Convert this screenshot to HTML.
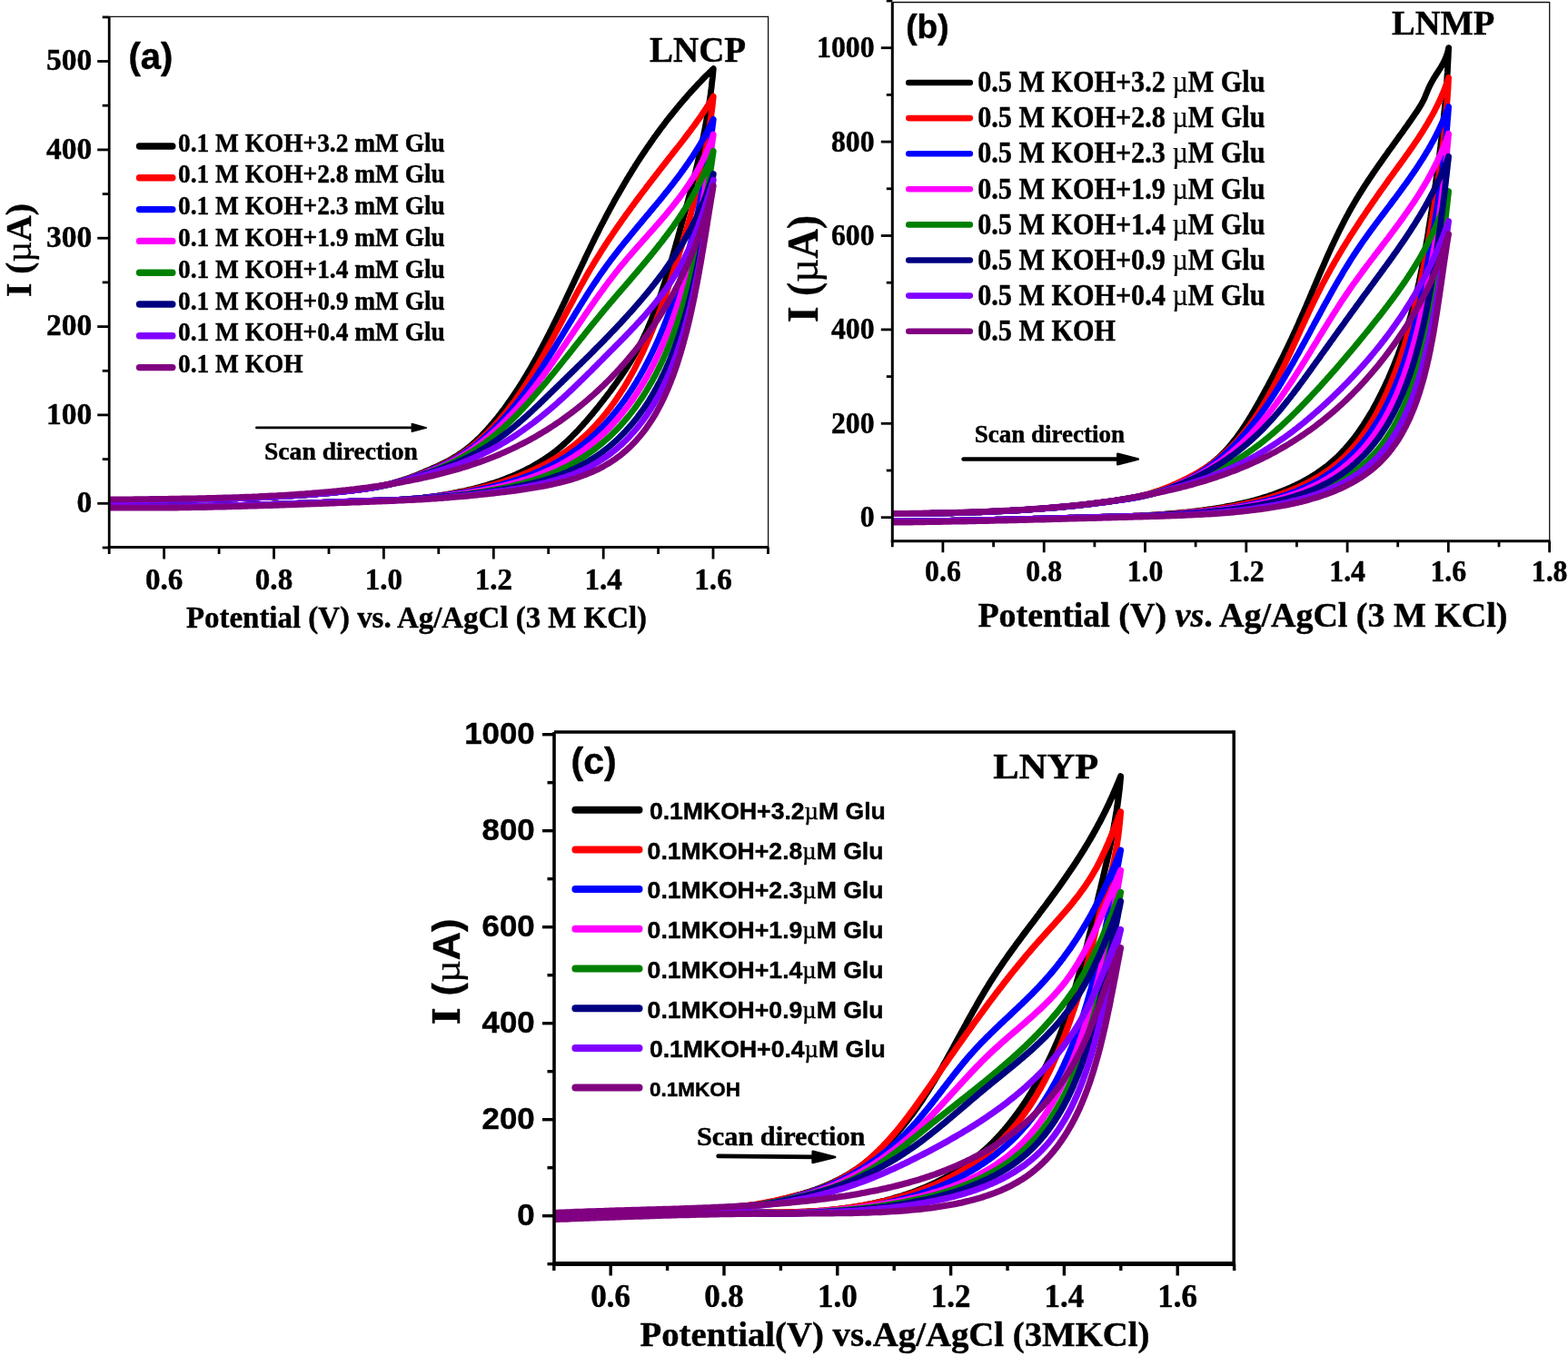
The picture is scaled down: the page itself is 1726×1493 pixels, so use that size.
<!DOCTYPE html>
<html lang="en"><head><meta charset="utf-8"><title>Cyclic voltammograms: LNCP, LNMP, LNYP</title>
<style>html,body{margin:0;padding:0;background:#fff}svg{display:block}text{fill:#000}</style></head><body>
<svg width="1726" height="1493" viewBox="0 0 1726 1493">
<rect width="1726" height="1493" fill="#fff"/>
<g id="panel-a">
<clipPath id="clip-a"><rect x="120.2" y="18.3" width="725.4" height="584.2"/></clipPath>
<g fill="none" stroke-linejoin="round" stroke-linecap="round" clip-path="url(#clip-a)">
<path d="M120.2,551.2 L123.6,551.2 L127.1,551.1 L130.5,551.1 L134,551.1 L137.4,551 L140.9,551 L144.3,551 L147.8,550.9 L151.3,550.9 L154.7,550.8 L158.2,550.8 L161.7,550.8 L165.2,550.7 L168.7,550.7 L172.1,550.6 L175.6,550.6 L179.1,550.6 L182.6,550.5 L186.1,550.5 L189.6,550.4 L193.1,550.4 L196.6,550.3 L200.1,550.2 L203.6,550.2 L207.1,550.1 L210.6,550.1 L214.1,550 L217.6,549.9 L221.1,549.9 L224.6,549.8 L228,549.7 L231.5,549.6 L235,549.5 L238.5,549.4 L242,549.3 L245.5,549.2 L248.9,549.1 L252.4,549 L255.9,548.9 L259.3,548.8 L262.8,548.7 L266.2,548.6 L269.7,548.4 L273.1,548.3 L276.6,548.2 L280,548 L283.4,547.9 L286.8,547.7 L290.2,547.6 L293.7,547.4 L297.1,547.3 L300.4,547.1 L303.8,546.9 L307.2,546.7 L310.6,546.5 L313.9,546.3 L317.3,546.1 L320.6,545.9 L324,545.7 L327.3,545.5 L330.6,545.2 L333.9,545 L337.2,544.8 L340.5,544.5 L343.8,544.3 L347,544 L350.3,543.7 L353.5,543.5 L356.7,543.2 L360,542.9 L363.2,542.6 L366.4,542.3 L369.5,542 L372.7,541.7 L375.9,541.3 L379,541 L382.1,540.6 L385.2,540.3 L388.3,539.9 L391.4,539.6 L394.5,539.2 L397.6,538.8 L400.6,538.4 L403.6,537.9 L406.6,537.4 L409.6,536.9 L412.6,536.4 L415.6,535.8 L418.5,535.2 L421.4,534.6 L424.3,533.9 L427.2,533.2 L430.1,532.5 L432.9,531.7 L435.8,530.9 L438.6,530.1 L441.4,529.2 L444.2,528.3 L446.9,527.4 L449.7,526.4 L452.4,525.4 L455.1,524.4 L457.8,523.4 L460.5,522.3 L463.1,521.2 L465.7,520.1 L468.3,519 L470.9,517.9 L473.4,516.8 L475.9,515.7 L478.4,514.6 L480.9,513.5 L483.3,512.4 L485.7,511.2 L488.1,510.1 L490.5,508.9 L492.8,507.7 L495.1,506.4 L497.4,505.1 L499.6,503.8 L501.8,502.5 L504,501.1 L506.1,499.7 L508.3,498.2 L510.3,496.8 L512.4,495.3 L514.4,493.7 L516.4,492.1 L518.3,490.5 L520.2,488.9 L522.1,487.2 L524,485.5 L525.8,483.8 L527.6,482.1 L529.4,480.3 L531.1,478.5 L532.9,476.7 L534.6,474.8 L536.3,473 L537.9,471.1 L539.6,469.2 L541.2,467.3 L542.9,465.4 L544.5,463.4 L546.1,461.5 L547.7,459.5 L549.2,457.5 L550.8,455.5 L552.3,453.5 L553.8,451.5 L555.4,449.5 L556.9,447.4 L558.4,445.3 L559.8,443.3 L561.3,441.2 L562.8,439.1 L564.2,437 L565.6,434.9 L567.1,432.7 L568.5,430.6 L569.9,428.5 L571.3,426.3 L572.7,424.1 L574,422 L575.4,419.8 L576.7,417.6 L578.1,415.4 L579.4,413.1 L580.7,410.9 L582.1,408.7 L583.4,406.4 L584.7,404.2 L586,401.9 L587.2,399.7 L588.5,397.4 L589.8,395.1 L591.1,392.8 L592.3,390.5 L593.6,388.2 L594.8,385.9 L596,383.6 L597.3,381.2 L598.5,378.9 L599.7,376.6 L600.9,374.2 L602.1,371.9 L603.3,369.5 L604.5,367.2 L605.7,364.8 L606.9,362.5 L608.1,360.1 L609.2,357.7 L610.4,355.3 L611.6,352.9 L612.7,350.6 L613.9,348.2 L615.1,345.8 L616.2,343.4 L617.4,341 L618.5,338.6 L619.7,336.2 L620.8,333.8 L622,331.4 L623.1,329 L624.2,326.5 L625.4,324.1 L626.5,321.7 L627.7,319.3 L628.8,316.9 L629.9,314.5 L631.1,312.1 L632.2,309.6 L633.3,307.2 L634.5,304.8 L635.6,302.4 L636.7,300 L637.9,297.6 L639,295.2 L640.2,292.7 L641.3,290.3 L642.5,287.9 L643.6,285.5 L644.7,283.1 L645.9,280.7 L647,278.3 L648.2,275.9 L649.4,273.5 L650.5,271.1 L651.7,268.7 L652.9,266.4 L654,264 L655.2,261.6 L656.4,259.2 L657.6,256.9 L658.8,254.5 L659.9,252.1 L661.1,249.8 L662.3,247.4 L663.6,245.1 L664.8,242.8 L666,240.4 L667.2,238.1 L668.4,235.8 L669.7,233.5 L670.9,231.2 L672.2,228.9 L673.4,226.6 L674.7,224.3 L675.9,222 L677.2,219.7 L678.5,217.4 L679.8,215.1 L681.1,212.9 L682.4,210.6 L683.7,208.4 L685,206.1 L686.3,203.9 L687.6,201.6 L688.9,199.4 L690.2,197.2 L691.6,195 L692.9,192.8 L694.3,190.6 L695.6,188.4 L697,186.2 L698.4,184 L699.7,181.8 L701.1,179.7 L702.5,177.5 L703.9,175.3 L705.3,173.2 L706.7,171.1 L708.1,168.9 L709.6,166.8 L711,164.7 L712.4,162.6 L713.9,160.5 L715.3,158.4 L716.8,156.3 L718.3,154.2 L719.7,152.1 L721.2,150 L722.7,148 L724.2,145.9 L725.7,143.9 L727.2,141.8 L728.7,139.8 L730.3,137.8 L731.8,135.7 L733.3,133.7 L734.9,131.7 L736.4,129.7 L738,127.8 L739.6,125.8 L741.2,123.8 L742.8,121.9 L744.4,119.9 L746,118 L747.6,116 L749.2,114.1 L750.8,112.2 L752.5,110.3 L754.1,108.4 L755.8,106.5 L757.4,104.6 L759.1,102.7 L760.8,100.8 L762.5,99 L764.2,97.1 L765.9,95.3 L767.6,93.4 L769.3,91.6 L771.1,89.8 L772.8,88 L774.6,86.2 L776.3,84.4 L778.1,82.6 L779.9,80.9 L781.7,79.1 L783.5,77.3 L785.3,75.6 L785,78.9 L784.7,82.1 L784.4,85.3 L784,88.5 L783.6,91.7 L783.3,94.9 L782.9,98.1 L782.5,101.2 L782.1,104.3 L781.6,107.5 L781.2,110.6 L780.7,113.7 L780.3,116.8 L779.8,119.8 L779.3,122.9 L778.8,125.9 L778.3,129 L777.7,132 L777.2,135 L776.6,138 L776.1,141 L775.5,144 L774.9,147 L774.3,149.9 L773.7,152.9 L773.1,155.8 L772.5,158.8 L771.9,161.7 L771.3,164.6 L770.6,167.5 L770,170.4 L769.3,173.3 L768.6,176.2 L768,179.1 L767.3,182 L766.6,184.8 L765.9,187.7 L765.2,190.5 L764.5,193.4 L763.8,196.2 L763.1,199.1 L762.3,201.9 L761.6,204.7 L760.9,207.6 L760.2,210.4 L759.4,213.2 L758.7,216 L757.9,218.8 L757.2,221.6 L756.4,224.4 L755.7,227.2 L754.9,230 L754.2,232.8 L753.4,235.6 L752.6,238.4 L751.9,241.2 L751.1,244 L750.3,246.7 L749.6,249.5 L748.8,252.3 L748,255.1 L747.2,257.9 L746.5,260.7 L745.7,263.4 L744.9,266.2 L744.1,269 L743.4,271.8 L742.6,274.5 L741.8,277.3 L741,280.1 L740.2,282.8 L739.4,285.6 L738.6,288.3 L737.8,291.1 L737,293.8 L736.2,296.6 L735.3,299.3 L734.5,302 L733.7,304.7 L732.8,307.4 L732,310.1 L731.1,312.8 L730.2,315.5 L729.3,318.2 L728.5,320.8 L727.6,323.5 L726.7,326.1 L725.7,328.8 L724.8,331.4 L723.9,334 L722.9,336.6 L722,339.2 L721,341.8 L720,344.4 L719,346.9 L718,349.5 L717,352 L715.9,354.5 L714.9,357 L713.8,359.5 L712.8,362 L711.7,364.5 L710.6,366.9 L709.4,369.3 L708.3,371.8 L707.1,374.2 L706,376.5 L704.8,378.9 L703.6,381.3 L702.4,383.6 L701.1,385.9 L699.9,388.2 L698.6,390.5 L697.3,392.7 L696,395 L694.6,397.2 L693.3,399.4 L691.9,401.6 L690.6,403.8 L689.2,405.9 L687.8,408.1 L686.3,410.2 L684.9,412.3 L683.5,414.4 L682,416.5 L680.5,418.6 L679.1,420.7 L677.6,422.8 L676.1,424.8 L674.6,426.9 L673.1,428.9 L671.6,431 L670,433 L668.5,435 L667,437 L665.4,439 L663.9,441 L662.3,443 L660.7,445 L659.2,447 L657.6,449 L656,450.9 L654.4,452.9 L652.8,454.8 L651.2,456.8 L649.5,458.7 L647.9,460.6 L646.3,462.5 L644.6,464.4 L642.9,466.3 L641.3,468.2 L639.6,470.1 L637.9,471.9 L636.2,473.8 L634.4,475.6 L632.7,477.4 L630.9,479.2 L629.2,481 L627.4,482.7 L625.6,484.5 L623.7,486.2 L621.9,487.9 L620,489.6 L618.1,491.3 L616.2,492.9 L614.3,494.5 L612.3,496.1 L610.3,497.6 L608.3,499.2 L606.2,500.7 L604.2,502.2 L602.1,503.6 L599.9,505.1 L597.8,506.5 L595.6,507.8 L593.4,509.2 L591.2,510.5 L588.9,511.8 L586.7,513.1 L584.4,514.4 L582.1,515.6 L579.7,516.8 L577.4,518 L575,519.2 L572.6,520.3 L570.1,521.4 L567.7,522.5 L565.2,523.6 L562.7,524.6 L560.1,525.7 L557.6,526.7 L555,527.7 L552.4,528.6 L549.8,529.6 L547.2,530.5 L544.5,531.4 L541.8,532.2 L539.1,533.1 L536.4,533.9 L533.7,534.7 L530.9,535.5 L528.1,536.3 L525.3,537 L522.5,537.8 L519.6,538.5 L516.8,539.2 L513.9,539.8 L511,540.5 L508.1,541.1 L505.1,541.7 L502.2,542.3 L499.2,542.9 L496.2,543.5 L493.2,544 L490.1,544.5 L487.1,545 L484,545.5 L480.9,546 L477.8,546.4 L474.7,546.9 L471.5,547.3 L468.4,547.7 L465.2,548.1 L462,548.4 L458.8,548.8 L455.6,549.1 L452.3,549.4 L449.1,549.6 L445.8,549.9 L442.5,550.1 L439.2,550.3 L435.9,550.4 L432.6,550.6 L429.2,550.7 L425.8,550.8 L422.5,550.9 L419.1,551 L415.7,551.1 L412.3,551.2 L408.9,551.3 L405.5,551.4 L402,551.5 L398.6,551.6 L395.1,551.7 L391.7,551.9 L388.2,552 L384.7,552.1 L381.3,552.3 L377.8,552.4 L374.3,552.5 L370.8,552.7 L367.3,552.8 L363.8,552.9 L360.3,553.1 L356.8,553.2 L353.3,553.3 L349.8,553.5 L346.3,553.6 L342.8,553.7 L339.3,553.9 L335.8,554 L332.3,554.1 L328.8,554.2 L325.3,554.4 L321.9,554.5 L318.4,554.6 L314.9,554.7 L311.4,554.9 L307.9,555 L304.5,555.1 L301,555.2 L297.6,555.3 L294.1,555.4 L290.7,555.5 L287.3,555.7 L283.9,555.8 L280.4,555.9 L277,556 L273.6,556.1 L270.3,556.2 L266.9,556.3 L263.5,556.4 L260.1,556.5 L256.8,556.5 L253.4,556.6 L250,556.7 L246.7,556.8 L243.3,556.9 L239.9,557 L236.6,557 L233.2,557.1 L229.8,557.2 L226.4,557.3 L223.1,557.3 L219.7,557.4 L216.3,557.4 L212.9,557.5 L209.5,557.6 L206.1,557.6 L202.7,557.7 L199.2,557.7 L195.8,557.7 L192.4,557.8 L188.9,557.8 L185.4,557.9 L181.9,557.9 L178.5,557.9 L174.9,557.9 L171.4,558 L167.9,558 L164.3,558 L160.8,558 L157.2,558 L153.6,558 L149.9,558 L146.3,558 L142.6,558 L139,558 L135.3,557.9 L131.5,557.9 L127.8,557.9 L124,557.8 L120.2,557.8" stroke="#000000" stroke-width="6.8"/>
<path d="M120.2,551.2 L123.7,551.2 L127.1,551.1 L130.6,551.1 L134,551.1 L137.5,551 L141,551 L144.5,551 L147.9,550.9 L151.4,550.9 L154.9,550.8 L158.4,550.8 L161.9,550.8 L165.4,550.7 L168.9,550.7 L172.4,550.6 L175.9,550.6 L179.4,550.6 L182.9,550.5 L186.4,550.5 L189.9,550.4 L193.4,550.4 L196.9,550.3 L200.4,550.2 L203.9,550.2 L207.4,550.1 L210.9,550.1 L214.4,550 L217.8,549.9 L221.3,549.8 L224.8,549.8 L228.3,549.7 L231.8,549.6 L235.3,549.5 L238.8,549.4 L242.3,549.3 L245.7,549.2 L249.2,549.1 L252.7,549 L256.1,548.9 L259.6,548.8 L263,548.7 L266.5,548.6 L269.9,548.4 L273.4,548.3 L276.8,548.2 L280.2,548 L283.7,547.9 L287.1,547.7 L290.5,547.6 L293.9,547.4 L297.3,547.2 L300.7,547.1 L304.1,546.9 L307.5,546.7 L310.8,546.5 L314.2,546.3 L317.5,546.1 L320.9,545.9 L324.2,545.7 L327.5,545.5 L330.9,545.2 L334.2,545 L337.5,544.8 L340.8,544.5 L344,544.2 L347.3,544 L350.6,543.7 L353.8,543.4 L357.1,543.2 L360.3,542.9 L363.5,542.6 L366.7,542.3 L369.9,541.9 L373.1,541.6 L376.2,541.3 L379.4,540.9 L382.5,540.6 L385.7,540.3 L388.8,539.9 L391.9,539.5 L395,539.1 L398,538.7 L401.1,538.3 L404.2,537.8 L407.2,537.3 L410.2,536.8 L413.2,536.3 L416.2,535.7 L419.2,535.1 L422.1,534.5 L425,533.9 L428,533.2 L430.9,532.5 L433.7,531.7 L436.6,531 L439.4,530.1 L442.3,529.3 L445.1,528.4 L447.8,527.5 L450.6,526.6 L453.3,525.6 L456,524.7 L458.7,523.6 L461.4,522.6 L464.1,521.5 L466.7,520.5 L469.3,519.4 L471.9,518.3 L474.4,517.2 L476.9,516.1 L479.4,515 L481.9,513.9 L484.3,512.8 L486.8,511.7 L489.1,510.5 L491.5,509.3 L493.8,508.1 L496.2,506.9 L498.4,505.6 L500.7,504.3 L502.9,502.9 L505.1,501.6 L507.2,500.2 L509.4,498.7 L511.5,497.3 L513.6,495.8 L515.6,494.3 L517.6,492.8 L519.6,491.2 L521.6,489.7 L523.6,488.1 L525.5,486.4 L527.4,484.8 L529.3,483.1 L531.2,481.4 L533,479.7 L534.8,478 L536.6,476.2 L538.4,474.5 L540.2,472.7 L541.9,470.9 L543.7,469 L545.4,467.2 L547.1,465.3 L548.8,463.4 L550.4,461.5 L552.1,459.6 L553.7,457.7 L555.3,455.8 L556.9,453.8 L558.5,451.8 L560,449.8 L561.6,447.8 L563.1,445.8 L564.7,443.8 L566.2,441.7 L567.7,439.7 L569.1,437.6 L570.6,435.5 L572.1,433.4 L573.5,431.3 L575,429.2 L576.4,427.1 L577.8,424.9 L579.2,422.8 L580.6,420.6 L582,418.4 L583.3,416.2 L584.7,414 L586.1,411.8 L587.4,409.6 L588.8,407.4 L590.1,405.2 L591.4,403 L592.7,400.7 L594,398.5 L595.3,396.2 L596.6,393.9 L597.9,391.7 L599.2,389.4 L600.5,387.1 L601.7,384.8 L603,382.5 L604.3,380.3 L605.5,378 L606.8,375.7 L608,373.3 L609.3,371 L610.5,368.7 L611.7,366.4 L613,364.1 L614.2,361.8 L615.5,359.4 L616.7,357.1 L617.9,354.8 L619.2,352.5 L620.4,350.1 L621.6,347.8 L622.8,345.5 L624.1,343.2 L625.3,340.8 L626.5,338.5 L627.8,336.2 L629,333.9 L630.3,331.6 L631.5,329.3 L632.7,326.9 L634,324.6 L635.2,322.3 L636.5,320 L637.8,317.7 L639,315.4 L640.3,313.1 L641.6,310.9 L642.8,308.6 L644.1,306.3 L645.4,304 L646.7,301.8 L648,299.5 L649.3,297.3 L650.6,295 L652,292.8 L653.3,290.6 L654.6,288.4 L656,286.2 L657.3,284 L658.7,281.8 L660.1,279.6 L661.4,277.4 L662.8,275.2 L664.2,273.1 L665.6,270.9 L667,268.7 L668.4,266.6 L669.8,264.4 L671.2,262.3 L672.7,260.2 L674.1,258.1 L675.5,255.9 L677,253.8 L678.4,251.7 L679.9,249.6 L681.3,247.5 L682.8,245.4 L684.3,243.3 L685.7,241.2 L687.2,239.2 L688.7,237.1 L690.2,235 L691.7,233 L693.2,230.9 L694.7,228.8 L696.2,226.8 L697.7,224.7 L699.2,222.7 L700.7,220.6 L702.2,218.6 L703.7,216.6 L705.3,214.5 L706.8,212.5 L708.3,210.5 L709.9,208.5 L711.4,206.4 L712.9,204.4 L714.5,202.4 L716,200.4 L717.6,198.4 L719.1,196.4 L720.7,194.4 L722.2,192.4 L723.8,190.4 L725.3,188.4 L726.9,186.4 L728.4,184.4 L730,182.4 L731.6,180.4 L733.1,178.4 L734.7,176.4 L736.2,174.4 L737.8,172.4 L739.4,170.4 L740.9,168.4 L742.5,166.4 L744.1,164.4 L745.6,162.5 L747.2,160.5 L748.8,158.5 L750.3,156.5 L751.9,154.5 L753.4,152.5 L755,150.4 L756.5,148.4 L758,146.4 L759.6,144.4 L761.1,142.3 L762.6,140.3 L764.1,138.3 L765.6,136.2 L767.1,134.1 L768.6,132 L770,130 L771.5,127.9 L772.9,125.7 L774.4,123.6 L775.8,121.5 L777.2,119.3 L778.6,117.2 L780,115 L781.3,112.8 L782.7,110.6 L784,108.3 L785.3,106.1 L785,109.3 L784.6,112.5 L784.3,115.7 L783.9,118.9 L783.5,122 L783.1,125.2 L782.7,128.3 L782.2,131.4 L781.8,134.5 L781.4,137.6 L780.9,140.7 L780.4,143.8 L779.9,146.9 L779.4,149.9 L778.9,153 L778.4,156 L777.9,159 L777.4,162 L776.8,165 L776.2,168 L775.7,171 L775.1,173.9 L774.5,176.9 L773.9,179.8 L773.3,182.8 L772.7,185.7 L772.1,188.6 L771.4,191.5 L770.8,194.4 L770.1,197.3 L769.5,200.2 L768.8,203.1 L768.1,206 L767.4,208.8 L766.7,211.7 L766,214.5 L765.3,217.4 L764.6,220.2 L763.8,223 L763.1,225.8 L762.4,228.6 L761.6,231.4 L760.9,234.2 L760.1,237 L759.3,239.8 L758.6,242.6 L757.8,245.3 L757,248.1 L756.2,250.8 L755.4,253.6 L754.6,256.3 L753.8,259.1 L753,261.8 L752.2,264.5 L751.3,267.3 L750.5,270 L749.7,272.7 L748.8,275.4 L748,278.1 L747.1,280.8 L746.3,283.5 L745.4,286.2 L744.6,288.9 L743.7,291.6 L742.9,294.2 L742,296.9 L741.1,299.6 L740.2,302.3 L739.4,304.9 L738.5,307.6 L737.6,310.3 L736.7,312.9 L735.8,315.6 L734.9,318.2 L734,320.9 L733.1,323.5 L732.2,326.1 L731.2,328.8 L730.3,331.4 L729.4,334 L728.4,336.6 L727.5,339.2 L726.5,341.8 L725.6,344.4 L724.6,346.9 L723.6,349.5 L722.6,352.1 L721.6,354.6 L720.6,357.2 L719.6,359.7 L718.6,362.2 L717.6,364.8 L716.5,367.3 L715.5,369.8 L714.4,372.3 L713.4,374.7 L712.3,377.2 L711.2,379.7 L710.1,382.1 L709,384.6 L707.9,387 L706.8,389.4 L705.6,391.8 L704.5,394.2 L703.3,396.6 L702.1,399 L700.9,401.3 L699.7,403.7 L698.5,406 L697.3,408.3 L696,410.6 L694.8,412.9 L693.5,415.2 L692.2,417.5 L690.9,419.7 L689.6,421.9 L688.3,424.2 L687,426.4 L685.6,428.6 L684.2,430.7 L682.8,432.9 L681.4,435 L680,437.2 L678.6,439.3 L677.1,441.4 L675.7,443.5 L674.2,445.5 L672.7,447.6 L671.2,449.6 L669.6,451.6 L668.1,453.6 L666.5,455.6 L664.9,457.5 L663.3,459.5 L661.7,461.4 L660,463.3 L658.4,465.2 L656.7,467 L655,468.9 L653.3,470.7 L651.5,472.5 L649.7,474.3 L648,476.1 L646.2,477.8 L644.3,479.5 L642.5,481.2 L640.6,482.9 L638.7,484.6 L636.8,486.2 L634.9,487.8 L632.9,489.4 L631,491 L629,492.5 L626.9,494 L624.9,495.6 L622.8,497 L620.7,498.5 L618.6,499.9 L616.5,501.3 L614.3,502.7 L612.1,504.1 L609.9,505.4 L607.7,506.7 L605.4,508 L603.2,509.3 L600.9,510.6 L598.5,511.8 L596.2,513 L593.8,514.2 L591.5,515.3 L589.1,516.5 L586.6,517.6 L584.2,518.7 L581.7,519.8 L579.2,520.9 L576.7,521.9 L574.2,522.9 L571.7,523.9 L569.1,524.9 L566.5,525.9 L563.9,526.8 L561.3,527.7 L558.6,528.6 L556,529.5 L553.3,530.4 L550.6,531.2 L547.9,532.1 L545.1,532.9 L542.4,533.7 L539.6,534.4 L536.8,535.2 L534,535.9 L531.2,536.6 L528.3,537.3 L525.5,538 L522.6,538.7 L519.7,539.3 L516.8,540 L513.8,540.6 L510.9,541.2 L507.9,541.8 L504.9,542.3 L501.9,542.9 L498.9,543.4 L495.9,543.9 L492.8,544.4 L489.8,544.9 L486.7,545.4 L483.6,545.8 L480.5,546.3 L477.4,546.7 L474.2,547.1 L471.1,547.5 L467.9,547.9 L464.7,548.3 L461.5,548.6 L458.3,548.9 L455.1,549.2 L451.8,549.5 L448.6,549.8 L445.3,550 L442,550.2 L438.7,550.4 L435.4,550.5 L432.1,550.7 L428.8,550.8 L425.4,550.9 L422.1,551 L418.7,551.1 L415.3,551.2 L412,551.3 L408.6,551.4 L405.2,551.5 L401.8,551.5 L398.4,551.6 L394.9,551.8 L391.5,551.9 L388.1,552 L384.6,552.1 L381.2,552.3 L377.7,552.4 L374.3,552.5 L370.8,552.7 L367.3,552.8 L363.8,552.9 L360.4,553.1 L356.9,553.2 L353.4,553.3 L349.9,553.5 L346.4,553.6 L343,553.7 L339.5,553.8 L336,554 L332.5,554.1 L329,554.2 L325.5,554.4 L322,554.5 L318.5,554.6 L315.1,554.7 L311.6,554.9 L308.1,555 L304.6,555.1 L301.1,555.2 L297.7,555.3 L294.2,555.4 L290.8,555.5 L287.3,555.7 L283.9,555.8 L280.4,555.9 L277,556 L273.5,556.1 L270.1,556.2 L266.7,556.3 L263.2,556.4 L259.8,556.5 L256.4,556.6 L253,556.6 L249.6,556.7 L246.1,556.8 L242.7,556.9 L239.3,557 L235.9,557.1 L232.5,557.1 L229,557.2 L225.6,557.3 L222.2,557.3 L218.8,557.4 L215.3,557.5 L211.9,557.5 L208.5,557.6 L205,557.6 L201.6,557.7 L198.1,557.7 L194.7,557.8 L191.2,557.8 L187.7,557.8 L184.3,557.9 L180.8,557.9 L177.3,557.9 L173.8,557.9 L170.3,558 L166.8,558 L163.3,558 L159.7,558 L156.2,558 L152.6,558 L149.1,558 L145.5,558 L141.9,558 L138.3,558 L134.7,557.9 L131.1,557.9 L127.5,557.9 L123.9,557.8 L120.2,557.8" stroke="#ff0000" stroke-width="6.8"/>
<path d="M120.2,551.2 L123.6,551.2 L127.1,551.1 L130.5,551.1 L133.9,551.1 L137.4,551 L140.8,551 L144.3,551 L147.8,550.9 L151.2,550.9 L154.7,550.8 L158.2,550.8 L161.7,550.8 L165.2,550.7 L168.6,550.7 L172.1,550.6 L175.6,550.6 L179.1,550.6 L182.6,550.5 L186.1,550.5 L189.6,550.4 L193.1,550.4 L196.6,550.3 L200.1,550.2 L203.6,550.2 L207.1,550.1 L210.6,550.1 L214.1,550 L217.6,549.9 L221.1,549.9 L224.6,549.8 L228.1,549.7 L231.6,549.6 L235.1,549.5 L238.6,549.4 L242,549.3 L245.5,549.2 L249,549.1 L252.5,549 L256,548.9 L259.4,548.8 L262.9,548.7 L266.4,548.6 L269.8,548.4 L273.3,548.3 L276.7,548.2 L280.2,548 L283.6,547.9 L287,547.7 L290.5,547.6 L293.9,547.4 L297.3,547.2 L300.7,547.1 L304.1,546.9 L307.5,546.7 L310.9,546.5 L314.2,546.3 L317.6,546.1 L321,545.9 L324.3,545.7 L327.7,545.5 L331,545.2 L334.3,545 L337.6,544.7 L340.9,544.5 L344.2,544.2 L347.5,544 L350.8,543.7 L354,543.4 L357.3,543.1 L360.5,542.8 L363.7,542.5 L366.9,542.2 L370.2,541.9 L373.3,541.6 L376.5,541.3 L379.7,540.9 L382.8,540.6 L386,540.2 L389.1,539.9 L392.2,539.5 L395.3,539.1 L398.4,538.7 L401.4,538.3 L404.5,537.8 L407.5,537.3 L410.5,536.8 L413.5,536.3 L416.5,535.8 L419.5,535.2 L422.4,534.6 L425.4,534 L428.3,533.3 L431.2,532.6 L434,531.9 L436.9,531.1 L439.7,530.3 L442.6,529.5 L445.4,528.7 L448.1,527.8 L450.9,526.9 L453.6,525.9 L456.3,524.9 L459,524 L461.7,522.9 L464.4,521.9 L467,520.8 L469.6,519.8 L472.2,518.7 L474.7,517.6 L477.3,516.5 L479.8,515.5 L482.2,514.4 L484.7,513.3 L487.1,512.2 L489.5,511 L491.9,509.9 L494.3,508.7 L496.6,507.4 L498.9,506.2 L501.2,504.9 L503.4,503.6 L505.6,502.2 L507.8,500.9 L510,499.5 L512.1,498.1 L514.2,496.6 L516.3,495.2 L518.4,493.7 L520.4,492.2 L522.5,490.6 L524.5,489.1 L526.4,487.5 L528.4,485.9 L530.3,484.3 L532.3,482.6 L534.1,481 L536,479.3 L537.9,477.6 L539.7,475.9 L541.5,474.2 L543.4,472.4 L545.1,470.7 L546.9,468.9 L548.7,467.1 L550.4,465.3 L552.1,463.4 L553.8,461.6 L555.5,459.7 L557.2,457.8 L558.9,455.9 L560.5,454 L562.2,452.1 L563.8,450.2 L565.4,448.2 L567,446.3 L568.6,444.3 L570.1,442.3 L571.7,440.3 L573.2,438.3 L574.8,436.3 L576.3,434.3 L577.8,432.2 L579.3,430.2 L580.8,428.1 L582.3,426 L583.8,424 L585.2,421.9 L586.7,419.8 L588.1,417.7 L589.6,415.6 L591,413.4 L592.4,411.3 L593.8,409.2 L595.3,407 L596.7,404.9 L598.1,402.7 L599.4,400.5 L600.8,398.4 L602.2,396.2 L603.6,394 L605,391.8 L606.3,389.6 L607.7,387.5 L609,385.3 L610.4,383.1 L611.7,380.9 L613.1,378.7 L614.4,376.4 L615.8,374.2 L617.1,372 L618.5,369.8 L619.8,367.6 L621.1,365.4 L622.5,363.2 L623.8,360.9 L625.2,358.7 L626.5,356.5 L627.8,354.3 L629.2,352.1 L630.5,349.9 L631.9,347.7 L633.2,345.4 L634.6,343.2 L635.9,341 L637.3,338.8 L638.6,336.6 L640,334.4 L641.3,332.2 L642.7,330.1 L644.1,327.9 L645.5,325.7 L646.8,323.5 L648.2,321.4 L649.6,319.2 L651,317 L652.4,314.9 L653.8,312.7 L655.3,310.6 L656.7,308.5 L658.1,306.4 L659.6,304.2 L661,302.1 L662.5,300 L663.9,298 L665.4,295.9 L666.9,293.8 L668.4,291.8 L669.9,289.7 L671.4,287.7 L672.9,285.6 L674.5,283.6 L676,281.6 L677.6,279.6 L679.1,277.6 L680.7,275.6 L682.2,273.6 L683.8,271.6 L685.4,269.7 L687,267.7 L688.6,265.7 L690.2,263.8 L691.8,261.8 L693.4,259.8 L695,257.9 L696.6,256 L698.2,254 L699.8,252.1 L701.4,250.1 L703,248.2 L704.7,246.3 L706.3,244.3 L707.9,242.4 L709.5,240.5 L711.1,238.5 L712.8,236.6 L714.4,234.7 L716,232.7 L717.6,230.8 L719.2,228.8 L720.8,226.9 L722.5,225 L724.1,223 L725.7,221.1 L727.3,219.1 L728.9,217.2 L730.5,215.2 L732,213.2 L733.6,211.3 L735.2,209.3 L736.8,207.3 L738.3,205.3 L739.9,203.3 L741.5,201.3 L743,199.3 L744.5,197.3 L746.1,195.3 L747.6,193.2 L749.1,191.2 L750.6,189.1 L752.1,187.1 L753.6,185 L755,182.9 L756.5,180.8 L758,178.7 L759.4,176.6 L760.8,174.5 L762.3,172.3 L763.7,170.2 L765,168 L766.4,165.8 L767.8,163.7 L769.1,161.5 L770.5,159.2 L771.8,157 L773.1,154.8 L774.4,152.5 L775.7,150.2 L776.9,147.9 L778.2,145.6 L779.4,143.3 L780.6,140.9 L781.8,138.6 L783,136.2 L784.2,133.8 L785.3,131.4 L784.9,134.6 L784.5,137.7 L784.1,140.9 L783.7,144 L783.3,147.2 L782.8,150.3 L782.4,153.4 L782,156.5 L781.5,159.6 L781.1,162.7 L780.6,165.8 L780.1,168.9 L779.7,172 L779.2,175.1 L778.7,178.2 L778.2,181.2 L777.7,184.3 L777.2,187.3 L776.7,190.4 L776.1,193.4 L775.6,196.4 L775.1,199.4 L774.5,202.4 L774,205.4 L773.4,208.4 L772.8,211.4 L772.2,214.4 L771.7,217.4 L771.1,220.3 L770.5,223.3 L769.9,226.3 L769.2,229.2 L768.6,232.1 L768,235.1 L767.4,238 L766.7,240.9 L766.1,243.8 L765.4,246.7 L764.7,249.6 L764,252.5 L763.4,255.3 L762.7,258.2 L762,261.1 L761.3,263.9 L760.5,266.7 L759.8,269.6 L759.1,272.4 L758.3,275.2 L757.6,278 L756.8,280.8 L756.1,283.6 L755.3,286.4 L754.5,289.2 L753.7,291.9 L752.9,294.7 L752.1,297.4 L751.3,300.2 L750.5,302.9 L749.6,305.6 L748.8,308.4 L747.9,311.1 L747.1,313.8 L746.2,316.4 L745.3,319.1 L744.4,321.8 L743.5,324.5 L742.6,327.1 L741.7,329.8 L740.8,332.4 L739.9,335 L738.9,337.6 L738,340.2 L737,342.8 L736.1,345.4 L735.1,348 L734.1,350.6 L733.1,353.2 L732.1,355.7 L731.1,358.3 L730.1,360.8 L729,363.3 L728,365.8 L726.9,368.3 L725.9,370.8 L724.8,373.3 L723.7,375.8 L722.6,378.2 L721.5,380.7 L720.4,383.1 L719.2,385.5 L718.1,387.9 L716.9,390.3 L715.7,392.7 L714.6,395.1 L713.4,397.4 L712.1,399.8 L710.9,402.1 L709.7,404.5 L708.4,406.8 L707.2,409.1 L705.9,411.3 L704.6,413.6 L703.3,415.9 L702,418.1 L700.7,420.3 L699.3,422.5 L697.9,424.7 L696.6,426.9 L695.2,429.1 L693.8,431.2 L692.3,433.4 L690.9,435.5 L689.5,437.6 L688,439.7 L686.5,441.8 L685,443.8 L683.5,445.8 L681.9,447.9 L680.4,449.9 L678.8,451.9 L677.2,453.8 L675.6,455.8 L674,457.7 L672.4,459.7 L670.7,461.6 L669.1,463.4 L667.4,465.3 L665.7,467.2 L663.9,469 L662.2,470.8 L660.4,472.6 L658.6,474.4 L656.8,476.1 L655,477.9 L653.2,479.6 L651.3,481.3 L649.4,483 L647.5,484.6 L645.6,486.2 L643.7,487.9 L641.7,489.5 L639.7,491 L637.7,492.6 L635.7,494.1 L633.7,495.6 L631.6,497.1 L629.5,498.6 L627.4,500 L625.3,501.5 L623.1,502.9 L620.9,504.3 L618.7,505.6 L616.5,507 L614.3,508.3 L612,509.6 L609.7,510.8 L607.4,512.1 L605.1,513.3 L602.7,514.5 L600.3,515.7 L597.9,516.8 L595.5,518 L593.1,519.1 L590.6,520.2 L588.1,521.2 L585.6,522.3 L583,523.3 L580.4,524.2 L577.8,525.2 L575.2,526.2 L572.6,527.1 L569.9,528 L567.2,528.8 L564.5,529.7 L561.8,530.5 L559.1,531.4 L556.3,532.1 L553.5,532.9 L550.7,533.7 L547.9,534.4 L545.1,535.1 L542.2,535.8 L539.3,536.5 L536.4,537.2 L533.5,537.8 L530.6,538.4 L527.6,539 L524.7,539.6 L521.7,540.2 L518.7,540.8 L515.7,541.3 L512.6,541.8 L509.6,542.3 L506.5,542.8 L503.4,543.3 L500.3,543.8 L497.2,544.2 L494.1,544.7 L491,545.1 L487.8,545.5 L484.7,545.9 L481.5,546.3 L478.3,546.7 L475.1,547 L471.9,547.4 L468.7,547.7 L465.5,548.1 L462.2,548.4 L459,548.7 L455.7,549 L452.4,549.3 L449.2,549.5 L445.9,549.8 L442.6,550 L439.3,550.2 L435.9,550.3 L432.6,550.5 L429.3,550.7 L425.9,550.8 L422.6,550.9 L419.2,551 L415.9,551.1 L412.5,551.2 L409.1,551.3 L405.8,551.4 L402.4,551.5 L399,551.6 L395.6,551.7 L392.2,551.9 L388.8,552 L385.4,552.1 L382,552.2 L378.5,552.4 L375.1,552.5 L371.7,552.6 L368.3,552.8 L364.8,552.9 L361.4,553 L357.9,553.2 L354.5,553.3 L351,553.4 L347.6,553.5 L344.1,553.7 L340.7,553.8 L337.2,553.9 L333.7,554.1 L330.3,554.2 L326.8,554.3 L323.3,554.4 L319.8,554.6 L316.4,554.7 L312.9,554.8 L309.4,554.9 L305.9,555 L302.4,555.2 L298.9,555.3 L295.4,555.4 L291.9,555.5 L288.4,555.6 L284.9,555.7 L281.4,555.8 L277.9,555.9 L274.4,556.1 L270.9,556.2 L267.4,556.3 L263.9,556.4 L260.4,556.4 L256.9,556.5 L253.4,556.6 L249.9,556.7 L246.3,556.8 L242.8,556.9 L239.3,557 L235.8,557.1 L232.3,557.1 L228.8,557.2 L225.2,557.3 L221.7,557.3 L218.2,557.4 L214.7,557.5 L211.2,557.5 L207.7,557.6 L204.2,557.6 L200.6,557.7 L197.1,557.7 L193.6,557.8 L190.1,557.8 L186.6,557.9 L183.1,557.9 L179.6,557.9 L176.1,557.9 L172.6,558 L169.1,558 L165.6,558 L162.1,558 L158.6,558 L155.1,558 L151.6,558 L148.1,558 L144.6,558 L141.1,558 L137.6,558 L134.1,557.9 L130.6,557.9 L127.2,557.9 L123.7,557.8 L120.2,557.8" stroke="#0000ff" stroke-width="6.8"/>
<path d="M120.2,551.2 L123.6,551.2 L127.1,551.1 L130.5,551.1 L134,551.1 L137.4,551 L140.9,551 L144.4,551 L147.8,550.9 L151.3,550.9 L154.8,550.8 L158.3,550.8 L161.7,550.8 L165.2,550.7 L168.7,550.7 L172.2,550.6 L175.7,550.6 L179.2,550.6 L182.7,550.5 L186.2,550.5 L189.7,550.4 L193.2,550.4 L196.7,550.3 L200.2,550.2 L203.7,550.2 L207.2,550.1 L210.7,550.1 L214.2,550 L217.7,549.9 L221.2,549.8 L224.7,549.8 L228.2,549.7 L231.7,549.6 L235.2,549.5 L238.7,549.4 L242.2,549.3 L245.7,549.2 L249.2,549.1 L252.7,549 L256.1,548.9 L259.6,548.8 L263.1,548.7 L266.5,548.6 L270,548.4 L273.5,548.3 L276.9,548.2 L280.4,548 L283.8,547.9 L287.2,547.7 L290.7,547.6 L294.1,547.4 L297.5,547.2 L300.9,547.1 L304.3,546.9 L307.7,546.7 L311.1,546.5 L314.5,546.3 L317.8,546.1 L321.2,545.9 L324.6,545.7 L327.9,545.4 L331.2,545.2 L334.6,545 L337.9,544.7 L341.2,544.5 L344.5,544.2 L347.8,543.9 L351.1,543.7 L354.3,543.4 L357.6,543.1 L360.8,542.8 L364.1,542.5 L367.3,542.2 L370.5,541.9 L373.7,541.6 L376.9,541.2 L380,540.9 L383.2,540.5 L386.3,540.2 L389.5,539.8 L392.6,539.4 L395.7,539 L398.8,538.6 L401.9,538.2 L404.9,537.7 L408,537.3 L411,536.8 L414,536.3 L417,535.7 L420,535.1 L422.9,534.5 L425.9,533.9 L428.8,533.3 L431.7,532.6 L434.6,531.9 L437.5,531.1 L440.4,530.4 L443.2,529.5 L446,528.7 L448.8,527.9 L451.6,527 L454.3,526 L457.1,525.1 L459.8,524.1 L462.5,523.1 L465.1,522.1 L467.8,521.1 L470.4,520.1 L473,519 L475.6,518 L478.1,516.9 L480.7,515.9 L483.2,514.8 L485.7,513.8 L488.1,512.6 L490.5,511.5 L492.9,510.4 L495.3,509.2 L497.7,508 L500,506.7 L502.3,505.5 L504.6,504.2 L506.8,502.9 L509,501.5 L511.2,500.2 L513.4,498.8 L515.6,497.4 L517.7,495.9 L519.8,494.5 L521.9,493 L523.9,491.5 L526,490 L528,488.5 L530,486.9 L532,485.3 L533.9,483.7 L535.9,482.1 L537.8,480.5 L539.7,478.8 L541.6,477.2 L543.5,475.5 L545.3,473.8 L547.2,472.1 L549,470.3 L550.8,468.6 L552.6,466.8 L554.4,465.1 L556.2,463.3 L558,461.5 L559.7,459.7 L561.4,457.9 L563.2,456 L564.9,454.2 L566.6,452.3 L568.3,450.4 L569.9,448.6 L571.6,446.7 L573.2,444.7 L574.9,442.8 L576.5,440.9 L578.1,439 L579.7,437 L581.3,435.1 L582.9,433.1 L584.5,431.1 L586.1,429.1 L587.6,427.1 L589.2,425.1 L590.7,423.1 L592.3,421.1 L593.8,419.1 L595.3,417 L596.9,415 L598.4,412.9 L599.9,410.9 L601.4,408.8 L602.9,406.8 L604.4,404.7 L605.8,402.6 L607.3,400.5 L608.8,398.4 L610.2,396.3 L611.7,394.2 L613.2,392.2 L614.6,390 L616.1,387.9 L617.5,385.8 L619,383.7 L620.4,381.6 L621.9,379.5 L623.3,377.4 L624.7,375.2 L626.2,373.1 L627.6,371 L629,368.9 L630.5,366.8 L631.9,364.6 L633.4,362.5 L634.8,360.4 L636.2,358.3 L637.7,356.1 L639.1,354 L640.5,351.9 L642,349.8 L643.4,347.7 L644.9,345.5 L646.3,343.4 L647.8,341.3 L649.2,339.2 L650.7,337.1 L652.1,335 L653.6,332.9 L655.1,330.8 L656.5,328.7 L658,326.7 L659.5,324.6 L661,322.5 L662.5,320.5 L664,318.4 L665.5,316.3 L667,314.3 L668.5,312.3 L670,310.2 L671.6,308.2 L673.1,306.2 L674.7,304.2 L676.2,302.2 L677.8,300.2 L679.4,298.2 L680.9,296.2 L682.5,294.2 L684.1,292.3 L685.7,290.3 L687.4,288.4 L689,286.5 L690.6,284.5 L692.3,282.6 L693.9,280.7 L695.6,278.8 L697.2,276.9 L698.9,275 L700.5,273.1 L702.2,271.2 L703.9,269.3 L705.6,267.5 L707.2,265.6 L708.9,263.7 L710.6,261.8 L712.3,259.9 L713.9,258 L715.6,256.2 L717.3,254.3 L719,252.4 L720.6,250.5 L722.3,248.6 L724,246.7 L725.6,244.8 L727.3,242.9 L728.9,241 L730.6,239.1 L732.2,237.1 L733.8,235.2 L735.4,233.3 L737,231.3 L738.6,229.4 L740.2,227.4 L741.8,225.4 L743.4,223.4 L744.9,221.4 L746.5,219.4 L748,217.4 L749.5,215.3 L751,213.3 L752.5,211.2 L754,209.1 L755.5,207 L756.9,204.9 L758.3,202.8 L759.7,200.6 L761.1,198.5 L762.5,196.3 L763.9,194.1 L765.2,191.9 L766.5,189.6 L767.8,187.4 L769.1,185.1 L770.3,182.8 L771.6,180.4 L772.8,178.1 L774,175.7 L775.1,173.3 L776.3,170.9 L777.4,168.5 L778.5,166 L779.5,163.5 L780.6,161 L781.6,158.4 L782.5,155.8 L783.5,153.2 L784.4,150.6 L785.3,147.9 L784.9,151 L784.4,154.1 L784,157.2 L783.5,160.3 L783.1,163.4 L782.6,166.5 L782.2,169.6 L781.7,172.7 L781.2,175.8 L780.8,178.9 L780.3,181.9 L779.8,185 L779.3,188.1 L778.8,191.1 L778.3,194.2 L777.8,197.3 L777.3,200.3 L776.8,203.3 L776.3,206.4 L775.8,209.4 L775.3,212.4 L774.7,215.5 L774.2,218.5 L773.7,221.5 L773.1,224.5 L772.6,227.5 L772,230.5 L771.4,233.4 L770.9,236.4 L770.3,239.4 L769.7,242.4 L769.1,245.3 L768.5,248.3 L767.9,251.2 L767.3,254.1 L766.6,257.1 L766,260 L765.4,262.9 L764.7,265.8 L764.1,268.7 L763.4,271.6 L762.8,274.5 L762.1,277.4 L761.4,280.2 L760.7,283.1 L760,285.9 L759.3,288.8 L758.6,291.6 L757.9,294.4 L757.1,297.2 L756.4,300.1 L755.6,302.9 L754.9,305.6 L754.1,308.4 L753.3,311.2 L752.5,314 L751.7,316.7 L750.9,319.4 L750.1,322.2 L749.3,324.9 L748.4,327.6 L747.6,330.3 L746.7,333 L745.9,335.7 L745,338.4 L744.1,341 L743.2,343.7 L742.3,346.3 L741.4,348.9 L740.4,351.6 L739.5,354.2 L738.5,356.8 L737.6,359.4 L736.6,361.9 L735.6,364.5 L734.6,367 L733.6,369.6 L732.5,372.1 L731.5,374.6 L730.5,377.1 L729.4,379.6 L728.3,382.1 L727.2,384.5 L726.1,387 L725,389.4 L723.9,391.8 L722.7,394.2 L721.6,396.6 L720.4,399 L719.2,401.4 L718,403.7 L716.8,406.1 L715.6,408.4 L714.3,410.7 L713.1,413 L711.8,415.3 L710.5,417.5 L709.2,419.8 L707.9,422 L706.6,424.2 L705.2,426.4 L703.8,428.6 L702.5,430.8 L701.1,432.9 L699.6,435 L698.2,437.2 L696.8,439.3 L695.3,441.4 L693.8,443.4 L692.3,445.5 L690.8,447.5 L689.3,449.5 L687.7,451.5 L686.1,453.5 L684.6,455.5 L682.9,457.4 L681.3,459.3 L679.7,461.3 L678,463.1 L676.3,465 L674.7,466.9 L672.9,468.7 L671.2,470.5 L669.4,472.3 L667.7,474.1 L665.9,475.8 L664.1,477.6 L662.2,479.3 L660.4,481 L658.5,482.7 L656.6,484.3 L654.7,486 L652.8,487.6 L650.8,489.2 L648.8,490.8 L646.8,492.3 L644.8,493.8 L642.8,495.4 L640.7,496.8 L638.6,498.3 L636.5,499.8 L634.4,501.2 L632.3,502.6 L630.1,504 L627.9,505.3 L625.7,506.7 L623.4,508 L621.2,509.3 L618.9,510.5 L616.6,511.8 L614.3,513 L611.9,514.2 L609.5,515.4 L607.1,516.5 L604.7,517.6 L602.3,518.7 L599.8,519.8 L597.3,520.9 L594.8,521.9 L592.2,522.9 L589.7,523.9 L587.1,524.9 L584.5,525.8 L581.8,526.7 L579.2,527.6 L576.5,528.5 L573.8,529.3 L571.1,530.2 L568.3,531 L565.6,531.8 L562.8,532.5 L560,533.3 L557.2,534 L554.3,534.7 L551.5,535.4 L548.6,536.1 L545.7,536.8 L542.8,537.4 L539.9,538 L536.9,538.6 L534,539.2 L531,539.8 L528,540.4 L525,540.9 L522,541.4 L518.9,541.9 L515.9,542.4 L512.8,542.9 L509.7,543.4 L506.6,543.8 L503.5,544.3 L500.4,544.7 L497.2,545.1 L494.1,545.5 L490.9,545.9 L487.8,546.3 L484.6,546.6 L481.4,547 L478.1,547.3 L474.9,547.6 L471.7,548 L468.4,548.3 L465.2,548.6 L461.9,548.8 L458.6,549.1 L455.4,549.4 L452.1,549.6 L448.8,549.8 L445.5,550 L442.1,550.2 L438.8,550.3 L435.5,550.5 L432.1,550.6 L428.8,550.7 L425.4,550.9 L422.1,551 L418.7,551.1 L415.3,551.2 L412,551.3 L408.6,551.4 L405.2,551.4 L401.8,551.5 L398.4,551.6 L395,551.8 L391.6,551.9 L388.2,552 L384.8,552.1 L381.3,552.3 L377.9,552.4 L374.5,552.5 L371.1,552.7 L367.6,552.8 L364.2,552.9 L360.8,553 L357.3,553.2 L353.9,553.3 L350.4,553.4 L347,553.6 L343.5,553.7 L340.1,553.8 L336.6,554 L333.2,554.1 L329.7,554.2 L326.2,554.3 L322.8,554.5 L319.3,554.6 L315.8,554.7 L312.4,554.8 L308.9,554.9 L305.4,555.1 L301.9,555.2 L298.4,555.3 L294.9,555.4 L291.5,555.5 L288,555.6 L284.5,555.7 L281,555.9 L277.5,556 L274,556.1 L270.5,556.2 L267,556.3 L263.5,556.4 L260,556.5 L256.5,556.6 L253,556.6 L249.5,556.7 L246,556.8 L242.5,556.9 L239,557 L235.5,557.1 L232,557.1 L228.5,557.2 L225,557.3 L221.5,557.3 L218,557.4 L214.5,557.5 L211,557.5 L207.5,557.6 L204,557.6 L200.5,557.7 L197,557.7 L193.5,557.8 L190,557.8 L186.5,557.9 L183,557.9 L179.5,557.9 L176,557.9 L172.5,558 L169,558 L165.5,558 L162,558 L158.5,558 L155,558 L151.5,558 L148,558 L144.6,558 L141.1,558 L137.6,558 L134.1,557.9 L130.6,557.9 L127.1,557.9 L123.7,557.8 L120.2,557.8" stroke="#ff00ff" stroke-width="6.8"/>
<path d="M120.2,551.2 L123.6,551.2 L127,551.1 L130.5,551.1 L133.9,551.1 L137.3,551 L140.8,551 L144.2,551 L147.7,550.9 L151.2,550.9 L154.6,550.8 L158.1,550.8 L161.6,550.8 L165,550.7 L168.5,550.7 L172,550.6 L175.5,550.6 L179,550.6 L182.5,550.5 L186,550.5 L189.5,550.4 L193,550.4 L196.5,550.3 L200,550.2 L203.5,550.2 L207,550.1 L210.5,550.1 L214,550 L217.5,549.9 L221,549.9 L224.5,549.8 L228,549.7 L231.5,549.6 L235,549.5 L238.5,549.4 L242,549.3 L245.5,549.2 L249,549.1 L252.5,549 L255.9,548.9 L259.4,548.8 L262.9,548.7 L266.4,548.6 L269.8,548.4 L273.3,548.3 L276.8,548.2 L280.2,548 L283.7,547.9 L287.1,547.7 L290.5,547.6 L294,547.4 L297.4,547.2 L300.8,547.1 L304.2,546.9 L307.6,546.7 L311,546.5 L314.4,546.3 L317.8,546.1 L321.2,545.9 L324.5,545.7 L327.9,545.4 L331.2,545.2 L334.6,545 L337.9,544.7 L341.2,544.5 L344.5,544.2 L347.8,543.9 L351.1,543.7 L354.4,543.4 L357.7,543.1 L360.9,542.8 L364.2,542.5 L367.4,542.2 L370.6,541.9 L373.8,541.5 L377,541.2 L380.2,540.9 L383.4,540.5 L386.5,540.2 L389.6,539.8 L392.8,539.4 L395.9,539 L399,538.6 L402.1,538.2 L405.1,537.7 L408.2,537.3 L411.2,536.8 L414.2,536.3 L417.3,535.8 L420.2,535.2 L423.2,534.6 L426.2,534 L429.1,533.4 L432,532.7 L434.9,532 L437.8,531.3 L440.7,530.6 L443.5,529.8 L446.3,529 L449.1,528.2 L451.9,527.3 L454.7,526.4 L457.5,525.5 L460.2,524.6 L462.9,523.6 L465.6,522.6 L468.2,521.6 L470.9,520.6 L473.5,519.6 L476.1,518.6 L478.7,517.6 L481.2,516.6 L483.8,515.6 L486.3,514.5 L488.8,513.4 L491.2,512.4 L493.7,511.2 L496.1,510.1 L498.5,508.9 L500.9,507.8 L503.2,506.6 L505.5,505.3 L507.9,504.1 L510.2,502.8 L512.4,501.5 L514.7,500.2 L516.9,498.9 L519.1,497.6 L521.3,496.2 L523.4,494.8 L525.6,493.4 L527.7,491.9 L529.8,490.5 L531.9,489 L533.9,487.5 L536,486 L538,484.4 L540,482.9 L542,481.3 L543.9,479.7 L545.9,478.1 L547.8,476.5 L549.7,474.8 L551.6,473.2 L553.5,471.5 L555.4,469.8 L557.2,468.1 L559.1,466.4 L560.9,464.7 L562.7,462.9 L564.5,461.2 L566.3,459.4 L568.1,457.6 L569.8,455.8 L571.6,454 L573.3,452.2 L575.1,450.4 L576.8,448.5 L578.5,446.7 L580.2,444.8 L581.9,443 L583.6,441.1 L585.3,439.2 L586.9,437.3 L588.6,435.4 L590.2,433.5 L591.9,431.6 L593.5,429.7 L595.2,427.8 L596.8,425.9 L598.4,423.9 L600.1,422 L601.7,420.1 L603.3,418.1 L604.9,416.2 L606.5,414.2 L608.1,412.3 L609.7,410.3 L611.3,408.3 L612.9,406.4 L614.5,404.4 L616.1,402.4 L617.6,400.5 L619.2,398.5 L620.8,396.5 L622.4,394.5 L624,392.6 L625.5,390.6 L627.1,388.6 L628.7,386.6 L630.3,384.6 L631.8,382.7 L633.4,380.7 L635,378.7 L636.6,376.7 L638.1,374.7 L639.7,372.7 L641.3,370.8 L642.9,368.8 L644.4,366.8 L646,364.8 L647.6,362.9 L649.2,360.9 L650.8,358.9 L652.4,356.9 L654,355 L655.6,353 L657.2,351.1 L658.8,349.1 L660.4,347.2 L662,345.2 L663.6,343.3 L665.2,341.3 L666.8,339.4 L668.5,337.5 L670.1,335.5 L671.7,333.6 L673.4,331.7 L675,329.8 L676.6,327.9 L678.3,325.9 L679.9,324 L681.6,322.1 L683.2,320.2 L684.9,318.3 L686.5,316.4 L688.2,314.5 L689.8,312.6 L691.5,310.7 L693.1,308.8 L694.7,306.8 L696.4,304.9 L698,303 L699.7,301.1 L701.3,299.2 L702.9,297.3 L704.6,295.3 L706.2,293.4 L707.8,291.5 L709.5,289.5 L711.1,287.6 L712.7,285.7 L714.3,283.7 L715.9,281.8 L717.5,279.8 L719.1,277.9 L720.7,275.9 L722.3,273.9 L723.9,271.9 L725.4,269.9 L727,268 L728.6,266 L730.1,263.9 L731.6,261.9 L733.2,259.9 L734.7,257.9 L736.2,255.8 L737.7,253.8 L739.2,251.7 L740.7,249.7 L742.2,247.6 L743.6,245.5 L745.1,243.4 L746.5,241.3 L748,239.1 L749.4,237 L750.8,234.9 L752.2,232.7 L753.6,230.5 L755,228.4 L756.3,226.2 L757.7,224 L759,221.7 L760.3,219.5 L761.7,217.2 L762.9,215 L764.2,212.7 L765.5,210.4 L766.7,208.1 L768,205.8 L769.2,203.4 L770.4,201.1 L771.6,198.7 L772.7,196.3 L773.9,193.9 L775,191.5 L776.1,189 L777.2,186.6 L778.3,184.1 L779.4,181.6 L780.4,179.1 L781.4,176.5 L782.4,174 L783.4,171.4 L784.4,168.8 L785.3,166.2 L784.9,169.3 L784.4,172.4 L784,175.5 L783.5,178.6 L783.1,181.7 L782.6,184.8 L782.2,187.9 L781.7,191 L781.3,194.1 L780.8,197.2 L780.3,200.3 L779.8,203.3 L779.4,206.4 L778.9,209.5 L778.4,212.5 L777.9,215.6 L777.4,218.6 L776.9,221.7 L776.4,224.7 L775.9,227.8 L775.4,230.8 L774.9,233.8 L774.3,236.9 L773.8,239.9 L773.3,242.9 L772.7,245.9 L772.2,248.9 L771.6,251.9 L771.1,254.9 L770.5,257.9 L769.9,260.8 L769.3,263.8 L768.7,266.8 L768.1,269.7 L767.5,272.7 L766.9,275.6 L766.3,278.5 L765.7,281.4 L765,284.4 L764.4,287.3 L763.8,290.2 L763.1,293 L762.4,295.9 L761.7,298.8 L761.1,301.7 L760.4,304.5 L759.7,307.4 L758.9,310.2 L758.2,313 L757.5,315.8 L756.7,318.6 L756,321.4 L755.2,324.2 L754.4,327 L753.7,329.7 L752.9,332.5 L752.1,335.2 L751.2,338 L750.4,340.7 L749.6,343.4 L748.7,346.1 L747.8,348.8 L747,351.5 L746.1,354.1 L745.2,356.8 L744.3,359.4 L743.3,362 L742.4,364.6 L741.5,367.2 L740.5,369.8 L739.5,372.4 L738.5,375 L737.5,377.5 L736.5,380 L735.5,382.6 L734.4,385.1 L733.4,387.6 L732.3,390 L731.2,392.5 L730.1,394.9 L729,397.4 L727.9,399.8 L726.7,402.2 L725.6,404.6 L724.4,407 L723.2,409.3 L722,411.7 L720.8,414 L719.5,416.3 L718.3,418.6 L717,420.9 L715.7,423.1 L714.4,425.4 L713.1,427.6 L711.8,429.8 L710.4,432 L709.1,434.2 L707.7,436.4 L706.3,438.5 L704.8,440.6 L703.4,442.7 L701.9,444.8 L700.5,446.9 L699,449 L697.5,451 L695.9,453 L694.4,455 L692.8,457 L691.2,459 L689.6,460.9 L688,462.8 L686.3,464.7 L684.7,466.6 L683,468.5 L681.3,470.3 L679.6,472.2 L677.8,474 L676.1,475.7 L674.3,477.5 L672.5,479.2 L670.6,481 L668.8,482.7 L666.9,484.3 L665,486 L663.1,487.6 L661.2,489.3 L659.2,490.8 L657.2,492.4 L655.2,494 L653.2,495.5 L651.2,497 L649.1,498.5 L647,499.9 L644.9,501.4 L642.8,502.8 L640.6,504.2 L638.4,505.5 L636.2,506.9 L634,508.2 L631.7,509.5 L629.5,510.8 L627.2,512 L624.8,513.2 L622.5,514.4 L620.1,515.6 L617.7,516.8 L615.3,517.9 L612.8,519 L610.4,520.1 L607.9,521.1 L605.3,522.1 L602.8,523.1 L600.2,524.1 L597.6,525.1 L595,526 L592.4,526.9 L589.7,527.8 L587,528.7 L584.3,529.5 L581.6,530.3 L578.8,531.1 L576.1,531.9 L573.3,532.7 L570.5,533.4 L567.6,534.1 L564.8,534.8 L561.9,535.5 L559,536.2 L556.1,536.8 L553.2,537.4 L550.3,538 L547.3,538.6 L544.3,539.2 L541.3,539.7 L538.3,540.3 L535.3,540.8 L532.2,541.3 L529.2,541.8 L526.1,542.3 L523,542.7 L519.9,543.2 L516.8,543.6 L513.7,544 L510.5,544.4 L507.4,544.8 L504.2,545.2 L501,545.6 L497.8,545.9 L494.6,546.3 L491.4,546.6 L488.2,546.9 L484.9,547.2 L481.7,547.5 L478.4,547.8 L475.1,548.1 L471.9,548.4 L468.6,548.6 L465.3,548.9 L462,549.1 L458.6,549.3 L455.3,549.5 L452,549.7 L448.7,549.9 L445.3,550 L442,550.2 L438.6,550.3 L435.2,550.5 L431.9,550.6 L428.5,550.7 L425.1,550.8 L421.7,550.9 L418.3,551 L414.9,551.1 L411.5,551.2 L408.1,551.3 L404.7,551.4 L401.3,551.5 L397.9,551.7 L394.5,551.8 L391.1,551.9 L387.7,552 L384.3,552.2 L380.9,552.3 L377.4,552.4 L374,552.5 L370.6,552.7 L367.2,552.8 L363.7,552.9 L360.3,553.1 L356.9,553.2 L353.4,553.3 L350,553.5 L346.6,553.6 L343.1,553.7 L339.7,553.8 L336.3,554 L332.8,554.1 L329.4,554.2 L325.9,554.3 L322.5,554.5 L319,554.6 L315.6,554.7 L312.1,554.8 L308.6,555 L305.2,555.1 L301.7,555.2 L298.3,555.3 L294.8,555.4 L291.3,555.5 L287.9,555.6 L284.4,555.7 L280.9,555.9 L277.5,556 L274,556.1 L270.5,556.2 L267,556.3 L263.6,556.4 L260.1,556.5 L256.6,556.6 L253.1,556.6 L249.7,556.7 L246.2,556.8 L242.7,556.9 L239.2,557 L235.7,557.1 L232.2,557.1 L228.7,557.2 L225.3,557.3 L221.8,557.3 L218.3,557.4 L214.8,557.5 L211.3,557.5 L207.8,557.6 L204.3,557.6 L200.8,557.7 L197.3,557.7 L193.8,557.8 L190.3,557.8 L186.8,557.8 L183.3,557.9 L179.8,557.9 L176.3,557.9 L172.8,558 L169.3,558 L165.8,558 L162.3,558 L158.8,558 L155.3,558 L151.8,558 L148.3,558 L144.8,558 L141.3,558 L137.8,558 L134.2,557.9 L130.7,557.9 L127.2,557.9 L123.7,557.8 L120.2,557.8" stroke="#008000" stroke-width="6.8"/>
<path d="M120.2,551.2 L123.7,551.2 L127.2,551.1 L130.7,551.1 L134.2,551.1 L137.7,551 L141.2,551 L144.7,551 L148.2,550.9 L151.7,550.9 L155.2,550.8 L158.7,550.8 L162.2,550.8 L165.7,550.7 L169.2,550.7 L172.7,550.6 L176.2,550.6 L179.7,550.6 L183.2,550.5 L186.7,550.5 L190.2,550.4 L193.8,550.3 L197.3,550.3 L200.8,550.2 L204.3,550.2 L207.8,550.1 L211.3,550 L214.8,550 L218.2,549.9 L221.7,549.8 L225.2,549.8 L228.7,549.7 L232.2,549.6 L235.7,549.5 L239.2,549.4 L242.6,549.3 L246.1,549.2 L249.6,549.1 L253,549 L256.5,548.9 L259.9,548.8 L263.4,548.7 L266.8,548.6 L270.3,548.4 L273.7,548.3 L277.1,548.2 L280.5,548 L284,547.9 L287.4,547.7 L290.8,547.6 L294.2,547.4 L297.6,547.2 L301,547.1 L304.3,546.9 L307.7,546.7 L311.1,546.5 L314.4,546.3 L317.8,546.1 L321.1,545.9 L324.4,545.7 L327.8,545.4 L331.1,545.2 L334.4,545 L337.7,544.7 L341,544.5 L344.2,544.2 L347.5,544 L350.8,543.7 L354,543.4 L357.3,543.1 L360.5,542.8 L363.7,542.5 L366.9,542.2 L370.1,541.9 L373.3,541.6 L376.5,541.3 L379.6,540.9 L382.8,540.6 L385.9,540.2 L389.1,539.9 L392.2,539.5 L395.3,539.1 L398.4,538.7 L401.5,538.2 L404.5,537.8 L407.6,537.3 L410.6,536.8 L413.7,536.3 L416.7,535.7 L419.7,535.1 L422.7,534.5 L425.6,533.9 L428.6,533.3 L431.5,532.6 L434.5,531.9 L437.4,531.2 L440.3,530.4 L443.1,529.6 L446,528.8 L448.9,528 L451.7,527.2 L454.5,526.3 L457.3,525.5 L460.1,524.6 L462.9,523.7 L465.6,522.7 L468.4,521.8 L471.1,520.9 L473.8,520 L476.5,519 L479.1,518.1 L481.8,517.2 L484.4,516.3 L487,515.4 L489.6,514.4 L492.2,513.4 L494.7,512.4 L497.3,511.4 L499.8,510.3 L502.3,509.3 L504.8,508.2 L507.2,507.1 L509.7,506 L512.1,504.9 L514.5,503.7 L516.9,502.5 L519.2,501.3 L521.6,500.1 L523.9,498.9 L526.2,497.6 L528.4,496.3 L530.7,495 L532.9,493.7 L535.1,492.3 L537.3,491 L539.5,489.6 L541.6,488.1 L543.7,486.7 L545.8,485.3 L547.9,483.8 L550,482.3 L552,480.8 L554.1,479.3 L556.1,477.7 L558.1,476.2 L560.1,474.6 L562.1,473 L564,471.4 L566,469.8 L567.9,468.2 L569.8,466.6 L571.7,464.9 L573.6,463.3 L575.5,461.6 L577.4,459.9 L579.3,458.3 L581.1,456.6 L583,454.9 L584.8,453.2 L586.7,451.4 L588.5,449.7 L590.3,448 L592.2,446.3 L594,444.5 L595.8,442.8 L597.6,441 L599.4,439.3 L601.2,437.5 L603,435.8 L604.8,434 L606.6,432.3 L608.4,430.5 L610.2,428.8 L612,427 L613.8,425.3 L615.6,423.5 L617.4,421.8 L619.2,420 L621,418.2 L622.8,416.5 L624.6,414.7 L626.4,413 L628.2,411.2 L630,409.5 L631.8,407.7 L633.6,406 L635.4,404.2 L637.2,402.4 L639,400.7 L640.8,398.9 L642.6,397.1 L644.4,395.4 L646.2,393.6 L648,391.8 L649.7,390.1 L651.5,388.3 L653.3,386.5 L655.1,384.7 L656.8,382.9 L658.6,381.2 L660.4,379.4 L662.1,377.6 L663.9,375.8 L665.7,374 L667.4,372.2 L669.2,370.4 L670.9,368.6 L672.6,366.7 L674.4,364.9 L676.1,363.1 L677.8,361.3 L679.6,359.5 L681.3,357.6 L683,355.8 L684.7,353.9 L686.4,352.1 L688.1,350.2 L689.8,348.4 L691.5,346.5 L693.2,344.6 L694.9,342.8 L696.6,340.9 L698.2,339 L699.9,337.1 L701.5,335.2 L703.2,333.3 L704.8,331.4 L706.5,329.5 L708.1,327.5 L709.7,325.6 L711.3,323.7 L713,321.7 L714.6,319.8 L716.1,317.8 L717.7,315.8 L719.3,313.9 L720.9,311.9 L722.4,309.9 L724,307.9 L725.5,305.8 L727,303.8 L728.6,301.8 L730.1,299.7 L731.6,297.7 L733.1,295.6 L734.5,293.5 L736,291.4 L737.5,289.4 L738.9,287.2 L740.4,285.1 L741.8,283 L743.2,280.8 L744.6,278.7 L746,276.5 L747.4,274.3 L748.7,272.1 L750.1,269.9 L751.4,267.7 L752.7,265.5 L754,263.2 L755.3,261 L756.6,258.7 L757.9,256.4 L759.1,254.1 L760.4,251.8 L761.6,249.5 L762.8,247.1 L764,244.8 L765.2,242.4 L766.4,240 L767.5,237.6 L768.6,235.2 L769.8,232.8 L770.9,230.3 L771.9,227.8 L773,225.3 L774.1,222.8 L775.1,220.3 L776.1,217.8 L777.1,215.2 L778.1,212.6 L779.1,210.1 L780,207.4 L780.9,204.8 L781.9,202.2 L782.7,199.5 L783.6,196.8 L784.5,194.1 L785.3,191.4 L784.8,194.5 L784.4,197.6 L783.9,200.6 L783.4,203.7 L782.9,206.8 L782.4,209.8 L782,212.9 L781.5,216 L781,219 L780.5,222.1 L780,225.1 L779.5,228.2 L779,231.2 L778.5,234.3 L778,237.3 L777.5,240.4 L777,243.4 L776.5,246.4 L775.9,249.5 L775.4,252.5 L774.9,255.5 L774.4,258.5 L773.8,261.5 L773.3,264.5 L772.7,267.5 L772.1,270.5 L771.6,273.5 L771,276.5 L770.4,279.4 L769.8,282.4 L769.2,285.3 L768.6,288.3 L768,291.2 L767.4,294.2 L766.8,297.1 L766.2,300 L765.5,302.9 L764.9,305.8 L764.2,308.7 L763.6,311.6 L762.9,314.5 L762.2,317.3 L761.5,320.2 L760.8,323 L760.1,325.9 L759.4,328.7 L758.7,331.5 L757.9,334.3 L757.2,337.1 L756.4,339.9 L755.6,342.7 L754.8,345.4 L754.1,348.2 L753.2,350.9 L752.4,353.7 L751.6,356.4 L750.8,359.1 L749.9,361.8 L749,364.5 L748.1,367.1 L747.3,369.8 L746.4,372.4 L745.4,375.1 L744.5,377.7 L743.6,380.3 L742.6,382.9 L741.6,385.4 L740.6,388 L739.6,390.5 L738.6,393.1 L737.6,395.6 L736.5,398.1 L735.5,400.6 L734.4,403 L733.3,405.5 L732.2,407.9 L731.1,410.4 L729.9,412.8 L728.7,415.1 L727.6,417.5 L726.4,419.9 L725.2,422.2 L723.9,424.5 L722.7,426.8 L721.4,429.1 L720.2,431.4 L718.9,433.6 L717.5,435.9 L716.2,438.1 L714.9,440.3 L713.5,442.5 L712.1,444.6 L710.7,446.8 L709.3,448.9 L707.8,451 L706.3,453 L704.8,455.1 L703.3,457.1 L701.8,459.2 L700.3,461.2 L698.7,463.1 L697.1,465.1 L695.5,467 L693.8,468.9 L692.2,470.8 L690.5,472.7 L688.8,474.5 L687.1,476.4 L685.3,478.2 L683.6,479.9 L681.8,481.7 L680,483.4 L678.1,485.2 L676.3,486.8 L674.4,488.5 L672.5,490.1 L670.5,491.8 L668.6,493.3 L666.6,494.9 L664.6,496.5 L662.6,498 L660.5,499.5 L658.4,500.9 L656.3,502.4 L654.2,503.8 L652,505.2 L649.8,506.5 L647.6,507.9 L645.4,509.2 L643.1,510.5 L640.8,511.7 L638.5,513 L636.2,514.2 L633.8,515.4 L631.4,516.5 L629,517.6 L626.5,518.7 L624.1,519.8 L621.5,520.8 L619,521.8 L616.4,522.8 L613.8,523.8 L611.2,524.7 L608.6,525.6 L605.9,526.5 L603.2,527.3 L600.5,528.2 L597.8,529 L595,529.8 L592.2,530.5 L589.4,531.3 L586.6,532 L583.8,532.7 L580.9,533.4 L578,534.1 L575.1,534.7 L572.2,535.3 L569.2,535.9 L566.3,536.5 L563.3,537.1 L560.3,537.7 L557.3,538.2 L554.3,538.7 L551.3,539.2 L548.2,539.7 L545.2,540.2 L542.1,540.7 L539,541.2 L535.9,541.6 L532.8,542.1 L529.7,542.5 L526.5,542.9 L523.4,543.3 L520.2,543.7 L517.1,544.1 L513.9,544.5 L510.7,544.8 L507.5,545.2 L504.3,545.5 L501.1,545.8 L497.8,546.1 L494.6,546.5 L491.4,546.7 L488.1,547 L484.8,547.3 L481.5,547.6 L478.3,547.8 L475,548.1 L471.7,548.3 L468.3,548.6 L465,548.8 L461.7,549 L458.4,549.2 L455,549.4 L451.7,549.6 L448.3,549.8 L445,549.9 L441.6,550.1 L438.3,550.3 L434.9,550.4 L431.5,550.5 L428.1,550.7 L424.8,550.8 L421.4,550.9 L418,551 L414.6,551.1 L411.2,551.2 L407.8,551.3 L404.4,551.4 L401,551.5 L397.6,551.7 L394.2,551.8 L390.8,551.9 L387.4,552 L384,552.2 L380.6,552.3 L377.2,552.4 L373.8,552.6 L370.4,552.7 L367,552.8 L363.6,552.9 L360.2,553.1 L356.8,553.2 L353.4,553.3 L349.9,553.5 L346.5,553.6 L343.1,553.7 L339.7,553.8 L336.3,554 L332.9,554.1 L329.4,554.2 L326,554.3 L322.6,554.5 L319.2,554.6 L315.7,554.7 L312.3,554.8 L308.9,554.9 L305.5,555.1 L302,555.2 L298.6,555.3 L295.1,555.4 L291.7,555.5 L288.3,555.6 L284.8,555.7 L281.4,555.8 L277.9,555.9 L274.5,556 L271,556.2 L267.6,556.3 L264.1,556.3 L260.7,556.4 L257.2,556.5 L253.7,556.6 L250.3,556.7 L246.8,556.8 L243.3,556.9 L239.9,557 L236.4,557 L232.9,557.1 L229.4,557.2 L226,557.3 L222.5,557.3 L219,557.4 L215.5,557.5 L212,557.5 L208.5,557.6 L205,557.6 L201.5,557.7 L198,557.7 L194.5,557.8 L191,557.8 L187.5,557.8 L184,557.9 L180.5,557.9 L176.9,557.9 L173.4,558 L169.9,558 L166.4,558 L162.8,558 L159.3,558 L155.8,558 L152.2,558 L148.7,558 L145.1,558 L141.6,558 L138,558 L134.5,557.9 L130.9,557.9 L127.3,557.9 L123.8,557.8 L120.2,557.8" stroke="#000080" stroke-width="6.8"/>
<path d="M120.2,551.2 L123.7,551.2 L127.3,551.1 L130.8,551.1 L134.3,551.1 L137.9,551 L141.4,551 L144.9,551 L148.5,550.9 L152,550.9 L155.5,550.8 L159.1,550.8 L162.6,550.8 L166.1,550.7 L169.6,550.7 L173.2,550.6 L176.7,550.6 L180.2,550.5 L183.7,550.5 L187.2,550.4 L190.8,550.4 L194.3,550.3 L197.8,550.3 L201.3,550.2 L204.8,550.2 L208.3,550.1 L211.8,550 L215.3,550 L218.8,549.9 L222.3,549.8 L225.8,549.7 L229.2,549.7 L232.7,549.6 L236.2,549.5 L239.6,549.4 L243.1,549.3 L246.6,549.2 L250,549.1 L253.5,549 L256.9,548.9 L260.4,548.8 L263.8,548.7 L267.2,548.5 L270.6,548.4 L274.1,548.3 L277.5,548.1 L280.9,548 L284.3,547.9 L287.7,547.7 L291.1,547.5 L294.5,547.4 L297.8,547.2 L301.2,547 L304.6,546.9 L307.9,546.7 L311.3,546.5 L314.6,546.3 L317.9,546.1 L321.3,545.9 L324.6,545.7 L327.9,545.4 L331.2,545.2 L334.5,545 L337.8,544.7 L341,544.5 L344.3,544.2 L347.6,544 L350.8,543.7 L354.1,543.4 L357.3,543.1 L360.5,542.8 L363.7,542.5 L366.9,542.2 L370.1,541.9 L373.3,541.6 L376.5,541.3 L379.7,540.9 L382.8,540.6 L386,540.2 L389.1,539.9 L392.2,539.5 L395.3,539.1 L398.4,538.7 L401.5,538.2 L404.6,537.8 L407.7,537.3 L410.7,536.8 L413.8,536.2 L416.8,535.7 L419.9,535.1 L422.9,534.5 L425.9,533.9 L428.8,533.2 L431.8,532.6 L434.8,531.9 L437.7,531.2 L440.7,530.5 L443.6,529.7 L446.5,529 L449.4,528.2 L452.3,527.4 L455.2,526.6 L458,525.8 L460.9,524.9 L463.7,524.1 L466.5,523.3 L469.3,522.4 L472.1,521.6 L474.9,520.7 L477.6,519.9 L480.3,519.1 L483.1,518.2 L485.8,517.4 L488.5,516.5 L491.2,515.7 L493.8,514.8 L496.5,513.9 L499.1,512.9 L501.7,512 L504.3,511.1 L506.9,510.1 L509.5,509.1 L512,508.1 L514.6,507.1 L517.1,506 L519.6,505 L522.1,503.9 L524.6,502.8 L527,501.7 L529.5,500.6 L531.9,499.5 L534.3,498.3 L536.7,497.1 L539,495.9 L541.4,494.7 L543.7,493.5 L546,492.2 L548.3,491 L550.6,489.7 L552.8,488.4 L555.1,487.1 L557.3,485.8 L559.5,484.4 L561.7,483 L563.9,481.7 L566,480.3 L568.2,478.9 L570.3,477.4 L572.4,476 L574.5,474.5 L576.6,473.1 L578.7,471.6 L580.8,470.1 L582.8,468.6 L584.9,467.1 L586.9,465.6 L588.9,464 L590.9,462.5 L592.9,460.9 L594.9,459.3 L596.9,457.7 L598.8,456.1 L600.8,454.5 L602.7,452.9 L604.6,451.3 L606.6,449.7 L608.5,448 L610.4,446.4 L612.3,444.7 L614.2,443 L616,441.3 L617.9,439.7 L619.8,438 L621.6,436.3 L623.5,434.6 L625.3,432.8 L627.1,431.1 L629,429.4 L630.8,427.7 L632.6,425.9 L634.4,424.2 L636.2,422.4 L638,420.7 L639.8,418.9 L641.6,417.2 L643.4,415.4 L645.2,413.6 L647,411.8 L648.8,410.1 L650.6,408.3 L652.4,406.5 L654.1,404.7 L655.9,403 L657.7,401.2 L659.4,399.4 L661.2,397.6 L663,395.8 L664.8,394 L666.5,392.2 L668.3,390.5 L670.1,388.7 L671.8,386.9 L673.6,385.1 L675.4,383.3 L677.2,381.5 L678.9,379.7 L680.7,378 L682.5,376.2 L684.2,374.4 L686,372.6 L687.7,370.8 L689.5,369 L691.2,367.2 L693,365.4 L694.7,363.5 L696.5,361.7 L698.2,359.9 L699.9,358 L701.6,356.2 L703.3,354.4 L705,352.5 L706.7,350.6 L708.4,348.8 L710.1,346.9 L711.7,345 L713.4,343.1 L715,341.2 L716.7,339.2 L718.3,337.3 L719.9,335.3 L721.5,333.4 L723.1,331.4 L724.6,329.4 L726.2,327.4 L727.7,325.4 L729.3,323.4 L730.8,321.3 L732.3,319.2 L733.7,317.2 L735.2,315.1 L736.6,313 L738.1,310.8 L739.5,308.7 L740.9,306.5 L742.2,304.3 L743.6,302.1 L744.9,299.9 L746.2,297.7 L747.5,295.4 L748.8,293.1 L750,290.8 L751.3,288.5 L752.5,286.1 L753.7,283.8 L754.8,281.4 L756,279 L757.1,276.5 L758.3,274.1 L759.4,271.6 L760.4,269.2 L761.5,266.7 L762.6,264.2 L763.6,261.7 L764.6,259.1 L765.6,256.6 L766.6,254 L767.6,251.4 L768.6,248.9 L769.5,246.3 L770.5,243.6 L771.4,241 L772.3,238.4 L773.3,235.8 L774.2,233.1 L775.1,230.4 L775.9,227.8 L776.8,225.1 L777.7,222.4 L778.6,219.7 L779.4,217 L780.3,214.3 L781.1,211.6 L782,208.9 L782.8,206.2 L783.6,203.5 L784.5,200.7 L785.3,198 L784.8,201 L784.3,204.1 L783.8,207.2 L783.3,210.2 L782.8,213.3 L782.3,216.3 L781.8,219.4 L781.3,222.4 L780.8,225.5 L780.3,228.5 L779.8,231.6 L779.3,234.6 L778.8,237.7 L778.3,240.7 L777.8,243.8 L777.3,246.8 L776.8,249.9 L776.3,252.9 L775.8,256 L775.3,259 L774.8,262.1 L774.3,265.1 L773.8,268.1 L773.2,271.1 L772.7,274.2 L772.2,277.2 L771.6,280.2 L771.1,283.2 L770.5,286.2 L770,289.2 L769.4,292.2 L768.9,295.2 L768.3,298.1 L767.7,301.1 L767.1,304.1 L766.5,307 L765.9,310 L765.3,312.9 L764.7,315.9 L764.1,318.8 L763.4,321.7 L762.8,324.6 L762.2,327.5 L761.5,330.4 L760.8,333.3 L760.2,336.2 L759.5,339 L758.8,341.9 L758.1,344.7 L757.3,347.6 L756.6,350.4 L755.9,353.2 L755.1,356 L754.4,358.8 L753.6,361.5 L752.8,364.3 L752,367.1 L751.2,369.8 L750.4,372.5 L749.5,375.2 L748.7,377.9 L747.8,380.6 L746.9,383.3 L746,385.9 L745.1,388.6 L744.2,391.2 L743.3,393.8 L742.3,396.4 L741.4,399 L740.4,401.6 L739.4,404.1 L738.4,406.7 L737.3,409.2 L736.3,411.7 L735.2,414.2 L734.1,416.6 L733,419.1 L731.9,421.5 L730.8,423.9 L729.6,426.3 L728.4,428.7 L727.2,431.1 L726,433.4 L724.8,435.7 L723.5,438 L722.3,440.3 L721,442.5 L719.7,444.8 L718.3,447 L717,449.2 L715.6,451.4 L714.2,453.5 L712.8,455.7 L711.4,457.8 L709.9,459.9 L708.4,461.9 L706.9,464 L705.4,466 L703.8,468 L702.3,470 L700.7,471.9 L699,473.8 L697.4,475.7 L695.7,477.6 L694,479.5 L692.3,481.3 L690.5,483.1 L688.8,484.9 L687,486.6 L685.2,488.4 L683.3,490.1 L681.4,491.7 L679.5,493.4 L677.6,495 L675.6,496.6 L673.6,498.2 L671.6,499.7 L669.6,501.2 L667.5,502.7 L665.4,504.1 L663.3,505.6 L661.1,506.9 L658.9,508.3 L656.7,509.6 L654.5,510.9 L652.2,512.2 L649.9,513.5 L647.6,514.7 L645.2,515.9 L642.8,517 L640.4,518.1 L637.9,519.2 L635.4,520.3 L632.9,521.3 L630.3,522.3 L627.7,523.3 L625.1,524.2 L622.5,525.1 L619.8,526 L617.1,526.8 L614.4,527.7 L611.7,528.5 L608.9,529.3 L606.1,530 L603.3,530.7 L600.4,531.5 L597.6,532.1 L594.7,532.8 L591.8,533.5 L588.9,534.1 L585.9,534.7 L583,535.3 L580,535.9 L577,536.4 L574,537 L571,537.5 L567.9,538 L564.9,538.5 L561.8,539 L558.8,539.5 L555.7,540 L552.6,540.4 L549.5,540.9 L546.4,541.3 L543.2,541.7 L540.1,542.1 L537,542.5 L533.8,543 L530.7,543.3 L527.5,543.7 L524.3,544.1 L521.2,544.5 L518,544.9 L514.8,545.2 L511.6,545.5 L508.4,545.9 L505.1,546.2 L501.9,546.5 L498.6,546.8 L495.4,547.1 L492.1,547.4 L488.8,547.7 L485.6,547.9 L482.3,548.2 L479,548.4 L475.6,548.7 L472.3,548.9 L469,549.1 L465.6,549.3 L462.3,549.5 L458.9,549.6 L455.6,549.8 L452.2,549.9 L448.9,550.1 L445.5,550.2 L442.1,550.3 L438.7,550.4 L435.3,550.6 L431.9,550.7 L428.5,550.8 L425.1,550.9 L421.7,551 L418.3,551.1 L414.9,551.2 L411.5,551.2 L408.1,551.3 L404.7,551.4 L401.3,551.5 L397.9,551.7 L394.5,551.8 L391,551.9 L387.6,552 L384.2,552.2 L380.8,552.3 L377.4,552.4 L374,552.5 L370.6,552.7 L367.2,552.8 L363.7,552.9 L360.3,553.1 L356.9,553.2 L353.5,553.3 L350.1,553.5 L346.7,553.6 L343.2,553.7 L339.8,553.8 L336.4,554 L333,554.1 L329.6,554.2 L326.1,554.3 L322.7,554.5 L319.3,554.6 L315.9,554.7 L312.4,554.8 L309,554.9 L305.6,555.1 L302.1,555.2 L298.7,555.3 L295.3,555.4 L291.8,555.5 L288.4,555.6 L284.9,555.7 L281.5,555.8 L278.1,555.9 L274.6,556 L271.2,556.1 L267.7,556.2 L264.3,556.3 L260.8,556.4 L257.3,556.5 L253.9,556.6 L250.4,556.7 L247,556.8 L243.5,556.9 L240,557 L236.6,557 L233.1,557.1 L229.6,557.2 L226.1,557.3 L222.6,557.3 L219.2,557.4 L215.7,557.5 L212.2,557.5 L208.7,557.6 L205.2,557.6 L201.7,557.7 L198.2,557.7 L194.7,557.8 L191.2,557.8 L187.7,557.8 L184.1,557.9 L180.6,557.9 L177.1,557.9 L173.6,558 L170,558 L166.5,558 L163,558 L159.4,558 L155.9,558 L152.3,558 L148.8,558 L145.2,558 L141.7,558 L138.1,558 L134.5,557.9 L130.9,557.9 L127.4,557.9 L123.8,557.8 L120.2,557.8" stroke="#8000ff" stroke-width="6.8"/>
<path d="M120.2,550 L123.7,550 L127.2,549.9 L130.8,549.9 L134.3,549.9 L137.8,549.8 L141.3,549.8 L144.9,549.8 L148.4,549.7 L151.9,549.7 L155.4,549.6 L158.9,549.6 L162.5,549.6 L166,549.5 L169.5,549.5 L173,549.4 L176.5,549.4 L180,549.3 L183.6,549.3 L187.1,549.2 L190.6,549.2 L194.1,549.1 L197.6,549.1 L201.1,549 L204.6,549 L208.1,548.9 L211.6,548.8 L215.1,548.8 L218.5,548.7 L222,548.6 L225.5,548.6 L229,548.5 L232.5,548.4 L235.9,548.3 L239.4,548.2 L242.9,548.1 L246.3,548 L249.8,547.9 L253.2,547.8 L256.7,547.7 L260.1,547.6 L263.6,547.5 L267,547.3 L270.4,547.2 L273.9,547.1 L277.3,547 L280.7,546.8 L284.1,546.7 L287.5,546.5 L290.9,546.4 L294.3,546.2 L297.7,546 L301.1,545.8 L304.5,545.7 L307.8,545.5 L311.2,545.3 L314.6,545.1 L317.9,544.9 L321.3,544.7 L324.6,544.5 L327.9,544.2 L331.3,544 L334.6,543.8 L337.9,543.5 L341.2,543.3 L344.5,543 L347.8,542.7 L351.1,542.5 L354.4,542.2 L357.6,541.9 L360.9,541.6 L364.1,541.3 L367.4,541 L370.6,540.7 L373.9,540.3 L377.1,540 L380.3,539.7 L383.5,539.3 L386.7,538.9 L389.9,538.6 L393.1,538.2 L396.2,537.8 L399.4,537.4 L402.5,537 L405.7,536.6 L408.8,536.1 L411.9,535.7 L415,535.3 L418.1,534.8 L421.2,534.3 L424.3,533.9 L427.4,533.4 L430.4,532.9 L433.5,532.4 L436.5,531.8 L439.6,531.3 L442.6,530.8 L445.6,530.2 L448.6,529.7 L451.6,529.1 L454.5,528.5 L457.5,527.9 L460.5,527.3 L463.4,526.7 L466.3,526 L469.2,525.4 L472.1,524.7 L475,524.1 L477.9,523.4 L480.8,522.7 L483.6,522 L486.5,521.3 L489.3,520.5 L492.1,519.8 L494.9,519 L497.7,518.3 L500.5,517.5 L503.2,516.7 L506,515.9 L508.7,515.1 L511.4,514.2 L514.2,513.4 L516.9,512.5 L519.5,511.6 L522.2,510.7 L524.8,509.8 L527.5,508.9 L530.1,508 L532.7,507 L535.3,506.1 L537.9,505.1 L540.5,504.1 L543,503.1 L545.5,502.1 L548.1,501 L550.6,500 L553,498.9 L555.5,497.8 L558,496.7 L560.4,495.6 L562.9,494.5 L565.3,493.3 L567.7,492.2 L570.1,491 L572.4,489.8 L574.8,488.6 L577.2,487.4 L579.5,486.2 L581.8,485 L584.1,483.7 L586.4,482.4 L588.7,481.2 L590.9,479.9 L593.2,478.5 L595.4,477.2 L597.6,475.9 L599.9,474.5 L602.1,473.2 L604.2,471.8 L606.4,470.4 L608.6,469 L610.7,467.6 L612.8,466.2 L615,464.7 L617.1,463.3 L619.2,461.8 L621.2,460.3 L623.3,458.8 L625.3,457.3 L627.4,455.8 L629.4,454.3 L631.4,452.7 L633.4,451.2 L635.4,449.6 L637.4,448 L639.4,446.4 L641.3,444.8 L643.3,443.2 L645.2,441.6 L647.1,440 L649,438.3 L650.9,436.6 L652.8,435 L654.7,433.3 L656.5,431.6 L658.4,429.9 L660.2,428.1 L662,426.4 L663.9,424.7 L665.7,422.9 L667.4,421.1 L669.2,419.4 L671,417.6 L672.7,415.8 L674.5,414 L676.2,412.1 L678,410.3 L679.7,408.4 L681.4,406.6 L683.1,404.7 L684.7,402.8 L686.4,401 L688.1,399.1 L689.7,397.2 L691.4,395.2 L693,393.3 L694.6,391.4 L696.2,389.4 L697.8,387.5 L699.4,385.5 L701,383.5 L702.5,381.5 L704.1,379.5 L705.6,377.5 L707.2,375.5 L708.7,373.4 L710.2,371.4 L711.7,369.3 L713.2,367.3 L714.7,365.2 L716.2,363.1 L717.6,361 L719.1,358.9 L720.5,356.8 L721.9,354.7 L723.4,352.5 L724.8,350.4 L726.2,348.2 L727.5,346 L728.9,343.8 L730.3,341.6 L731.6,339.4 L733,337.2 L734.3,335 L735.6,332.7 L736.9,330.5 L738.2,328.2 L739.5,325.9 L740.7,323.6 L742,321.3 L743.2,319 L744.5,316.7 L745.7,314.3 L746.9,312 L748.1,309.6 L749.3,307.2 L750.4,304.9 L751.6,302.5 L752.7,300 L753.9,297.6 L755,295.2 L756.1,292.7 L757.2,290.3 L758.3,287.8 L759.3,285.3 L760.4,282.8 L761.5,280.3 L762.5,277.8 L763.5,275.2 L764.5,272.7 L765.5,270.1 L766.5,267.5 L767.4,264.9 L768.4,262.3 L769.3,259.7 L770.3,257.1 L771.2,254.4 L772.1,251.8 L773,249.1 L773.8,246.4 L774.7,243.7 L775.6,241 L776.4,238.3 L777.2,235.5 L778,232.8 L778.8,230 L779.6,227.2 L780.3,224.5 L781.1,221.6 L781.8,218.8 L782.6,216 L783.3,213.1 L784,210.3 L784.6,207.4 L785.3,204.5 L784.8,207.5 L784.3,210.6 L783.8,213.6 L783.3,216.7 L782.8,219.8 L782.3,222.8 L781.8,225.9 L781.3,228.9 L780.8,232 L780.3,235.1 L779.8,238.1 L779.3,241.2 L778.8,244.2 L778.4,247.3 L777.9,250.4 L777.4,253.4 L776.9,256.5 L776.4,259.5 L775.9,262.6 L775.4,265.6 L774.9,268.7 L774.4,271.7 L773.9,274.8 L773.3,277.8 L772.8,280.8 L772.3,283.9 L771.8,286.9 L771.3,289.9 L770.7,293 L770.2,296 L769.7,299 L769.1,302 L768.6,305 L768,308 L767.5,311 L766.9,314 L766.3,317 L765.7,319.9 L765.1,322.9 L764.6,325.9 L764,328.8 L763.3,331.8 L762.7,334.7 L762.1,337.6 L761.5,340.5 L760.8,343.4 L760.2,346.4 L759.5,349.2 L758.9,352.1 L758.2,355 L757.5,357.9 L756.8,360.7 L756.1,363.6 L755.4,366.4 L754.6,369.2 L753.9,372 L753.1,374.8 L752.4,377.6 L751.6,380.4 L750.8,383.2 L750,385.9 L749.2,388.7 L748.4,391.4 L747.5,394.1 L746.7,396.8 L745.8,399.5 L745,402.2 L744.1,404.8 L743.1,407.5 L742.2,410.1 L741.3,412.7 L740.3,415.3 L739.3,417.9 L738.4,420.4 L737.3,423 L736.3,425.5 L735.3,428 L734.2,430.5 L733.1,433 L732,435.4 L730.9,437.8 L729.7,440.3 L728.6,442.6 L727.4,445 L726.2,447.3 L724.9,449.7 L723.7,452 L722.4,454.2 L721.1,456.5 L719.8,458.7 L718.4,460.9 L717,463.1 L715.6,465.2 L714.2,467.3 L712.7,469.4 L711.3,471.5 L709.8,473.6 L708.2,475.6 L706.6,477.6 L705.1,479.5 L703.4,481.4 L701.8,483.3 L700.1,485.2 L698.4,487.1 L696.6,488.9 L694.9,490.7 L693.1,492.4 L691.2,494.1 L689.4,495.8 L687.5,497.4 L685.5,499.1 L683.6,500.7 L681.6,502.2 L679.5,503.7 L677.5,505.2 L675.4,506.7 L673.2,508.1 L671.1,509.5 L668.9,510.8 L666.6,512.1 L664.4,513.4 L662,514.7 L659.7,515.9 L657.3,517.1 L654.9,518.2 L652.5,519.3 L650,520.4 L647.5,521.4 L645,522.5 L642.4,523.4 L639.8,524.4 L637.2,525.3 L634.5,526.2 L631.8,527 L629.1,527.9 L626.3,528.7 L623.6,529.5 L620.8,530.2 L617.9,530.9 L615.1,531.6 L612.2,532.3 L609.3,533 L606.4,533.6 L603.5,534.2 L600.5,534.8 L597.5,535.4 L594.5,536 L591.5,536.5 L588.5,537 L585.4,537.5 L582.4,538 L579.3,538.5 L576.2,539 L573.1,539.4 L570,539.8 L566.8,540.3 L563.7,540.7 L560.6,541.1 L557.4,541.5 L554.2,541.8 L551.1,542.2 L547.9,542.6 L544.7,543 L541.5,543.3 L538.3,543.7 L535.1,544 L531.9,544.4 L528.6,544.7 L525.4,545 L522.2,545.3 L519,545.7 L515.7,546 L512.5,546.3 L509.2,546.6 L506,546.9 L502.7,547.2 L499.4,547.4 L496.2,547.7 L492.9,548 L489.6,548.2 L486.3,548.5 L483,548.7 L479.6,549 L476.3,549.2 L473,549.4 L469.6,549.6 L466.3,549.8 L462.9,550 L459.6,550.2 L456.2,550.4 L452.8,550.6 L449.4,550.7 L446,550.9 L442.6,551 L439.2,551.2 L435.8,551.3 L432.4,551.5 L429,551.6 L425.6,551.8 L422.2,551.9 L418.8,552 L415.3,552.2 L411.9,552.3 L408.5,552.4 L405.1,552.6 L401.7,552.7 L398.2,552.8 L394.8,553 L391.4,553.1 L388,553.2 L384.5,553.3 L381.1,553.5 L377.7,553.6 L374.3,553.7 L370.9,553.9 L367.4,554 L364,554.1 L360.6,554.3 L357.2,554.4 L353.7,554.5 L350.3,554.6 L346.9,554.8 L343.5,554.9 L340,555 L336.6,555.2 L333.2,555.3 L329.8,555.4 L326.3,555.5 L322.9,555.7 L319.5,555.8 L316,555.9 L312.6,556 L309.2,556.1 L305.7,556.3 L302.3,556.4 L298.9,556.5 L295.4,556.6 L292,556.7 L288.5,556.8 L285.1,556.9 L281.7,557 L278.2,557.1 L274.8,557.2 L271.3,557.3 L267.9,557.4 L264.4,557.5 L260.9,557.6 L257.5,557.7 L254,557.8 L250.6,557.9 L247.1,558 L243.6,558.1 L240.1,558.2 L236.7,558.2 L233.2,558.3 L229.7,558.4 L226.2,558.5 L222.8,558.5 L219.3,558.6 L215.8,558.7 L212.3,558.7 L208.8,558.8 L205.3,558.8 L201.8,558.9 L198.3,558.9 L194.8,559 L191.3,559 L187.7,559 L184.2,559.1 L180.7,559.1 L177.2,559.1 L173.6,559.2 L170.1,559.2 L166.6,559.2 L163,559.2 L159.5,559.2 L155.9,559.2 L152.4,559.2 L148.8,559.2 L145.3,559.2 L141.7,559.2 L138.1,559.2 L134.5,559.1 L131,559.1 L127.4,559.1 L123.8,559 L120.2,559" stroke="#800080" stroke-width="6.8"/>
</g>
<line x1="120.2" y1="18.3" x2="845.6" y2="18.3" stroke="#111" stroke-width="1.3"/>
<line x1="845.6" y1="17.7" x2="845.6" y2="602.5" stroke="#111" stroke-width="1.3"/>
<line x1="120.2" y1="18.3" x2="120.2" y2="603.9" stroke="#000" stroke-width="2.8"/>
<line x1="118.8" y1="602.5" x2="846.2" y2="602.5" stroke="#000" stroke-width="2.8"/>
<line x1="120.2" y1="602.5" x2="120.2" y2="610" stroke="#000" stroke-width="2.8"/>
<line x1="180.6" y1="602.5" x2="180.6" y2="615.5" stroke="#000" stroke-width="2.8"/>
<line x1="241.1" y1="602.5" x2="241.1" y2="610" stroke="#000" stroke-width="2.8"/>
<line x1="301.5" y1="602.5" x2="301.5" y2="615.5" stroke="#000" stroke-width="2.8"/>
<line x1="362" y1="602.5" x2="362" y2="610" stroke="#000" stroke-width="2.8"/>
<line x1="422.4" y1="602.5" x2="422.4" y2="615.5" stroke="#000" stroke-width="2.8"/>
<line x1="482.8" y1="602.5" x2="482.8" y2="610" stroke="#000" stroke-width="2.8"/>
<line x1="543.3" y1="602.5" x2="543.3" y2="615.5" stroke="#000" stroke-width="2.8"/>
<line x1="603.7" y1="602.5" x2="603.7" y2="610" stroke="#000" stroke-width="2.8"/>
<line x1="664.2" y1="602.5" x2="664.2" y2="615.5" stroke="#000" stroke-width="2.8"/>
<line x1="724.6" y1="602.5" x2="724.6" y2="610" stroke="#000" stroke-width="2.8"/>
<line x1="785" y1="602.5" x2="785" y2="615.5" stroke="#000" stroke-width="2.8"/>
<line x1="845.5" y1="602.5" x2="845.5" y2="610" stroke="#000" stroke-width="2.8"/>
<line x1="112.7" y1="603" x2="120.2" y2="603" stroke="#000" stroke-width="2.8"/>
<line x1="107.2" y1="554.3" x2="120.2" y2="554.3" stroke="#000" stroke-width="2.8"/>
<line x1="112.7" y1="505.6" x2="120.2" y2="505.6" stroke="#000" stroke-width="2.8"/>
<line x1="107.2" y1="456.9" x2="120.2" y2="456.9" stroke="#000" stroke-width="2.8"/>
<line x1="112.7" y1="408.3" x2="120.2" y2="408.3" stroke="#000" stroke-width="2.8"/>
<line x1="107.2" y1="359.6" x2="120.2" y2="359.6" stroke="#000" stroke-width="2.8"/>
<line x1="112.7" y1="310.9" x2="120.2" y2="310.9" stroke="#000" stroke-width="2.8"/>
<line x1="107.2" y1="262.2" x2="120.2" y2="262.2" stroke="#000" stroke-width="2.8"/>
<line x1="112.7" y1="213.6" x2="120.2" y2="213.6" stroke="#000" stroke-width="2.8"/>
<line x1="107.2" y1="164.9" x2="120.2" y2="164.9" stroke="#000" stroke-width="2.8"/>
<line x1="112.7" y1="116.2" x2="120.2" y2="116.2" stroke="#000" stroke-width="2.8"/>
<line x1="107.2" y1="67.5" x2="120.2" y2="67.5" stroke="#000" stroke-width="2.8"/>
<line x1="112.7" y1="18.9" x2="120.2" y2="18.9" stroke="#000" stroke-width="2.8"/>
<text transform="translate(180.6,648.8) scale(0.985,1)" font-family="'Liberation Serif', 'Times New Roman', serif" font-weight="bold" font-size="33.6" text-anchor="middle" stroke="#000" stroke-width="0.45" stroke-linejoin="round">0.6</text>
<text transform="translate(301.5,648.8) scale(0.985,1)" font-family="'Liberation Serif', 'Times New Roman', serif" font-weight="bold" font-size="33.6" text-anchor="middle" stroke="#000" stroke-width="0.45" stroke-linejoin="round">0.8</text>
<text transform="translate(422.4,648.8) scale(0.985,1)" font-family="'Liberation Serif', 'Times New Roman', serif" font-weight="bold" font-size="33.6" text-anchor="middle" stroke="#000" stroke-width="0.45" stroke-linejoin="round">1.0</text>
<text transform="translate(543.3,648.8) scale(0.985,1)" font-family="'Liberation Serif', 'Times New Roman', serif" font-weight="bold" font-size="33.6" text-anchor="middle" stroke="#000" stroke-width="0.45" stroke-linejoin="round">1.2</text>
<text transform="translate(664.2,648.8) scale(0.985,1)" font-family="'Liberation Serif', 'Times New Roman', serif" font-weight="bold" font-size="33.6" text-anchor="middle" stroke="#000" stroke-width="0.45" stroke-linejoin="round">1.4</text>
<text transform="translate(785,648.8) scale(0.985,1)" font-family="'Liberation Serif', 'Times New Roman', serif" font-weight="bold" font-size="33.6" text-anchor="middle" stroke="#000" stroke-width="0.45" stroke-linejoin="round">1.6</text>
<text transform="translate(101.3,564.1) scale(0.990,1)" font-family="'Liberation Serif', 'Times New Roman', serif" font-weight="bold" font-size="33.8" text-anchor="end" stroke="#000" stroke-width="0.45" stroke-linejoin="round">0</text>
<text transform="translate(101.3,466.7) scale(0.990,1)" font-family="'Liberation Serif', 'Times New Roman', serif" font-weight="bold" font-size="33.8" text-anchor="end" stroke="#000" stroke-width="0.45" stroke-linejoin="round">100</text>
<text transform="translate(101.3,369.4) scale(0.990,1)" font-family="'Liberation Serif', 'Times New Roman', serif" font-weight="bold" font-size="33.8" text-anchor="end" stroke="#000" stroke-width="0.45" stroke-linejoin="round">200</text>
<text transform="translate(101.3,272) scale(0.990,1)" font-family="'Liberation Serif', 'Times New Roman', serif" font-weight="bold" font-size="33.8" text-anchor="end" stroke="#000" stroke-width="0.45" stroke-linejoin="round">300</text>
<text transform="translate(101.3,174.7) scale(0.990,1)" font-family="'Liberation Serif', 'Times New Roman', serif" font-weight="bold" font-size="33.8" text-anchor="end" stroke="#000" stroke-width="0.45" stroke-linejoin="round">400</text>
<text transform="translate(101.3,77.3) scale(0.990,1)" font-family="'Liberation Serif', 'Times New Roman', serif" font-weight="bold" font-size="33.8" text-anchor="end" stroke="#000" stroke-width="0.45" stroke-linejoin="round">500</text>
<text x="205" y="691" font-family="'Liberation Serif', 'Times New Roman', serif" font-weight="bold" font-size="34" textLength="507" lengthAdjust="spacingAndGlyphs" stroke="#000" stroke-width="0.45" stroke-linejoin="round">Potential (V) vs. Ag/AgCl (3 M KCl)</text>
<text transform="translate(33.5,327) rotate(-90)" font-family="'Liberation Serif', 'Times New Roman', serif" font-weight="bold" font-size="39.5" stroke="#000" stroke-width="0.45" stroke-linejoin="round">I (<tspan font-weight="normal" stroke-width="0.25">µ</tspan>A)</text>
<text x="141.5" y="75.7" font-family="'Liberation Sans', Arial, sans-serif" font-weight="bold" font-size="40" stroke="#000" stroke-width="0.45" stroke-linejoin="round">(a)</text>
<text x="715" y="67.9" font-family="'Liberation Serif', 'Times New Roman', serif" font-weight="bold" font-size="39" stroke="#000" stroke-width="0.45" stroke-linejoin="round">LNCP</text>
<text x="291" y="506.2" font-family="'Liberation Serif', 'Times New Roman', serif" font-weight="bold" font-size="27.6" stroke="#000" stroke-width="0.45" stroke-linejoin="round">Scan direction</text>
<line x1="153.5" y1="161" x2="189.8" y2="161" stroke="#000000" stroke-width="7.4" stroke-linecap="round"/>
<text transform="translate(196,166.6) scale(0.925,1)" font-family="'Liberation Serif', 'Times New Roman', serif" font-weight="bold" font-size="29.6" stroke="#000" stroke-width="0.45" stroke-linejoin="round">0.1 M KOH+3.2 mM Glu</text>
<line x1="153.5" y1="195.8" x2="189.8" y2="195.8" stroke="#ff0000" stroke-width="7.4" stroke-linecap="round"/>
<text transform="translate(196,201.4) scale(0.925,1)" font-family="'Liberation Serif', 'Times New Roman', serif" font-weight="bold" font-size="29.6" stroke="#000" stroke-width="0.45" stroke-linejoin="round">0.1 M KOH+2.8 mM Glu</text>
<line x1="153.5" y1="230.6" x2="189.8" y2="230.6" stroke="#0000ff" stroke-width="7.4" stroke-linecap="round"/>
<text transform="translate(196,236.2) scale(0.925,1)" font-family="'Liberation Serif', 'Times New Roman', serif" font-weight="bold" font-size="29.6" stroke="#000" stroke-width="0.45" stroke-linejoin="round">0.1 M KOH+2.3 mM Glu</text>
<line x1="153.5" y1="265.4" x2="189.8" y2="265.4" stroke="#ff00ff" stroke-width="7.4" stroke-linecap="round"/>
<text transform="translate(196,271) scale(0.925,1)" font-family="'Liberation Serif', 'Times New Roman', serif" font-weight="bold" font-size="29.6" stroke="#000" stroke-width="0.45" stroke-linejoin="round">0.1 M KOH+1.9 mM Glu</text>
<line x1="153.5" y1="300.2" x2="189.8" y2="300.2" stroke="#008000" stroke-width="7.4" stroke-linecap="round"/>
<text transform="translate(196,305.8) scale(0.925,1)" font-family="'Liberation Serif', 'Times New Roman', serif" font-weight="bold" font-size="29.6" stroke="#000" stroke-width="0.45" stroke-linejoin="round">0.1 M KOH+1.4 mM Glu</text>
<line x1="153.5" y1="335" x2="189.8" y2="335" stroke="#000080" stroke-width="7.4" stroke-linecap="round"/>
<text transform="translate(196,340.6) scale(0.925,1)" font-family="'Liberation Serif', 'Times New Roman', serif" font-weight="bold" font-size="29.6" stroke="#000" stroke-width="0.45" stroke-linejoin="round">0.1 M KOH+0.9 mM Glu</text>
<line x1="153.5" y1="369.8" x2="189.8" y2="369.8" stroke="#8000ff" stroke-width="7.4" stroke-linecap="round"/>
<text transform="translate(196,375.4) scale(0.925,1)" font-family="'Liberation Serif', 'Times New Roman', serif" font-weight="bold" font-size="29.6" stroke="#000" stroke-width="0.45" stroke-linejoin="round">0.1 M KOH+0.4 mM Glu</text>
<line x1="153.5" y1="404.6" x2="189.8" y2="404.6" stroke="#800080" stroke-width="7.4" stroke-linecap="round"/>
<text transform="translate(196,410.2) scale(0.925,1)" font-family="'Liberation Serif', 'Times New Roman', serif" font-weight="bold" font-size="29.6" stroke="#000" stroke-width="0.45" stroke-linejoin="round">0.1 M KOH</text>
<g transform="translate(281,470.9) rotate(0.00)"><line x1="1.4" y1="0" x2="173.6" y2="0" stroke="#000" stroke-width="2.7" stroke-linecap="round"/><path d="M188.3,0 L172.4,-4.4 L172.4,4.4 Z" fill="#000" stroke="#000" stroke-width="1.6" stroke-linejoin="round"/></g>
</g>
<g id="panel-b">
<clipPath id="clip-b"><rect x="982.3" y="2.5" width="723.4" height="593.3"/></clipPath>
<g fill="none" stroke-linejoin="round" stroke-linecap="round" clip-path="url(#clip-b)">
<path d="M982.3,565.7 L985.7,565.7 L989.1,565.7 L992.5,565.6 L995.9,565.6 L999.3,565.6 L1002.7,565.5 L1006.1,565.5 L1009.5,565.5 L1013,565.4 L1016.4,565.4 L1019.9,565.3 L1023.3,565.3 L1026.8,565.2 L1030.2,565.1 L1033.7,565.1 L1037.1,565 L1040.6,564.9 L1044.1,564.8 L1047.5,564.8 L1051,564.7 L1054.5,564.6 L1057.9,564.5 L1061.4,564.4 L1064.9,564.3 L1068.4,564.2 L1071.8,564.1 L1075.3,563.9 L1078.8,563.8 L1082.2,563.7 L1085.7,563.5 L1089.2,563.4 L1092.6,563.2 L1096.1,563.1 L1099.5,562.9 L1103,562.8 L1106.4,562.6 L1109.9,562.4 L1113.3,562.2 L1116.7,562 L1120.2,561.8 L1123.6,561.6 L1127,561.4 L1130.4,561.2 L1133.8,561 L1137.2,560.7 L1140.6,560.5 L1143.9,560.2 L1147.3,560 L1150.7,559.7 L1154,559.5 L1157.4,559.2 L1160.7,558.9 L1164,558.6 L1167.3,558.3 L1170.6,558 L1173.9,557.7 L1177.2,557.4 L1180.4,557 L1183.7,556.7 L1186.9,556.4 L1190.1,556 L1193.4,555.7 L1196.5,555.3 L1199.7,554.9 L1202.9,554.5 L1206.1,554.1 L1209.2,553.7 L1212.3,553.3 L1215.4,552.9 L1218.5,552.5 L1221.6,552.1 L1224.6,551.6 L1227.7,551.2 L1230.7,550.7 L1233.7,550.3 L1236.7,549.8 L1239.6,549.3 L1242.6,548.8 L1245.5,548.3 L1248.4,547.7 L1251.3,547.1 L1254.2,546.5 L1257,545.9 L1259.8,545.2 L1262.6,544.5 L1265.4,543.7 L1268.2,543 L1270.9,542.1 L1273.6,541.3 L1276.3,540.4 L1279,539.5 L1281.6,538.5 L1284.2,537.5 L1286.8,536.5 L1289.4,535.4 L1291.9,534.3 L1294.4,533.2 L1296.9,532.1 L1299.3,530.9 L1301.8,529.8 L1304.2,528.6 L1306.6,527.4 L1308.9,526.2 L1311.2,525 L1313.5,523.7 L1315.8,522.5 L1318,521.1 L1320.2,519.8 L1322.4,518.4 L1324.5,517 L1326.6,515.6 L1328.7,514.1 L1330.7,512.6 L1332.8,511.1 L1334.7,509.5 L1336.7,507.9 L1338.6,506.3 L1340.5,504.6 L1342.3,502.9 L1344.1,501.2 L1345.9,499.4 L1347.7,497.6 L1349.4,495.8 L1351.1,493.9 L1352.8,492 L1354.4,490.1 L1356,488.2 L1357.6,486.2 L1359.2,484.2 L1360.7,482.2 L1362.2,480.2 L1363.7,478.1 L1365.2,476.1 L1366.7,474 L1368.1,471.9 L1369.5,469.7 L1370.9,467.6 L1372.3,465.4 L1373.7,463.3 L1375,461.1 L1376.4,458.9 L1377.7,456.7 L1379,454.4 L1380.3,452.2 L1381.6,449.9 L1382.9,447.7 L1384.2,445.4 L1385.5,443.2 L1386.8,440.9 L1388,438.6 L1389.3,436.3 L1390.6,434 L1391.8,431.7 L1393.1,429.4 L1394.3,427.1 L1395.6,424.8 L1396.8,422.5 L1398,420.2 L1399.3,417.9 L1400.5,415.6 L1401.7,413.2 L1402.9,410.9 L1404.1,408.6 L1405.3,406.2 L1406.5,403.9 L1407.7,401.5 L1408.9,399.2 L1410.1,396.8 L1411.3,394.4 L1412.5,392 L1413.6,389.7 L1414.8,387.3 L1415.9,384.9 L1417.1,382.5 L1418.3,380.1 L1419.4,377.7 L1420.5,375.3 L1421.7,372.9 L1422.8,370.5 L1423.9,368 L1425,365.6 L1426.2,363.2 L1427.3,360.7 L1428.4,358.3 L1429.5,355.8 L1430.5,353.4 L1431.6,350.9 L1432.7,348.4 L1433.8,346 L1434.9,343.5 L1435.9,341 L1437,338.5 L1438.1,336.1 L1439.1,333.6 L1440.2,331.1 L1441.3,328.6 L1442.3,326.1 L1443.4,323.6 L1444.4,321.1 L1445.5,318.6 L1446.5,316.1 L1447.6,313.7 L1448.7,311.2 L1449.7,308.7 L1450.8,306.2 L1451.8,303.7 L1452.9,301.2 L1454,298.7 L1455,296.3 L1456.1,293.8 L1457.2,291.3 L1458.3,288.8 L1459.3,286.4 L1460.4,283.9 L1461.5,281.4 L1462.6,279 L1463.7,276.5 L1464.8,274.1 L1465.9,271.7 L1467.1,269.2 L1468.2,266.8 L1469.3,264.4 L1470.5,262 L1471.6,259.6 L1472.8,257.2 L1473.9,254.8 L1475.1,252.4 L1476.3,250.1 L1477.5,247.7 L1478.7,245.4 L1479.9,243 L1481.1,240.7 L1482.3,238.4 L1483.6,236.1 L1484.8,233.8 L1486.1,231.5 L1487.4,229.2 L1488.7,227 L1490,224.7 L1491.3,222.5 L1492.6,220.3 L1493.9,218 L1495.3,215.8 L1496.6,213.6 L1498,211.5 L1499.3,209.3 L1500.7,207.1 L1502.1,204.9 L1503.5,202.8 L1504.9,200.6 L1506.3,198.5 L1507.7,196.4 L1509.2,194.3 L1510.6,192.1 L1512,190 L1513.5,187.9 L1514.9,185.8 L1516.4,183.7 L1517.8,181.6 L1519.3,179.6 L1520.8,177.5 L1522.2,175.4 L1523.7,173.3 L1525.2,171.2 L1526.7,169.2 L1528.1,167.1 L1529.6,165 L1531.1,163 L1532.6,160.9 L1534.1,158.8 L1535.6,156.8 L1537,154.7 L1538.5,152.7 L1540,150.6 L1541.5,148.5 L1543,146.5 L1544.5,144.4 L1545.9,142.3 L1547.4,140.2 L1548.9,138.2 L1550.4,136.1 L1551.8,134 L1553.3,131.9 L1554.7,129.8 L1556.2,127.7 L1557.6,125.6 L1559.1,123.5 L1560.5,121.4 L1561.9,119.2 L1563.2,117 L1564.6,114.8 L1565.8,112.5 L1567,110.2 L1568.2,107.8 L1569.2,105.3 L1570.2,102.8 L1571.3,100.2 L1572.3,97.8 L1573.4,95.3 L1574.6,92.9 L1575.8,90.6 L1577.1,88.3 L1578.4,86.1 L1579.8,83.9 L1581.2,81.7 L1582.6,79.6 L1583.9,77.4 L1585.3,75.3 L1586.7,73 L1587.9,70.8 L1589.2,68.5 L1590.3,66.1 L1591.4,63.6 L1592.4,61 L1593.3,58.4 L1594,55.5 L1594.6,52.6 L1594.5,56 L1594.3,59.4 L1594.2,62.8 L1594,66.2 L1593.8,69.6 L1593.6,73 L1593.5,76.3 L1593.3,79.7 L1593,83 L1592.8,86.4 L1592.6,89.7 L1592.4,93 L1592.1,96.3 L1591.9,99.6 L1591.6,102.9 L1591.3,106.2 L1591,109.5 L1590.8,112.7 L1590.5,116 L1590.2,119.2 L1589.9,122.5 L1589.5,125.7 L1589.2,129 L1588.9,132.2 L1588.6,135.4 L1588.2,138.6 L1587.9,141.8 L1587.5,145 L1587.2,148.2 L1586.8,151.4 L1586.4,154.6 L1586,157.8 L1585.7,160.9 L1585.3,164.1 L1584.9,167.2 L1584.5,170.4 L1584.1,173.6 L1583.7,176.7 L1583.3,179.8 L1582.8,183 L1582.4,186.1 L1582,189.2 L1581.6,192.4 L1581.1,195.5 L1580.7,198.6 L1580.3,201.7 L1579.8,204.8 L1579.4,207.9 L1578.9,211 L1578.5,214.1 L1578,217.2 L1577.6,220.3 L1577.1,223.4 L1576.6,226.5 L1576.2,229.6 L1575.7,232.7 L1575.2,235.8 L1574.8,238.8 L1574.3,241.9 L1573.8,245 L1573.3,248.1 L1572.8,251.1 L1572.3,254.2 L1571.9,257.3 L1571.4,260.3 L1570.9,263.4 L1570.3,266.4 L1569.8,269.5 L1569.3,272.5 L1568.8,275.5 L1568.2,278.5 L1567.7,281.5 L1567.2,284.6 L1566.6,287.5 L1566,290.5 L1565.5,293.5 L1564.9,296.5 L1564.3,299.5 L1563.7,302.4 L1563.1,305.4 L1562.5,308.3 L1561.9,311.2 L1561.2,314.1 L1560.6,317 L1559.9,319.9 L1559.2,322.8 L1558.5,325.7 L1557.9,328.5 L1557.1,331.4 L1556.4,334.2 L1555.7,337.1 L1555,339.9 L1554.2,342.7 L1553.4,345.5 L1552.7,348.2 L1551.9,351 L1551.1,353.8 L1550.3,356.5 L1549.5,359.2 L1548.6,361.9 L1547.8,364.7 L1546.9,367.4 L1546,370 L1545.2,372.7 L1544.3,375.4 L1543.4,378 L1542.5,380.7 L1541.5,383.3 L1540.6,385.9 L1539.6,388.5 L1538.7,391.1 L1537.7,393.7 L1536.7,396.2 L1535.7,398.8 L1534.7,401.3 L1533.7,403.8 L1532.6,406.4 L1531.6,408.9 L1530.5,411.4 L1529.4,413.8 L1528.4,416.3 L1527.3,418.8 L1526.1,421.2 L1525,423.6 L1523.9,426 L1522.7,428.4 L1521.6,430.8 L1520.4,433.2 L1519.2,435.6 L1518,437.9 L1516.8,440.3 L1515.6,442.6 L1514.3,444.9 L1513.1,447.2 L1511.8,449.5 L1510.6,451.8 L1509.3,454.1 L1507.9,456.3 L1506.6,458.5 L1505.3,460.7 L1503.9,462.9 L1502.5,465.1 L1501.2,467.3 L1499.7,469.4 L1498.3,471.5 L1496.9,473.6 L1495.4,475.7 L1493.9,477.8 L1492.4,479.8 L1490.9,481.9 L1489.3,483.9 L1487.7,485.8 L1486.1,487.8 L1484.5,489.7 L1482.9,491.6 L1481.2,493.5 L1479.5,495.4 L1477.8,497.2 L1476.1,499 L1474.3,500.8 L1472.5,502.6 L1470.7,504.3 L1468.8,506 L1467,507.7 L1465,509.3 L1463.1,511 L1461.2,512.6 L1459.2,514.1 L1457.1,515.6 L1455.1,517.2 L1453,518.6 L1450.9,520.1 L1448.8,521.5 L1446.6,522.9 L1444.4,524.3 L1442.2,525.6 L1440,526.9 L1437.7,528.2 L1435.4,529.5 L1433.1,530.7 L1430.8,531.9 L1428.4,533.1 L1426,534.3 L1423.6,535.4 L1421.2,536.5 L1418.7,537.6 L1416.2,538.7 L1413.7,539.7 L1411.2,540.7 L1408.6,541.7 L1406,542.7 L1403.4,543.7 L1400.8,544.6 L1398.2,545.5 L1395.5,546.4 L1392.8,547.2 L1390.1,548.1 L1387.3,548.9 L1384.6,549.7 L1381.8,550.5 L1379,551.2 L1376.2,552 L1373.4,552.7 L1370.5,553.4 L1367.6,554 L1364.7,554.7 L1361.8,555.3 L1358.9,556 L1355.9,556.6 L1352.9,557.1 L1350,557.7 L1347,558.3 L1343.9,558.8 L1340.9,559.3 L1337.8,559.8 L1334.8,560.3 L1331.7,560.7 L1328.6,561.2 L1325.4,561.6 L1322.3,562 L1319.1,562.4 L1316,562.8 L1312.8,563.2 L1309.6,563.5 L1306.4,563.9 L1303.1,564.2 L1299.9,564.5 L1296.6,564.8 L1293.4,565.1 L1290.1,565.4 L1286.8,565.7 L1283.5,566 L1280.1,566.3 L1276.8,566.5 L1273.5,566.8 L1270.1,567 L1266.8,567.2 L1263.4,567.4 L1260,567.6 L1256.6,567.7 L1253.2,567.9 L1249.8,568 L1246.4,568.2 L1243,568.3 L1239.5,568.4 L1236.1,568.5 L1232.7,568.6 L1229.2,568.7 L1225.8,568.9 L1222.3,569 L1218.8,569.1 L1215.4,569.2 L1211.9,569.3 L1208.4,569.4 L1205,569.5 L1201.5,569.6 L1198,569.7 L1194.5,569.7 L1191.1,569.8 L1187.6,569.9 L1184.1,570 L1180.6,570.1 L1177.1,570.2 L1173.6,570.3 L1170.2,570.4 L1166.7,570.5 L1163.2,570.6 L1159.7,570.7 L1156.3,570.8 L1152.8,570.9 L1149.3,571 L1145.9,571.1 L1142.4,571.2 L1139,571.2 L1135.5,571.3 L1132.1,571.4 L1128.7,571.5 L1125.2,571.6 L1121.8,571.7 L1118.3,571.8 L1114.9,571.8 L1111.5,571.9 L1108,572 L1104.6,572.1 L1101.2,572.2 L1097.7,572.2 L1094.3,572.3 L1090.9,572.4 L1087.4,572.5 L1084,572.5 L1080.6,572.6 L1077.1,572.7 L1073.7,572.8 L1070.2,572.8 L1066.8,572.9 L1063.3,573 L1059.9,573 L1056.4,573.1 L1053,573.2 L1049.5,573.2 L1046,573.3 L1042.5,573.4 L1039,573.4 L1035.6,573.5 L1032.1,573.5 L1028.6,573.6 L1025.1,573.6 L1021.5,573.7 L1018,573.8 L1014.5,573.8 L1010.9,573.9 L1007.4,573.9 L1003.8,573.9 L1000.3,574 L996.7,574 L993.1,574.1 L989.5,574.1 L985.9,574.2 L982.3,574.2" stroke="#000000" stroke-width="6.8"/>
<path d="M982.3,565.7 L985.7,565.7 L989.1,565.7 L992.5,565.6 L995.9,565.6 L999.3,565.6 L1002.8,565.5 L1006.2,565.5 L1009.7,565.5 L1013.1,565.4 L1016.6,565.4 L1020.1,565.3 L1023.5,565.3 L1027,565.2 L1030.5,565.1 L1034,565.1 L1037.5,565 L1041,564.9 L1044.5,564.8 L1048,564.8 L1051.5,564.7 L1055,564.6 L1058.5,564.5 L1062,564.4 L1065.5,564.3 L1069,564.1 L1072.5,564 L1076,563.9 L1079.5,563.8 L1083,563.6 L1086.5,563.5 L1090,563.4 L1093.5,563.2 L1097,563 L1100.4,562.9 L1103.9,562.7 L1107.4,562.5 L1110.8,562.3 L1114.3,562.2 L1117.7,562 L1121.2,561.8 L1124.6,561.6 L1128.1,561.3 L1131.5,561.1 L1134.9,560.9 L1138.3,560.7 L1141.7,560.4 L1145,560.2 L1148.4,559.9 L1151.8,559.6 L1155.1,559.4 L1158.4,559.1 L1161.8,558.8 L1165.1,558.5 L1168.4,558.2 L1171.7,557.9 L1174.9,557.6 L1178.2,557.3 L1181.4,556.9 L1184.6,556.6 L1187.9,556.3 L1191.1,555.9 L1194.2,555.6 L1197.4,555.2 L1200.6,554.8 L1203.7,554.4 L1206.8,554 L1209.9,553.6 L1213,553.2 L1216.1,552.8 L1219.1,552.4 L1222.2,552 L1225.2,551.6 L1228.2,551.1 L1231.2,550.7 L1234.2,550.2 L1237.1,549.7 L1240.1,549.2 L1243,548.7 L1245.9,548.1 L1248.7,547.5 L1251.6,546.9 L1254.4,546.3 L1257.3,545.6 L1260.1,544.9 L1262.8,544.2 L1265.6,543.4 L1268.3,542.6 L1271,541.7 L1273.7,540.8 L1276.4,539.9 L1279.1,538.9 L1281.7,537.9 L1284.3,536.9 L1286.9,535.8 L1289.4,534.8 L1292,533.6 L1294.5,532.5 L1297,531.4 L1299.4,530.2 L1301.9,529 L1304.3,527.9 L1306.7,526.7 L1309.1,525.5 L1311.4,524.3 L1313.7,523.1 L1316,521.8 L1318.3,520.5 L1320.5,519.2 L1322.7,517.8 L1324.9,516.5 L1327.1,515.1 L1329.2,513.7 L1331.3,512.2 L1333.4,510.7 L1335.5,509.2 L1337.5,507.7 L1339.5,506.1 L1341.5,504.6 L1343.4,502.9 L1345.3,501.3 L1347.2,499.6 L1349.1,497.9 L1350.9,496.2 L1352.7,494.5 L1354.5,492.7 L1356.3,490.9 L1358,489.1 L1359.8,487.3 L1361.5,485.4 L1363.1,483.6 L1364.8,481.7 L1366.4,479.7 L1368.1,477.8 L1369.6,475.8 L1371.2,473.8 L1372.8,471.8 L1374.3,469.8 L1375.8,467.8 L1377.3,465.7 L1378.8,463.6 L1380.3,461.6 L1381.7,459.4 L1383.2,457.3 L1384.6,455.2 L1386,453 L1387.4,450.8 L1388.7,448.7 L1390.1,446.5 L1391.4,444.2 L1392.7,442 L1394.1,439.8 L1395.4,437.5 L1396.6,435.2 L1397.9,433 L1399.2,430.7 L1400.4,428.4 L1401.7,426 L1402.9,423.7 L1404.1,421.4 L1405.4,419 L1406.6,416.7 L1407.8,414.3 L1408.9,412 L1410.1,409.6 L1411.3,407.2 L1412.5,404.8 L1413.6,402.4 L1414.8,400 L1415.9,397.6 L1417.1,395.2 L1418.2,392.8 L1419.3,390.3 L1420.5,387.9 L1421.6,385.5 L1422.7,383.1 L1423.8,380.6 L1425,378.2 L1426.1,375.7 L1427.2,373.3 L1428.3,370.8 L1429.4,368.4 L1430.5,366 L1431.6,363.5 L1432.7,361.1 L1433.9,358.6 L1435,356.2 L1436.1,353.8 L1437.2,351.3 L1438.3,348.9 L1439.5,346.5 L1440.6,344 L1441.7,341.6 L1442.9,339.2 L1444,336.8 L1445.2,334.4 L1446.3,332 L1447.5,329.6 L1448.7,327.2 L1449.8,324.8 L1451,322.4 L1452.2,320.1 L1453.4,317.7 L1454.6,315.3 L1455.8,313 L1457,310.7 L1458.3,308.3 L1459.5,306 L1460.8,303.7 L1462,301.4 L1463.3,299.1 L1464.5,296.8 L1465.8,294.5 L1467.1,292.3 L1468.4,290 L1469.7,287.7 L1471,285.5 L1472.3,283.2 L1473.6,281 L1474.9,278.8 L1476.3,276.5 L1477.6,274.3 L1478.9,272.1 L1480.3,269.9 L1481.6,267.7 L1483,265.5 L1484.4,263.3 L1485.7,261.1 L1487.1,258.9 L1488.5,256.8 L1489.9,254.6 L1491.3,252.4 L1492.7,250.3 L1494.1,248.1 L1495.5,246 L1496.9,243.8 L1498.3,241.7 L1499.7,239.5 L1501.2,237.4 L1502.6,235.3 L1504,233.2 L1505.5,231 L1506.9,228.9 L1508.4,226.8 L1509.8,224.7 L1511.3,222.6 L1512.7,220.5 L1514.2,218.4 L1515.6,216.3 L1517.1,214.2 L1518.6,212.1 L1520,210 L1521.5,208 L1523,205.9 L1524.5,203.8 L1526,201.7 L1527.4,199.7 L1528.9,197.6 L1530.4,195.5 L1531.9,193.5 L1533.4,191.4 L1534.9,189.3 L1536.4,187.3 L1537.9,185.2 L1539.4,183.1 L1540.9,181.1 L1542.4,179 L1543.9,177 L1545.4,174.9 L1546.8,172.8 L1548.3,170.7 L1549.8,168.7 L1551.3,166.6 L1552.7,164.5 L1554.2,162.4 L1555.7,160.3 L1557.1,158.2 L1558.5,156.1 L1560,153.9 L1561.4,151.8 L1562.8,149.6 L1564.2,147.5 L1565.6,145.3 L1567,143.1 L1568.3,140.9 L1569.7,138.7 L1571,136.5 L1572.3,134.3 L1573.6,132 L1574.9,129.7 L1576.2,127.5 L1577.4,125.2 L1578.7,122.8 L1579.9,120.5 L1581.1,118.1 L1582.3,115.8 L1583.4,113.4 L1584.6,110.9 L1585.7,108.5 L1586.8,106 L1587.8,103.5 L1588.9,101 L1589.9,98.5 L1590.9,95.9 L1591.9,93.3 L1592.8,90.7 L1593.7,88.1 L1594.6,85.4 L1594.4,88.8 L1594.2,92.2 L1594.1,95.5 L1593.9,98.9 L1593.6,102.2 L1593.4,105.5 L1593.2,108.8 L1592.9,112.1 L1592.7,115.4 L1592.4,118.7 L1592.1,122 L1591.8,125.3 L1591.5,128.5 L1591.2,131.8 L1590.9,135 L1590.6,138.2 L1590.3,141.4 L1589.9,144.7 L1589.6,147.9 L1589.2,151.1 L1588.9,154.2 L1588.5,157.4 L1588.1,160.6 L1587.7,163.8 L1587.3,166.9 L1586.9,170.1 L1586.5,173.2 L1586.1,176.4 L1585.7,179.5 L1585.3,182.6 L1584.9,185.8 L1584.4,188.9 L1584,192 L1583.5,195.1 L1583.1,198.2 L1582.6,201.3 L1582.2,204.4 L1581.7,207.5 L1581.3,210.6 L1580.8,213.6 L1580.3,216.7 L1579.8,219.8 L1579.4,222.9 L1578.9,225.9 L1578.4,229 L1577.9,232.1 L1577.4,235.1 L1576.9,238.2 L1576.4,241.2 L1575.9,244.3 L1575.4,247.3 L1574.9,250.4 L1574.4,253.4 L1573.9,256.4 L1573.4,259.5 L1572.8,262.5 L1572.3,265.5 L1571.8,268.6 L1571.2,271.6 L1570.7,274.6 L1570.2,277.6 L1569.6,280.6 L1569.1,283.6 L1568.5,286.6 L1567.9,289.6 L1567.4,292.5 L1566.8,295.5 L1566.2,298.5 L1565.6,301.4 L1565,304.4 L1564.4,307.3 L1563.8,310.3 L1563.2,313.2 L1562.5,316.1 L1561.9,319.1 L1561.3,322 L1560.6,324.9 L1560,327.8 L1559.3,330.6 L1558.6,333.5 L1557.9,336.4 L1557.3,339.3 L1556.6,342.1 L1555.8,345 L1555.1,347.8 L1554.4,350.6 L1553.7,353.4 L1552.9,356.2 L1552.2,359 L1551.4,361.8 L1550.6,364.6 L1549.8,367.4 L1549,370.1 L1548.2,372.9 L1547.4,375.6 L1546.6,378.3 L1545.8,381 L1544.9,383.7 L1544,386.4 L1543.2,389.1 L1542.3,391.8 L1541.4,394.4 L1540.5,397.1 L1539.6,399.7 L1538.6,402.3 L1537.7,404.9 L1536.7,407.5 L1535.7,410.1 L1534.7,412.6 L1533.7,415.2 L1532.7,417.7 L1531.7,420.2 L1530.7,422.8 L1529.6,425.3 L1528.5,427.7 L1527.5,430.2 L1526.4,432.7 L1525.2,435.1 L1524.1,437.5 L1523,439.9 L1521.8,442.3 L1520.6,444.7 L1519.4,447 L1518.2,449.4 L1517,451.7 L1515.8,454 L1514.5,456.3 L1513.2,458.6 L1511.9,460.8 L1510.6,463.1 L1509.3,465.3 L1507.9,467.5 L1506.5,469.7 L1505.2,471.8 L1503.7,473.9 L1502.3,476.1 L1500.8,478.1 L1499.3,480.2 L1497.8,482.3 L1496.3,484.3 L1494.7,486.3 L1493.2,488.2 L1491.6,490.2 L1489.9,492.1 L1488.3,494 L1486.6,495.9 L1484.9,497.7 L1483.1,499.5 L1481.4,501.3 L1479.6,503.1 L1477.8,504.8 L1475.9,506.5 L1474.1,508.2 L1472.1,509.8 L1470.2,511.4 L1468.2,513 L1466.2,514.6 L1464.2,516.1 L1462.2,517.6 L1460.1,519.1 L1458,520.5 L1455.8,521.9 L1453.7,523.3 L1451.5,524.7 L1449.2,526 L1447,527.3 L1444.7,528.6 L1442.4,529.8 L1440.1,531 L1437.7,532.2 L1435.3,533.4 L1432.9,534.6 L1430.5,535.7 L1428.1,536.8 L1425.6,537.8 L1423.1,538.9 L1420.5,539.9 L1418,540.9 L1415.4,541.9 L1412.8,542.8 L1410.2,543.8 L1407.6,544.7 L1404.9,545.6 L1402.2,546.4 L1399.5,547.3 L1396.8,548.1 L1394,548.9 L1391.2,549.7 L1388.5,550.4 L1385.6,551.2 L1382.8,551.9 L1380,552.6 L1377.1,553.3 L1374.2,553.9 L1371.3,554.6 L1368.4,555.2 L1365.4,555.8 L1362.5,556.4 L1359.5,557 L1356.5,557.5 L1353.5,558.1 L1350.4,558.6 L1347.4,559.1 L1344.3,559.6 L1341.3,560.1 L1338.2,560.5 L1335.1,561 L1331.9,561.4 L1328.8,561.8 L1325.6,562.2 L1322.5,562.6 L1319.3,563 L1316.1,563.3 L1312.9,563.7 L1309.7,564 L1306.4,564.3 L1303.2,564.6 L1299.9,564.9 L1296.7,565.2 L1293.4,565.5 L1290.1,565.8 L1286.8,566.1 L1283.5,566.3 L1280.2,566.6 L1276.8,566.8 L1273.5,567 L1270.1,567.2 L1266.8,567.4 L1263.4,567.6 L1260,567.7 L1256.6,567.9 L1253.2,568 L1249.8,568.1 L1246.4,568.3 L1243,568.4 L1239.6,568.5 L1236.2,568.6 L1232.7,568.7 L1229.3,568.8 L1225.9,568.9 L1222.4,569 L1219,569.1 L1215.5,569.2 L1212,569.3 L1208.6,569.4 L1205.1,569.5 L1201.6,569.5 L1198.2,569.6 L1194.7,569.7 L1191.2,569.8 L1187.7,569.9 L1184.3,570 L1180.8,570.1 L1177.3,570.2 L1173.8,570.3 L1170.3,570.4 L1166.9,570.5 L1163.4,570.6 L1159.9,570.7 L1156.4,570.8 L1152.9,570.9 L1149.5,571 L1146,571.1 L1142.5,571.1 L1139.1,571.2 L1135.6,571.3 L1132.1,571.4 L1128.7,571.5 L1125.2,571.6 L1121.7,571.7 L1118.3,571.8 L1114.8,571.8 L1111.3,571.9 L1107.9,572 L1104.4,572.1 L1101,572.2 L1097.5,572.2 L1094.1,572.3 L1090.6,572.4 L1087.1,572.5 L1083.7,572.5 L1080.2,572.6 L1076.7,572.7 L1073.3,572.8 L1069.8,572.8 L1066.3,572.9 L1062.9,573 L1059.4,573 L1055.9,573.1 L1052.5,573.2 L1049,573.2 L1045.5,573.3 L1042,573.4 L1038.5,573.4 L1035.1,573.5 L1031.6,573.5 L1028.1,573.6 L1024.6,573.7 L1021.1,573.7 L1017.6,573.8 L1014.1,573.8 L1010.6,573.9 L1007,573.9 L1003.5,574 L1000,574 L996.5,574 L992.9,574.1 L989.4,574.1 L985.8,574.2 L982.3,574.2" stroke="#ff0000" stroke-width="6.8"/>
<path d="M982.3,565.7 L985.7,565.7 L989.1,565.7 L992.5,565.6 L995.9,565.6 L999.3,565.6 L1002.7,565.5 L1006.2,565.5 L1009.6,565.5 L1013,565.4 L1016.5,565.4 L1020,565.3 L1023.4,565.3 L1026.9,565.2 L1030.4,565.1 L1033.8,565.1 L1037.3,565 L1040.8,564.9 L1044.3,564.8 L1047.8,564.8 L1051.3,564.7 L1054.7,564.6 L1058.2,564.5 L1061.7,564.4 L1065.2,564.3 L1068.7,564.2 L1072.2,564 L1075.7,563.9 L1079.2,563.8 L1082.7,563.7 L1086.2,563.5 L1089.7,563.4 L1093.2,563.2 L1096.6,563.1 L1100.1,562.9 L1103.6,562.7 L1107.1,562.5 L1110.5,562.4 L1114,562.2 L1117.5,562 L1120.9,561.8 L1124.4,561.6 L1127.8,561.4 L1131.2,561.1 L1134.7,560.9 L1138.1,560.7 L1141.5,560.4 L1144.9,560.2 L1148.3,559.9 L1151.7,559.6 L1155,559.4 L1158.4,559.1 L1161.8,558.8 L1165.1,558.5 L1168.4,558.2 L1171.8,557.9 L1175.1,557.6 L1178.4,557.3 L1181.7,556.9 L1184.9,556.6 L1188.2,556.2 L1191.4,555.9 L1194.7,555.5 L1197.9,555.1 L1201.1,554.7 L1204.3,554.4 L1207.4,554 L1210.6,553.6 L1213.7,553.1 L1216.9,552.7 L1220,552.3 L1223.1,551.9 L1226.1,551.5 L1229.2,551 L1232.2,550.6 L1235.2,550.2 L1238.2,549.7 L1241.2,549.3 L1244.1,548.8 L1247.1,548.3 L1250,547.8 L1252.9,547.3 L1255.8,546.7 L1258.6,546.1 L1261.4,545.5 L1264.2,544.8 L1267,544.1 L1269.8,543.4 L1272.5,542.6 L1275.2,541.8 L1277.9,540.9 L1280.5,540 L1283.2,539.1 L1285.8,538.1 L1288.3,537.1 L1290.9,536 L1293.4,534.9 L1295.9,533.8 L1298.4,532.7 L1300.8,531.5 L1303.2,530.4 L1305.6,529.2 L1308,528 L1310.3,526.7 L1312.6,525.5 L1314.9,524.2 L1317.1,522.9 L1319.4,521.6 L1321.6,520.2 L1323.7,518.8 L1325.9,517.4 L1328,516 L1330.1,514.5 L1332.2,513 L1334.2,511.5 L1336.2,510 L1338.3,508.4 L1340.2,506.9 L1342.2,505.3 L1344.1,503.6 L1346.1,502 L1348,500.4 L1349.8,498.7 L1351.7,497 L1353.5,495.2 L1355.3,493.5 L1357.1,491.7 L1358.9,490 L1360.7,488.2 L1362.4,486.4 L1364.1,484.5 L1365.9,482.7 L1367.5,480.8 L1369.2,478.9 L1370.9,477 L1372.5,475.1 L1374.1,473.2 L1375.8,471.2 L1377.4,469.3 L1378.9,467.3 L1380.5,465.3 L1382.1,463.3 L1383.6,461.3 L1385.1,459.3 L1386.6,457.2 L1388.1,455.2 L1389.6,453.1 L1391.1,451 L1392.6,448.9 L1394,446.8 L1395.5,444.7 L1396.9,442.6 L1398.3,440.4 L1399.8,438.3 L1401.2,436.2 L1402.6,434 L1403.9,431.8 L1405.3,429.6 L1406.7,427.5 L1408.1,425.3 L1409.4,423.1 L1410.8,420.9 L1412.1,418.6 L1413.4,416.4 L1414.8,414.2 L1416.1,411.9 L1417.4,409.7 L1418.7,407.5 L1420,405.2 L1421.3,402.9 L1422.6,400.7 L1423.9,398.4 L1425.2,396.1 L1426.4,393.8 L1427.7,391.6 L1429,389.3 L1430.3,387 L1431.5,384.7 L1432.8,382.4 L1434,380.1 L1435.3,377.8 L1436.6,375.5 L1437.8,373.2 L1439.1,370.9 L1440.3,368.6 L1441.6,366.3 L1442.8,364 L1444,361.6 L1445.3,359.3 L1446.5,357 L1447.8,354.7 L1449,352.4 L1450.3,350.1 L1451.5,347.8 L1452.8,345.5 L1454,343.2 L1455.3,340.9 L1456.5,338.5 L1457.8,336.2 L1459,333.9 L1460.3,331.7 L1461.6,329.4 L1462.8,327.1 L1464.1,324.8 L1465.4,322.5 L1466.7,320.2 L1467.9,317.9 L1469.2,315.7 L1470.5,313.4 L1471.8,311.2 L1473.1,308.9 L1474.4,306.7 L1475.8,304.4 L1477.1,302.2 L1478.4,299.9 L1479.7,297.7 L1481.1,295.5 L1482.4,293.3 L1483.8,291.1 L1485.2,288.9 L1486.5,286.7 L1487.9,284.5 L1489.3,282.4 L1490.7,280.2 L1492.1,278.1 L1493.5,275.9 L1494.9,273.8 L1496.4,271.7 L1497.8,269.6 L1499.3,267.4 L1500.7,265.4 L1502.2,263.3 L1503.7,261.2 L1505.2,259.1 L1506.7,257 L1508.1,255 L1509.6,252.9 L1511.2,250.9 L1512.7,248.8 L1514.2,246.8 L1515.7,244.7 L1517.2,242.7 L1518.7,240.7 L1520.3,238.6 L1521.8,236.6 L1523.3,234.6 L1524.9,232.6 L1526.4,230.5 L1527.9,228.5 L1529.5,226.5 L1531,224.4 L1532.5,222.4 L1534,220.4 L1535.6,218.4 L1537.1,216.3 L1538.6,214.3 L1540.1,212.2 L1541.6,210.2 L1543.1,208.1 L1544.6,206.1 L1546.1,204 L1547.6,202 L1549.1,199.9 L1550.6,197.8 L1552.1,195.7 L1553.5,193.6 L1555,191.5 L1556.4,189.4 L1557.9,187.3 L1559.3,185.2 L1560.7,183 L1562.1,180.9 L1563.5,178.7 L1564.9,176.5 L1566.3,174.4 L1567.6,172.2 L1569,170 L1570.3,167.7 L1571.7,165.5 L1573,163.3 L1574.3,161 L1575.5,158.7 L1576.8,156.4 L1578.1,154.1 L1579.3,151.8 L1580.5,149.5 L1581.7,147.1 L1582.9,144.7 L1584.1,142.3 L1585.2,139.9 L1586.3,137.5 L1587.4,135 L1588.5,132.6 L1589.6,130.1 L1590.6,127.6 L1591.7,125 L1592.7,122.5 L1593.6,119.9 L1594.6,117.3 L1594.4,120.6 L1594.1,123.9 L1593.9,127.2 L1593.6,130.5 L1593.3,133.8 L1593.1,137.1 L1592.8,140.3 L1592.5,143.6 L1592.2,146.8 L1591.9,150.1 L1591.5,153.3 L1591.2,156.5 L1590.9,159.8 L1590.5,163 L1590.2,166.2 L1589.8,169.4 L1589.5,172.6 L1589.1,175.7 L1588.7,178.9 L1588.3,182.1 L1587.9,185.2 L1587.5,188.4 L1587.1,191.5 L1586.7,194.7 L1586.3,197.8 L1585.9,200.9 L1585.5,204.1 L1585,207.2 L1584.6,210.3 L1584.1,213.4 L1583.7,216.5 L1583.2,219.6 L1582.8,222.7 L1582.3,225.8 L1581.8,228.9 L1581.4,231.9 L1580.9,235 L1580.4,238.1 L1579.9,241.1 L1579.4,244.2 L1578.9,247.2 L1578.4,250.3 L1577.9,253.3 L1577.4,256.4 L1576.9,259.4 L1576.4,262.5 L1575.9,265.5 L1575.3,268.5 L1574.8,271.6 L1574.3,274.6 L1573.7,277.6 L1573.2,280.6 L1572.7,283.6 L1572.1,286.7 L1571.6,289.7 L1571,292.7 L1570.5,295.7 L1569.9,298.7 L1569.4,301.7 L1568.8,304.6 L1568.2,307.6 L1567.7,310.6 L1567.1,313.6 L1566.5,316.5 L1565.9,319.5 L1565.3,322.4 L1564.7,325.4 L1564.1,328.3 L1563.5,331.2 L1562.8,334.2 L1562.2,337.1 L1561.5,340 L1560.9,342.9 L1560.2,345.8 L1559.5,348.6 L1558.9,351.5 L1558.2,354.4 L1557.5,357.2 L1556.8,360.1 L1556,362.9 L1555.3,365.7 L1554.6,368.5 L1553.8,371.3 L1553,374.1 L1552.3,376.9 L1551.5,379.7 L1550.7,382.4 L1549.9,385.1 L1549,387.9 L1548.2,390.6 L1547.4,393.3 L1546.5,396 L1545.6,398.6 L1544.7,401.3 L1543.8,404 L1542.9,406.6 L1542,409.2 L1541,411.8 L1540,414.4 L1539.1,417 L1538.1,419.5 L1537,422.1 L1536,424.6 L1535,427.1 L1533.9,429.6 L1532.8,432.1 L1531.7,434.5 L1530.6,436.9 L1529.5,439.4 L1528.3,441.8 L1527.2,444.2 L1526,446.5 L1524.8,448.9 L1523.6,451.2 L1522.3,453.5 L1521.1,455.8 L1519.8,458.1 L1518.5,460.3 L1517.1,462.5 L1515.8,464.7 L1514.4,466.9 L1513,469.1 L1511.6,471.2 L1510.2,473.4 L1508.8,475.5 L1507.3,477.5 L1505.8,479.6 L1504.3,481.6 L1502.7,483.6 L1501.2,485.6 L1499.6,487.6 L1498,489.5 L1496.3,491.4 L1494.7,493.3 L1493,495.2 L1491.3,497 L1489.5,498.9 L1487.8,500.7 L1486,502.4 L1484.2,504.2 L1482.4,505.9 L1480.5,507.6 L1478.6,509.3 L1476.7,510.9 L1474.8,512.5 L1472.8,514.1 L1470.8,515.7 L1468.8,517.2 L1466.8,518.7 L1464.7,520.2 L1462.6,521.7 L1460.5,523.1 L1458.4,524.5 L1456.2,525.9 L1454,527.3 L1451.8,528.6 L1449.5,529.9 L1447.2,531.1 L1444.9,532.4 L1442.6,533.6 L1440.2,534.8 L1437.8,535.9 L1435.4,537 L1432.9,538.1 L1430.4,539.2 L1427.9,540.3 L1425.4,541.3 L1422.8,542.3 L1420.2,543.2 L1417.6,544.2 L1415,545.1 L1412.3,546 L1409.6,546.8 L1406.9,547.7 L1404.2,548.5 L1401.4,549.3 L1398.7,550.1 L1395.9,550.8 L1393,551.6 L1390.2,552.3 L1387.3,553 L1384.5,553.6 L1381.5,554.3 L1378.6,554.9 L1375.7,555.5 L1372.7,556.1 L1369.7,556.7 L1366.7,557.2 L1363.7,557.8 L1360.7,558.3 L1357.6,558.8 L1354.6,559.3 L1351.5,559.7 L1348.4,560.2 L1345.3,560.6 L1342.1,561 L1339,561.4 L1335.8,561.8 L1332.7,562.2 L1329.5,562.6 L1326.3,562.9 L1323.1,563.3 L1319.8,563.6 L1316.6,563.9 L1313.4,564.2 L1310.1,564.5 L1306.8,564.8 L1303.6,565.1 L1300.3,565.4 L1297,565.6 L1293.7,565.9 L1290.3,566.1 L1287,566.4 L1283.7,566.6 L1280.3,566.8 L1277,567 L1273.6,567.2 L1270.3,567.4 L1266.9,567.6 L1263.5,567.7 L1260.1,567.9 L1256.7,568 L1253.3,568.1 L1249.9,568.2 L1246.5,568.3 L1243.1,568.4 L1239.7,568.5 L1236.2,568.6 L1232.8,568.7 L1229.4,568.8 L1225.9,568.9 L1222.5,569 L1219,569.1 L1215.6,569.2 L1212.1,569.3 L1208.6,569.4 L1205.2,569.4 L1201.7,569.5 L1198.2,569.6 L1194.8,569.7 L1191.3,569.8 L1187.8,569.9 L1184.3,570 L1180.9,570.1 L1177.4,570.2 L1173.9,570.3 L1170.4,570.4 L1166.9,570.5 L1163.5,570.6 L1160,570.7 L1156.5,570.8 L1153,570.9 L1149.5,571 L1146,571.1 L1142.6,571.1 L1139.1,571.2 L1135.6,571.3 L1132.1,571.4 L1128.6,571.5 L1125.2,571.6 L1121.7,571.7 L1118.2,571.8 L1114.7,571.8 L1111.3,571.9 L1107.8,572 L1104.3,572.1 L1100.8,572.2 L1097.4,572.2 L1093.9,572.3 L1090.4,572.4 L1086.9,572.5 L1083.5,572.6 L1080,572.6 L1076.5,572.7 L1073,572.8 L1069.6,572.8 L1066.1,572.9 L1062.6,573 L1059.1,573 L1055.7,573.1 L1052.2,573.2 L1048.7,573.2 L1045.2,573.3 L1041.7,573.4 L1038.2,573.4 L1034.8,573.5 L1031.3,573.5 L1027.8,573.6 L1024.3,573.7 L1020.8,573.7 L1017.3,573.8 L1013.8,573.8 L1010.3,573.9 L1006.8,573.9 L1003.3,574 L999.8,574 L996.3,574 L992.8,574.1 L989.3,574.1 L985.8,574.2 L982.3,574.2" stroke="#0000ff" stroke-width="6.8"/>
<path d="M982.3,565.7 L985.7,565.7 L989.1,565.7 L992.5,565.6 L995.9,565.6 L999.3,565.6 L1002.7,565.5 L1006.1,565.5 L1009.6,565.5 L1013,565.4 L1016.4,565.4 L1019.9,565.3 L1023.4,565.3 L1026.8,565.2 L1030.3,565.1 L1033.8,565.1 L1037.2,565 L1040.7,564.9 L1044.2,564.8 L1047.7,564.8 L1051.2,564.7 L1054.6,564.6 L1058.1,564.5 L1061.6,564.4 L1065.1,564.3 L1068.6,564.2 L1072.1,564 L1075.6,563.9 L1079.1,563.8 L1082.6,563.7 L1086,563.5 L1089.5,563.4 L1093,563.2 L1096.5,563.1 L1100,562.9 L1103.4,562.7 L1106.9,562.6 L1110.4,562.4 L1113.8,562.2 L1117.3,562 L1120.7,561.8 L1124.1,561.6 L1127.6,561.4 L1131,561.1 L1134.4,560.9 L1137.8,560.7 L1141.2,560.4 L1144.6,560.2 L1148,559.9 L1151.4,559.7 L1154.8,559.4 L1158.1,559.1 L1161.5,558.8 L1164.8,558.5 L1168.2,558.2 L1171.5,557.9 L1174.8,557.6 L1178.1,557.3 L1181.3,557 L1184.6,556.6 L1187.9,556.3 L1191.1,555.9 L1194.3,555.5 L1197.5,555.2 L1200.7,554.8 L1203.9,554.4 L1207.1,554 L1210.2,553.6 L1213.4,553.2 L1216.5,552.8 L1219.6,552.4 L1222.7,551.9 L1225.7,551.5 L1228.8,551.1 L1231.8,550.7 L1234.8,550.2 L1237.8,549.8 L1240.8,549.3 L1243.7,548.8 L1246.6,548.3 L1249.5,547.8 L1252.4,547.3 L1255.3,546.7 L1258.1,546.1 L1261,545.5 L1263.8,544.8 L1266.5,544.1 L1269.3,543.4 L1272,542.6 L1274.7,541.8 L1277.4,540.9 L1280.1,540 L1282.7,539.1 L1285.4,538.1 L1288,537.2 L1290.5,536.1 L1293.1,535.1 L1295.6,534 L1298.1,532.9 L1300.6,531.8 L1303.1,530.7 L1305.6,529.6 L1308,528.5 L1310.4,527.3 L1312.8,526.1 L1315.1,524.9 L1317.5,523.7 L1319.8,522.5 L1322.1,521.2 L1324.3,519.9 L1326.6,518.6 L1328.8,517.3 L1331,516 L1333.2,514.6 L1335.3,513.2 L1337.5,511.8 L1339.6,510.3 L1341.7,508.9 L1343.8,507.4 L1345.8,505.9 L1347.8,504.4 L1349.8,502.8 L1351.8,501.2 L1353.8,499.6 L1355.7,498 L1357.6,496.4 L1359.5,494.8 L1361.4,493.1 L1363.3,491.4 L1365.1,489.7 L1367,488 L1368.8,486.2 L1370.6,484.5 L1372.4,482.7 L1374.1,480.9 L1375.9,479.1 L1377.6,477.3 L1379.3,475.4 L1381,473.6 L1382.7,471.7 L1384.4,469.8 L1386,467.9 L1387.7,466 L1389.3,464.1 L1390.9,462.2 L1392.5,460.2 L1394.1,458.3 L1395.7,456.3 L1397.3,454.3 L1398.8,452.3 L1400.4,450.3 L1401.9,448.3 L1403.4,446.2 L1404.9,444.2 L1406.4,442.1 L1407.9,440.1 L1409.4,438 L1410.9,435.9 L1412.3,433.8 L1413.8,431.7 L1415.2,429.6 L1416.7,427.5 L1418.1,425.4 L1419.5,423.3 L1421,421.1 L1422.4,419 L1423.8,416.9 L1425.2,414.7 L1426.6,412.5 L1427.9,410.4 L1429.3,408.2 L1430.7,406 L1432.1,403.8 L1433.5,401.7 L1434.8,399.5 L1436.2,397.3 L1437.5,395.1 L1438.9,392.9 L1440.3,390.7 L1441.6,388.5 L1443,386.3 L1444.3,384.1 L1445.6,381.9 L1447,379.7 L1448.3,377.5 L1449.7,375.3 L1451,373.1 L1452.4,370.8 L1453.7,368.6 L1455.1,366.4 L1456.4,364.2 L1457.8,362 L1459.1,359.8 L1460.5,357.6 L1461.8,355.4 L1463.2,353.2 L1464.6,351.1 L1465.9,348.9 L1467.3,346.7 L1468.7,344.5 L1470.1,342.3 L1471.4,340.2 L1472.8,338 L1474.2,335.8 L1475.6,333.7 L1477,331.5 L1478.4,329.4 L1479.9,327.3 L1481.3,325.1 L1482.7,323 L1484.2,320.9 L1485.6,318.8 L1487.1,316.7 L1488.5,314.6 L1490,312.5 L1491.5,310.5 L1493,308.4 L1494.5,306.3 L1496,304.3 L1497.5,302.2 L1499,300.2 L1500.5,298.1 L1502,296.1 L1503.5,294.1 L1505,292 L1506.6,290 L1508.1,288 L1509.6,286 L1511.2,284 L1512.7,281.9 L1514.2,279.9 L1515.8,277.9 L1517.3,275.9 L1518.9,273.9 L1520.4,271.9 L1521.9,269.8 L1523.5,267.8 L1525,265.8 L1526.5,263.8 L1528.1,261.8 L1529.6,259.8 L1531.1,257.7 L1532.6,255.7 L1534.2,253.7 L1535.7,251.6 L1537.2,249.6 L1538.7,247.5 L1540.2,245.5 L1541.7,243.4 L1543.2,241.4 L1544.7,239.3 L1546.1,237.2 L1547.6,235.1 L1549.1,233 L1550.5,230.9 L1552,228.8 L1553.4,226.7 L1554.9,224.6 L1556.3,222.5 L1557.7,220.3 L1559.1,218.2 L1560.5,216 L1561.9,213.8 L1563.2,211.7 L1564.6,209.5 L1565.9,207.3 L1567.3,205 L1568.6,202.8 L1569.9,200.6 L1571.2,198.3 L1572.5,196 L1573.7,193.7 L1575,191.4 L1576.2,189.1 L1577.4,186.8 L1578.6,184.4 L1579.8,182.1 L1581,179.7 L1582.2,177.3 L1583.3,174.9 L1584.4,172.5 L1585.5,170 L1586.6,167.5 L1587.7,165.1 L1588.7,162.5 L1589.8,160 L1590.8,157.5 L1591.8,154.9 L1592.7,152.3 L1593.7,149.7 L1594.6,147.1 L1594.3,150.4 L1594,153.6 L1593.7,156.9 L1593.4,160.1 L1593.1,163.4 L1592.8,166.6 L1592.5,169.8 L1592.2,173.1 L1591.8,176.3 L1591.5,179.5 L1591.2,182.7 L1590.8,185.9 L1590.5,189.1 L1590.1,192.3 L1589.7,195.5 L1589.4,198.6 L1589,201.8 L1588.6,205 L1588.2,208.1 L1587.8,211.3 L1587.4,214.4 L1587,217.6 L1586.6,220.7 L1586.2,223.8 L1585.7,226.9 L1585.3,230.1 L1584.9,233.2 L1584.4,236.3 L1584,239.4 L1583.5,242.5 L1583.1,245.5 L1582.6,248.6 L1582.1,251.7 L1581.6,254.8 L1581.2,257.8 L1580.7,260.9 L1580.2,263.9 L1579.7,267 L1579.2,270 L1578.7,273.1 L1578.1,276.1 L1577.6,279.1 L1577.1,282.2 L1576.6,285.2 L1576,288.2 L1575.5,291.2 L1574.9,294.2 L1574.4,297.2 L1573.8,300.2 L1573.3,303.2 L1572.7,306.1 L1572.1,309.1 L1571.5,312.1 L1570.9,315 L1570.4,318 L1569.8,320.9 L1569.2,323.9 L1568.6,326.8 L1567.9,329.8 L1567.3,332.7 L1566.7,335.6 L1566.1,338.5 L1565.4,341.4 L1564.8,344.3 L1564.1,347.2 L1563.5,350.1 L1562.8,353 L1562.1,355.9 L1561.4,358.7 L1560.7,361.6 L1560,364.4 L1559.3,367.3 L1558.6,370.1 L1557.9,372.9 L1557.1,375.7 L1556.4,378.5 L1555.6,381.3 L1554.8,384 L1554,386.8 L1553.2,389.5 L1552.4,392.3 L1551.6,395 L1550.7,397.7 L1549.9,400.4 L1549,403.1 L1548.1,405.7 L1547.2,408.4 L1546.3,411 L1545.4,413.6 L1544.4,416.2 L1543.5,418.8 L1542.5,421.4 L1541.5,424 L1540.5,426.5 L1539.5,429 L1538.4,431.5 L1537.4,434 L1536.3,436.5 L1535.2,439 L1534.1,441.4 L1533,443.8 L1531.8,446.2 L1530.6,448.6 L1529.5,450.9 L1528.2,453.3 L1527,455.6 L1525.8,457.9 L1524.5,460.2 L1523.2,462.4 L1521.9,464.7 L1520.5,466.9 L1519.2,469.1 L1517.8,471.2 L1516.4,473.4 L1515,475.5 L1513.5,477.6 L1512.1,479.7 L1510.6,481.7 L1509,483.7 L1507.5,485.7 L1505.9,487.7 L1504.3,489.7 L1502.7,491.6 L1501.1,493.5 L1499.4,495.4 L1497.7,497.2 L1496,499.1 L1494.2,500.9 L1492.5,502.6 L1490.7,504.4 L1488.8,506.1 L1487,507.8 L1485.1,509.5 L1483.2,511.1 L1481.3,512.7 L1479.3,514.3 L1477.3,515.9 L1475.3,517.4 L1473.3,518.9 L1471.2,520.4 L1469.1,521.9 L1467,523.3 L1464.9,524.7 L1462.7,526.1 L1460.5,527.4 L1458.2,528.7 L1456,530 L1453.7,531.3 L1451.4,532.5 L1449,533.7 L1446.6,534.9 L1444.2,536 L1441.8,537.1 L1439.3,538.2 L1436.9,539.3 L1434.3,540.3 L1431.8,541.3 L1429.2,542.3 L1426.6,543.2 L1424,544.2 L1421.3,545.1 L1418.7,545.9 L1416,546.8 L1413.3,547.6 L1410.5,548.4 L1407.8,549.2 L1405,550 L1402.2,550.7 L1399.3,551.4 L1396.5,552.1 L1393.6,552.8 L1390.7,553.4 L1387.8,554.1 L1384.9,554.7 L1381.9,555.3 L1378.9,555.9 L1375.9,556.4 L1372.9,557 L1369.9,557.5 L1366.9,558 L1363.8,558.5 L1360.7,559 L1357.7,559.4 L1354.6,559.9 L1351.4,560.3 L1348.3,560.7 L1345.2,561.1 L1342,561.5 L1338.8,561.9 L1335.6,562.2 L1332.5,562.6 L1329.2,562.9 L1326,563.3 L1322.8,563.6 L1319.6,563.9 L1316.3,564.2 L1313,564.5 L1309.8,564.8 L1306.5,565 L1303.2,565.3 L1299.9,565.6 L1296.6,565.8 L1293.3,566.1 L1290,566.3 L1286.7,566.6 L1283.4,566.8 L1280,567 L1276.7,567.2 L1273.3,567.4 L1270,567.6 L1266.6,567.7 L1263.3,567.9 L1259.9,568 L1256.5,568.1 L1253.1,568.2 L1249.7,568.3 L1246.4,568.4 L1243,568.5 L1239.6,568.6 L1236.1,568.7 L1232.7,568.7 L1229.3,568.8 L1225.9,568.9 L1222.5,569 L1219,569.1 L1215.6,569.2 L1212.2,569.3 L1208.7,569.4 L1205.3,569.4 L1201.8,569.5 L1198.4,569.6 L1194.9,569.7 L1191.4,569.8 L1188,569.9 L1184.5,570 L1181,570.1 L1177.5,570.2 L1174.1,570.3 L1170.6,570.4 L1167.1,570.5 L1163.6,570.6 L1160.1,570.7 L1156.6,570.8 L1153.2,570.9 L1149.7,571 L1146.2,571.1 L1142.7,571.1 L1139.2,571.2 L1135.7,571.3 L1132.2,571.4 L1128.7,571.5 L1125.2,571.6 L1121.7,571.7 L1118.2,571.8 L1114.7,571.8 L1111.2,571.9 L1107.7,572 L1104.1,572.1 L1100.6,572.2 L1097.1,572.2 L1093.6,572.3 L1090.1,572.4 L1086.6,572.5 L1083.1,572.6 L1079.6,572.6 L1076.1,572.7 L1072.6,572.8 L1069.1,572.9 L1065.6,572.9 L1062.1,573 L1058.6,573.1 L1055.1,573.1 L1051.6,573.2 L1048.1,573.3 L1044.6,573.3 L1041.2,573.4 L1037.7,573.4 L1034.2,573.5 L1030.7,573.6 L1027.2,573.6 L1023.8,573.7 L1020.3,573.7 L1016.8,573.8 L1013.3,573.8 L1009.9,573.9 L1006.4,573.9 L1003,574 L999.5,574 L996.1,574 L992.6,574.1 L989.2,574.1 L985.7,574.2 L982.3,574.2" stroke="#ff00ff" stroke-width="6.8"/>
<path d="M982.3,565.7 L985.8,565.7 L989.4,565.7 L992.9,565.6 L996.4,565.6 L1000,565.6 L1003.5,565.5 L1007,565.5 L1010.6,565.4 L1014.1,565.4 L1017.6,565.3 L1021.1,565.3 L1024.6,565.2 L1028.1,565.2 L1031.7,565.1 L1035.2,565 L1038.7,565 L1042.2,564.9 L1045.7,564.8 L1049.2,564.7 L1052.6,564.6 L1056.1,564.5 L1059.6,564.4 L1063.1,564.3 L1066.6,564.2 L1070,564.1 L1073.5,564 L1076.9,563.9 L1080.4,563.7 L1083.8,563.6 L1087.3,563.5 L1090.7,563.3 L1094.1,563.2 L1097.6,563 L1101,562.9 L1104.4,562.7 L1107.8,562.5 L1111.2,562.3 L1114.6,562.1 L1118,562 L1121.3,561.8 L1124.7,561.5 L1128.1,561.3 L1131.4,561.1 L1134.8,560.9 L1138.1,560.7 L1141.4,560.4 L1144.8,560.2 L1148.1,559.9 L1151.4,559.7 L1154.7,559.4 L1158,559.1 L1161.2,558.9 L1164.5,558.6 L1167.8,558.3 L1171,558 L1174.3,557.7 L1177.5,557.3 L1180.7,557 L1183.9,556.7 L1187.1,556.3 L1190.3,556 L1193.5,555.6 L1196.6,555.3 L1199.8,554.9 L1203,554.5 L1206.1,554.1 L1209.2,553.7 L1212.3,553.3 L1215.4,552.9 L1218.5,552.5 L1221.6,552.1 L1224.6,551.6 L1227.7,551.2 L1230.7,550.7 L1233.8,550.2 L1236.8,549.7 L1239.8,549.2 L1242.8,548.7 L1245.7,548.2 L1248.7,547.6 L1251.6,547 L1254.6,546.4 L1257.5,545.8 L1260.4,545.2 L1263.3,544.5 L1266.2,543.8 L1269,543.1 L1271.9,542.4 L1274.7,541.6 L1277.5,540.9 L1280.3,540.1 L1283.1,539.3 L1285.9,538.4 L1288.6,537.6 L1291.4,536.7 L1294.1,535.8 L1296.8,534.9 L1299.5,534 L1302.1,533.1 L1304.8,532.2 L1307.4,531.3 L1310.1,530.4 L1312.7,529.4 L1315.3,528.4 L1317.8,527.5 L1320.4,526.5 L1322.9,525.4 L1325.4,524.4 L1327.9,523.3 L1330.4,522.3 L1332.9,521.2 L1335.3,520.1 L1337.7,518.9 L1340.1,517.8 L1342.5,516.6 L1344.9,515.4 L1347.2,514.2 L1349.6,513 L1351.9,511.7 L1354.2,510.5 L1356.4,509.2 L1358.7,507.9 L1360.9,506.6 L1363.1,505.2 L1365.3,503.8 L1367.5,502.5 L1369.6,501.1 L1371.8,499.6 L1373.9,498.2 L1376,496.7 L1378.1,495.3 L1380.2,493.8 L1382.2,492.3 L1384.2,490.8 L1386.3,489.2 L1388.3,487.7 L1390.3,486.1 L1392.2,484.5 L1394.2,482.9 L1396.2,481.3 L1398.1,479.7 L1400,478.1 L1401.9,476.4 L1403.8,474.8 L1405.7,473.1 L1407.6,471.4 L1409.5,469.8 L1411.3,468.1 L1413.2,466.3 L1415,464.6 L1416.8,462.9 L1418.6,461.2 L1420.5,459.4 L1422.3,457.6 L1424,455.9 L1425.8,454.1 L1427.6,452.3 L1429.4,450.5 L1431.1,448.8 L1432.9,447 L1434.6,445.1 L1436.4,443.3 L1438.1,441.5 L1439.9,439.7 L1441.6,437.9 L1443.3,436 L1445,434.2 L1446.7,432.4 L1448.5,430.5 L1450.2,428.7 L1451.9,426.8 L1453.6,425 L1455.3,423.1 L1456.9,421.2 L1458.6,419.4 L1460.3,417.5 L1462,415.6 L1463.7,413.7 L1465.3,411.8 L1467,409.9 L1468.7,408.1 L1470.3,406.2 L1472,404.3 L1473.6,402.4 L1475.3,400.4 L1476.9,398.5 L1478.6,396.6 L1480.2,394.7 L1481.8,392.8 L1483.5,390.8 L1485.1,388.9 L1486.7,387 L1488.3,385.1 L1490,383.1 L1491.6,381.2 L1493.2,379.2 L1494.8,377.3 L1496.4,375.3 L1498,373.4 L1499.6,371.4 L1501.2,369.5 L1502.8,367.5 L1504.4,365.5 L1506,363.6 L1507.6,361.6 L1509.2,359.6 L1510.7,357.7 L1512.3,355.7 L1513.9,353.7 L1515.5,351.7 L1517,349.7 L1518.6,347.8 L1520.2,345.8 L1521.7,343.8 L1523.3,341.8 L1524.8,339.8 L1526.4,337.7 L1527.9,335.7 L1529.4,333.7 L1531,331.7 L1532.5,329.6 L1534,327.6 L1535.5,325.5 L1537,323.5 L1538.5,321.4 L1540,319.3 L1541.4,317.3 L1542.9,315.2 L1544.4,313.1 L1545.8,311 L1547.3,308.8 L1548.7,306.7 L1550.1,304.6 L1551.5,302.4 L1552.9,300.3 L1554.3,298.1 L1555.7,295.9 L1557,293.7 L1558.4,291.5 L1559.7,289.3 L1561.1,287.1 L1562.4,284.9 L1563.7,282.6 L1565,280.3 L1566.2,278.1 L1567.5,275.8 L1568.8,273.5 L1570,271.1 L1571.2,268.8 L1572.4,266.5 L1573.6,264.1 L1574.8,261.7 L1575.9,259.3 L1577.1,256.9 L1578.2,254.5 L1579.3,252 L1580.4,249.6 L1581.5,247.1 L1582.6,244.6 L1583.6,242.1 L1584.6,239.5 L1585.6,237 L1586.6,234.4 L1587.6,231.8 L1588.5,229.2 L1589.5,226.6 L1590.4,223.9 L1591.3,221.3 L1592.1,218.6 L1593,215.9 L1593.8,213.2 L1594.6,210.4 L1594.3,213.6 L1593.9,216.8 L1593.6,220 L1593.2,223.2 L1592.9,226.4 L1592.5,229.6 L1592.1,232.8 L1591.8,236 L1591.4,239.2 L1591,242.3 L1590.6,245.5 L1590.2,248.6 L1589.8,251.8 L1589.4,254.9 L1589,258.1 L1588.6,261.2 L1588.2,264.3 L1587.7,267.5 L1587.3,270.6 L1586.9,273.7 L1586.4,276.8 L1586,279.9 L1585.5,283 L1585,286.1 L1584.6,289.2 L1584.1,292.2 L1583.6,295.3 L1583.1,298.4 L1582.6,301.4 L1582.1,304.5 L1581.6,307.5 L1581.1,310.6 L1580.6,313.6 L1580.1,316.6 L1579.5,319.6 L1579,322.6 L1578.4,325.6 L1577.9,328.6 L1577.3,331.6 L1576.8,334.6 L1576.2,337.6 L1575.6,340.6 L1575,343.5 L1574.4,346.5 L1573.8,349.4 L1573.2,352.4 L1572.6,355.3 L1572,358.2 L1571.3,361.2 L1570.7,364.1 L1570.1,367 L1569.4,369.9 L1568.7,372.8 L1568.1,375.6 L1567.4,378.5 L1566.7,381.4 L1566,384.2 L1565.3,387.1 L1564.6,389.9 L1563.8,392.7 L1563.1,395.5 L1562.3,398.3 L1561.5,401.1 L1560.8,403.9 L1560,406.6 L1559.1,409.3 L1558.3,412.1 L1557.5,414.8 L1556.6,417.5 L1555.7,420.1 L1554.8,422.8 L1553.9,425.4 L1553,428.1 L1552.1,430.7 L1551.1,433.3 L1550.1,435.8 L1549.1,438.4 L1548.1,440.9 L1547.1,443.4 L1546,445.9 L1545,448.4 L1543.9,450.9 L1542.7,453.3 L1541.6,455.7 L1540.4,458.1 L1539.2,460.5 L1538,462.8 L1536.8,465.1 L1535.5,467.4 L1534.3,469.7 L1533,471.9 L1531.6,474.2 L1530.3,476.4 L1528.9,478.5 L1527.5,480.7 L1526.1,482.8 L1524.6,484.9 L1523.1,486.9 L1521.6,489 L1520,491 L1518.5,493 L1516.9,494.9 L1515.2,496.8 L1513.6,498.7 L1511.9,500.6 L1510.1,502.4 L1508.4,504.2 L1506.6,506 L1504.8,507.7 L1502.9,509.4 L1501,511.1 L1499.1,512.7 L1497.2,514.3 L1495.2,515.9 L1493.2,517.4 L1491.1,518.9 L1489,520.4 L1486.9,521.8 L1484.8,523.2 L1482.6,524.6 L1480.4,525.9 L1478.2,527.3 L1475.9,528.6 L1473.6,529.8 L1471.3,531.1 L1469,532.3 L1466.6,533.4 L1464.2,534.6 L1461.8,535.7 L1459.3,536.8 L1456.8,537.9 L1454.3,538.9 L1451.8,539.9 L1449.2,540.9 L1446.7,541.9 L1444.1,542.9 L1441.4,543.8 L1438.8,544.7 L1436.1,545.5 L1433.4,546.4 L1430.7,547.2 L1427.9,548 L1425.2,548.8 L1422.4,549.6 L1419.6,550.3 L1416.7,551 L1413.9,551.7 L1411,552.4 L1408.1,553.1 L1405.2,553.7 L1402.3,554.3 L1399.3,554.9 L1396.4,555.5 L1393.4,556.1 L1390.4,556.6 L1387.4,557.2 L1384.3,557.7 L1381.3,558.2 L1378.2,558.7 L1375.1,559.1 L1372,559.6 L1368.9,560 L1365.8,560.4 L1362.6,560.9 L1359.5,561.2 L1356.3,561.6 L1353.1,562 L1349.9,562.3 L1346.7,562.7 L1343.5,563 L1340.2,563.3 L1337,563.6 L1333.7,563.9 L1330.5,564.2 L1327.2,564.5 L1323.9,564.7 L1320.6,565 L1317.3,565.2 L1314,565.5 L1310.6,565.7 L1307.3,565.9 L1304,566.1 L1300.6,566.3 L1297.3,566.5 L1293.9,566.7 L1290.5,566.9 L1287.1,567.1 L1283.8,567.2 L1280.4,567.4 L1277,567.5 L1273.6,567.7 L1270.2,567.8 L1266.8,567.9 L1263.4,568 L1260,568.1 L1256.6,568.2 L1253.1,568.3 L1249.7,568.4 L1246.3,568.4 L1242.9,568.5 L1239.4,568.6 L1236,568.7 L1232.6,568.7 L1229.2,568.8 L1225.7,568.9 L1222.3,569 L1218.9,569.1 L1215.4,569.2 L1212,569.3 L1208.5,569.4 L1205.1,569.5 L1201.7,569.5 L1198.2,569.6 L1194.8,569.7 L1191.3,569.8 L1187.9,569.9 L1184.4,570 L1181,570.1 L1177.5,570.2 L1174.1,570.3 L1170.6,570.4 L1167.1,570.5 L1163.7,570.6 L1160.2,570.7 L1156.8,570.8 L1153.3,570.9 L1149.8,571 L1146.4,571 L1142.9,571.1 L1139.4,571.2 L1136,571.3 L1132.5,571.4 L1129,571.5 L1125.5,571.6 L1122.1,571.7 L1118.6,571.7 L1115.1,571.8 L1111.6,571.9 L1108.1,572 L1104.7,572.1 L1101.2,572.2 L1097.7,572.2 L1094.2,572.3 L1090.7,572.4 L1087.2,572.5 L1083.8,572.5 L1080.3,572.6 L1076.8,572.7 L1073.3,572.8 L1069.8,572.8 L1066.3,572.9 L1062.8,573 L1059.3,573 L1055.8,573.1 L1052.3,573.2 L1048.8,573.2 L1045.3,573.3 L1041.8,573.4 L1038.3,573.4 L1034.8,573.5 L1031.3,573.5 L1027.8,573.6 L1024.3,573.7 L1020.8,573.7 L1017.3,573.8 L1013.8,573.8 L1010.3,573.9 L1006.8,573.9 L1003.3,574 L999.8,574 L996.3,574 L992.8,574.1 L989.3,574.1 L985.8,574.2 L982.3,574.2" stroke="#008000" stroke-width="6.8"/>
<path d="M982.3,565.7 L985.7,565.7 L989.1,565.7 L992.5,565.6 L995.9,565.6 L999.3,565.6 L1002.8,565.5 L1006.2,565.5 L1009.6,565.5 L1013.1,565.4 L1016.5,565.4 L1020,565.3 L1023.5,565.3 L1026.9,565.2 L1030.4,565.1 L1033.9,565.1 L1037.4,565 L1040.8,564.9 L1044.3,564.8 L1047.8,564.8 L1051.3,564.7 L1054.8,564.6 L1058.3,564.5 L1061.8,564.4 L1065.2,564.3 L1068.7,564.2 L1072.2,564 L1075.7,563.9 L1079.2,563.8 L1082.7,563.7 L1086.2,563.5 L1089.7,563.4 L1093.1,563.2 L1096.6,563.1 L1100.1,562.9 L1103.6,562.7 L1107,562.6 L1110.5,562.4 L1113.9,562.2 L1117.4,562 L1120.8,561.8 L1124.3,561.6 L1127.7,561.4 L1131.1,561.1 L1134.5,560.9 L1138,560.7 L1141.4,560.4 L1144.8,560.2 L1148.1,559.9 L1151.5,559.7 L1154.9,559.4 L1158.2,559.1 L1161.6,558.8 L1164.9,558.5 L1168.2,558.2 L1171.6,557.9 L1174.9,557.6 L1178.2,557.3 L1181.4,556.9 L1184.7,556.6 L1187.9,556.3 L1191.2,555.9 L1194.4,555.5 L1197.6,555.2 L1200.8,554.8 L1204,554.4 L1207.2,554 L1210.3,553.6 L1213.4,553.2 L1216.6,552.8 L1219.7,552.3 L1222.7,551.9 L1225.8,551.5 L1228.9,551.1 L1231.9,550.7 L1234.9,550.2 L1237.9,549.8 L1240.9,549.4 L1243.8,548.9 L1246.7,548.4 L1249.7,547.9 L1252.5,547.4 L1255.4,546.8 L1258.3,546.2 L1261.1,545.6 L1263.9,544.9 L1266.7,544.3 L1269.4,543.5 L1272.2,542.8 L1274.9,542 L1277.6,541.1 L1280.3,540.3 L1283,539.4 L1285.6,538.4 L1288.2,537.5 L1290.8,536.5 L1293.4,535.5 L1296,534.4 L1298.5,533.4 L1301,532.3 L1303.5,531.3 L1306,530.2 L1308.5,529.1 L1310.9,528 L1313.4,526.9 L1315.8,525.7 L1318.2,524.5 L1320.5,523.4 L1322.9,522.2 L1325.2,520.9 L1327.5,519.7 L1329.8,518.4 L1332.1,517.2 L1334.3,515.9 L1336.6,514.5 L1338.8,513.2 L1341,511.9 L1343.2,510.5 L1345.3,509.1 L1347.5,507.7 L1349.6,506.3 L1351.7,504.8 L1353.8,503.3 L1355.9,501.9 L1357.9,500.4 L1360,498.9 L1362,497.3 L1364,495.8 L1366,494.2 L1367.9,492.6 L1369.9,491 L1371.8,489.4 L1373.7,487.8 L1375.6,486.1 L1377.5,484.4 L1379.4,482.7 L1381.2,481 L1383.1,479.3 L1384.9,477.6 L1386.7,475.8 L1388.5,474.1 L1390.2,472.3 L1392,470.5 L1393.7,468.7 L1395.4,466.8 L1397.1,465 L1398.8,463.1 L1400.5,461.3 L1402.2,459.4 L1403.8,457.5 L1405.5,455.6 L1407.1,453.7 L1408.8,451.7 L1410.4,449.8 L1412,447.8 L1413.6,445.9 L1415.2,443.9 L1416.7,441.9 L1418.3,440 L1419.9,438 L1421.4,436 L1423,434 L1424.5,431.9 L1426,429.9 L1427.6,427.9 L1429.1,425.9 L1430.6,423.8 L1432.1,421.8 L1433.6,419.7 L1435.1,417.7 L1436.6,415.6 L1438.1,413.6 L1439.6,411.5 L1441.1,409.4 L1442.6,407.4 L1444.1,405.3 L1445.5,403.2 L1447,401.2 L1448.5,399.1 L1450,397 L1451.5,395 L1453,392.9 L1454.4,390.8 L1455.9,388.8 L1457.4,386.7 L1458.9,384.6 L1460.4,382.6 L1461.8,380.5 L1463.3,378.4 L1464.8,376.3 L1466.3,374.3 L1467.8,372.2 L1469.3,370.1 L1470.7,368.1 L1472.2,366 L1473.7,363.9 L1475.2,361.9 L1476.7,359.8 L1478.2,357.7 L1479.7,355.7 L1481.1,353.6 L1482.6,351.5 L1484.1,349.5 L1485.6,347.4 L1487.1,345.3 L1488.6,343.3 L1490.1,341.2 L1491.6,339.2 L1493.1,337.1 L1494.6,335 L1496.1,333 L1497.6,330.9 L1499.1,328.9 L1500.5,326.8 L1502,324.8 L1503.6,322.7 L1505.1,320.7 L1506.6,318.6 L1508.1,316.6 L1509.6,314.5 L1511.1,312.5 L1512.6,310.4 L1514.1,308.4 L1515.6,306.3 L1517.1,304.3 L1518.6,302.2 L1520.1,300.2 L1521.6,298.1 L1523.1,296.1 L1524.6,294 L1526.1,292 L1527.6,289.9 L1529.1,287.9 L1530.6,285.8 L1532.1,283.7 L1533.5,281.7 L1535,279.6 L1536.5,277.5 L1538,275.4 L1539.4,273.3 L1540.9,271.2 L1542.3,269.1 L1543.8,267 L1545.2,264.9 L1546.7,262.8 L1548.1,260.7 L1549.5,258.5 L1550.9,256.4 L1552.3,254.3 L1553.7,252.1 L1555.1,249.9 L1556.5,247.8 L1557.9,245.6 L1559.2,243.4 L1560.6,241.2 L1561.9,239 L1563.3,236.8 L1564.6,234.6 L1565.9,232.3 L1567.2,230.1 L1568.5,227.8 L1569.8,225.5 L1571.1,223.3 L1572.3,221 L1573.6,218.7 L1574.8,216.3 L1576,214 L1577.2,211.7 L1578.4,209.3 L1579.6,206.9 L1580.8,204.6 L1581.9,202.2 L1583.1,199.8 L1584.2,197.3 L1585.3,194.9 L1586.4,192.4 L1587.5,190 L1588.6,187.5 L1589.6,185 L1590.6,182.4 L1591.7,179.9 L1592.7,177.4 L1593.6,174.8 L1594.6,172.2 L1594.3,175.4 L1593.9,178.6 L1593.5,181.8 L1593.2,185 L1592.8,188.2 L1592.5,191.4 L1592.1,194.6 L1591.7,197.8 L1591.4,201 L1591,204.2 L1590.6,207.4 L1590.3,210.6 L1589.9,213.8 L1589.5,216.9 L1589.1,220.1 L1588.7,223.3 L1588.3,226.4 L1587.9,229.6 L1587.5,232.8 L1587.1,235.9 L1586.7,239.1 L1586.3,242.2 L1585.9,245.4 L1585.5,248.5 L1585,251.6 L1584.6,254.8 L1584.2,257.9 L1583.7,261 L1583.3,264.1 L1582.8,267.2 L1582.4,270.4 L1581.9,273.5 L1581.5,276.6 L1581,279.6 L1580.5,282.7 L1580.1,285.8 L1579.6,288.9 L1579.1,292 L1578.6,295 L1578.1,298.1 L1577.6,301.2 L1577.1,304.2 L1576.6,307.2 L1576,310.3 L1575.5,313.3 L1575,316.3 L1574.4,319.4 L1573.9,322.4 L1573.3,325.4 L1572.8,328.4 L1572.2,331.4 L1571.6,334.4 L1571.1,337.4 L1570.5,340.3 L1569.9,343.3 L1569.3,346.2 L1568.7,349.2 L1568,352.1 L1567.4,355.1 L1566.8,358 L1566.1,360.9 L1565.4,363.8 L1564.8,366.7 L1564.1,369.5 L1563.4,372.4 L1562.7,375.3 L1562,378.1 L1561.2,380.9 L1560.5,383.7 L1559.7,386.5 L1559,389.3 L1558.2,392.1 L1557.4,394.9 L1556.6,397.6 L1555.8,400.4 L1554.9,403.1 L1554.1,405.8 L1553.2,408.5 L1552.3,411.1 L1551.4,413.8 L1550.5,416.4 L1549.5,419.1 L1548.6,421.7 L1547.6,424.3 L1546.6,426.9 L1545.6,429.4 L1544.6,431.9 L1543.6,434.5 L1542.5,437 L1541.4,439.5 L1540.3,441.9 L1539.2,444.4 L1538.1,446.8 L1536.9,449.2 L1535.8,451.6 L1534.6,453.9 L1533.3,456.3 L1532.1,458.6 L1530.8,460.9 L1529.6,463.2 L1528.3,465.4 L1526.9,467.7 L1525.6,469.9 L1524.2,472 L1522.8,474.2 L1521.4,476.3 L1519.9,478.5 L1518.5,480.6 L1517,482.6 L1515.4,484.7 L1513.9,486.7 L1512.3,488.7 L1510.7,490.6 L1509.1,492.6 L1507.5,494.5 L1505.8,496.4 L1504.1,498.2 L1502.4,500.1 L1500.6,501.9 L1498.8,503.6 L1497,505.4 L1495.2,507.1 L1493.3,508.8 L1491.4,510.5 L1489.5,512.1 L1487.6,513.8 L1485.6,515.4 L1483.6,516.9 L1481.6,518.5 L1479.5,520 L1477.5,521.4 L1475.4,522.9 L1473.2,524.3 L1471.1,525.7 L1468.9,527.1 L1466.6,528.4 L1464.4,529.7 L1462.1,531 L1459.8,532.2 L1457.4,533.4 L1455.1,534.6 L1452.7,535.8 L1450.2,536.9 L1447.8,538 L1445.3,539.1 L1442.8,540.1 L1440.2,541.1 L1437.6,542.1 L1435,543.1 L1432.4,544 L1429.8,544.9 L1427.1,545.8 L1424.4,546.7 L1421.7,547.5 L1418.9,548.3 L1416.1,549.1 L1413.3,549.9 L1410.5,550.6 L1407.7,551.3 L1404.8,552 L1401.9,552.7 L1399,553.4 L1396.1,554 L1393.2,554.6 L1390.2,555.2 L1387.2,555.8 L1384.2,556.4 L1381.2,556.9 L1378.2,557.4 L1375.1,557.9 L1372.1,558.4 L1369,558.9 L1365.9,559.4 L1362.7,559.8 L1359.6,560.2 L1356.5,560.6 L1353.3,561 L1350.1,561.4 L1346.9,561.8 L1343.7,562.2 L1340.5,562.5 L1337.3,562.8 L1334.1,563.2 L1330.8,563.5 L1327.6,563.8 L1324.3,564.1 L1321,564.4 L1317.7,564.6 L1314.5,564.9 L1311.1,565.2 L1307.8,565.4 L1304.5,565.7 L1301.2,565.9 L1297.9,566.1 L1294.5,566.4 L1291.2,566.6 L1287.8,566.8 L1284.5,567 L1281.1,567.2 L1277.8,567.4 L1274.4,567.5 L1271,567.7 L1267.6,567.8 L1264.2,568 L1260.8,568.1 L1257.4,568.2 L1254,568.3 L1250.6,568.4 L1247.2,568.4 L1243.8,568.5 L1240.4,568.6 L1237,568.7 L1233.5,568.7 L1230.1,568.8 L1226.7,568.9 L1223.2,569 L1219.8,569 L1216.3,569.1 L1212.9,569.2 L1209.4,569.3 L1205.9,569.4 L1202.5,569.5 L1199,569.6 L1195.5,569.7 L1192.1,569.8 L1188.6,569.9 L1185.1,570 L1181.6,570.1 L1178.1,570.2 L1174.7,570.3 L1171.2,570.4 L1167.7,570.5 L1164.2,570.6 L1160.7,570.7 L1157.2,570.8 L1153.7,570.9 L1150.2,570.9 L1146.7,571 L1143.2,571.1 L1139.7,571.2 L1136.2,571.3 L1132.7,571.4 L1129.2,571.5 L1125.6,571.6 L1122.1,571.7 L1118.6,571.7 L1115.1,571.8 L1111.6,571.9 L1108.1,572 L1104.6,572.1 L1101.1,572.2 L1097.5,572.2 L1094,572.3 L1090.5,572.4 L1087,572.5 L1083.5,572.6 L1080,572.6 L1076.5,572.7 L1073,572.8 L1069.5,572.8 L1065.9,572.9 L1062.4,573 L1058.9,573.1 L1055.4,573.1 L1051.9,573.2 L1048.4,573.2 L1044.9,573.3 L1041.4,573.4 L1037.9,573.4 L1034.4,573.5 L1030.9,573.5 L1027.4,573.6 L1024,573.7 L1020.5,573.7 L1017,573.8 L1013.5,573.8 L1010,573.9 L1006.5,573.9 L1003.1,574 L999.6,574 L996.1,574 L992.7,574.1 L989.2,574.1 L985.8,574.2 L982.3,574.2" stroke="#000080" stroke-width="6.8"/>
<path d="M982.3,565.7 L985.8,565.7 L989.4,565.7 L992.9,565.6 L996.5,565.6 L1000,565.6 L1003.5,565.5 L1007,565.5 L1010.6,565.4 L1014.1,565.4 L1017.6,565.3 L1021.1,565.3 L1024.6,565.2 L1028.1,565.2 L1031.6,565.1 L1035.1,565 L1038.6,565 L1042.1,564.9 L1045.6,564.8 L1049.1,564.7 L1052.5,564.6 L1056,564.5 L1059.5,564.4 L1062.9,564.3 L1066.4,564.2 L1069.8,564.1 L1073.3,564 L1076.7,563.9 L1080.2,563.7 L1083.6,563.6 L1087,563.5 L1090.4,563.3 L1093.8,563.2 L1097.2,563 L1100.6,562.9 L1104,562.7 L1107.4,562.5 L1110.8,562.4 L1114.2,562.2 L1117.5,562 L1120.9,561.8 L1124.3,561.6 L1127.6,561.4 L1130.9,561.2 L1134.3,560.9 L1137.6,560.7 L1140.9,560.5 L1144.2,560.2 L1147.5,560 L1150.8,559.7 L1154.1,559.5 L1157.4,559.2 L1160.6,558.9 L1163.9,558.6 L1167.2,558.3 L1170.4,558 L1173.6,557.7 L1176.9,557.4 L1180.1,557.1 L1183.3,556.8 L1186.5,556.4 L1189.7,556.1 L1192.9,555.7 L1196,555.3 L1199.2,555 L1202.3,554.6 L1205.5,554.2 L1208.6,553.8 L1211.7,553.4 L1214.8,553 L1217.9,552.6 L1221,552.1 L1224.1,551.7 L1227.2,551.2 L1230.2,550.8 L1233.3,550.3 L1236.3,549.8 L1239.4,549.3 L1242.4,548.8 L1245.4,548.2 L1248.4,547.7 L1251.4,547.1 L1254.3,546.5 L1257.3,545.9 L1260.2,545.3 L1263.2,544.7 L1266.1,544 L1269,543.4 L1271.9,542.7 L1274.8,542 L1277.7,541.3 L1280.5,540.6 L1283.4,539.8 L1286.2,539.1 L1289,538.3 L1291.8,537.5 L1294.6,536.8 L1297.4,536 L1300.2,535.2 L1302.9,534.4 L1305.7,533.5 L1308.4,532.7 L1311.1,531.9 L1313.8,531 L1316.5,530.2 L1319.2,529.3 L1321.8,528.4 L1324.5,527.5 L1327.1,526.6 L1329.7,525.6 L1332.3,524.7 L1334.9,523.7 L1337.5,522.7 L1340,521.7 L1342.6,520.7 L1345.1,519.7 L1347.6,518.7 L1350.1,517.6 L1352.6,516.5 L1355.1,515.4 L1357.5,514.3 L1359.9,513.2 L1362.3,512.1 L1364.7,510.9 L1367.1,509.8 L1369.5,508.6 L1371.8,507.4 L1374.2,506.1 L1376.5,504.9 L1378.8,503.7 L1381.1,502.4 L1383.4,501.1 L1385.6,499.8 L1387.9,498.5 L1390.1,497.2 L1392.3,495.8 L1394.5,494.5 L1396.7,493.1 L1398.9,491.7 L1401,490.4 L1403.2,488.9 L1405.3,487.5 L1407.4,486.1 L1409.5,484.6 L1411.6,483.2 L1413.7,481.7 L1415.7,480.2 L1417.8,478.7 L1419.8,477.2 L1421.9,475.7 L1423.9,474.2 L1425.9,472.6 L1427.9,471.1 L1429.9,469.5 L1431.9,467.9 L1433.8,466.4 L1435.8,464.8 L1437.7,463.2 L1439.7,461.5 L1441.6,459.9 L1443.5,458.3 L1445.4,456.6 L1447.3,455 L1449.2,453.3 L1451.1,451.7 L1453,450 L1454.9,448.3 L1456.7,446.6 L1458.6,444.9 L1460.4,443.2 L1462.2,441.5 L1464.1,439.8 L1465.9,438 L1467.7,436.3 L1469.5,434.5 L1471.3,432.8 L1473.1,431 L1474.9,429.3 L1476.7,427.5 L1478.5,425.7 L1480.2,423.9 L1482,422.1 L1483.7,420.3 L1485.5,418.5 L1487.2,416.7 L1488.9,414.9 L1490.6,413 L1492.3,411.2 L1494,409.3 L1495.7,407.5 L1497.4,405.6 L1499.1,403.7 L1500.8,401.9 L1502.4,400 L1504.1,398.1 L1505.7,396.2 L1507.4,394.2 L1509,392.3 L1510.6,390.4 L1512.2,388.5 L1513.8,386.5 L1515.4,384.5 L1517,382.6 L1518.6,380.6 L1520.2,378.6 L1521.7,376.6 L1523.3,374.6 L1524.8,372.6 L1526.3,370.6 L1527.9,368.6 L1529.4,366.5 L1530.9,364.5 L1532.4,362.4 L1533.9,360.4 L1535.3,358.3 L1536.8,356.2 L1538.3,354.1 L1539.7,352 L1541.2,349.9 L1542.6,347.8 L1544,345.7 L1545.4,343.5 L1546.8,341.4 L1548.2,339.2 L1549.6,337 L1551,334.8 L1552.3,332.7 L1553.7,330.5 L1555,328.2 L1556.4,326 L1557.7,323.8 L1559,321.5 L1560.3,319.3 L1561.6,317 L1562.8,314.7 L1564.1,312.5 L1565.4,310.2 L1566.6,307.8 L1567.8,305.5 L1569,303.2 L1570.3,300.8 L1571.4,298.5 L1572.6,296.1 L1573.8,293.7 L1575,291.3 L1576.1,288.9 L1577.2,286.5 L1578.4,284.1 L1579.5,281.7 L1580.6,279.2 L1581.7,276.7 L1582.7,274.3 L1583.8,271.8 L1584.8,269.3 L1585.9,266.7 L1586.9,264.2 L1587.9,261.7 L1588.9,259.1 L1589.9,256.5 L1590.9,254 L1591.8,251.4 L1592.8,248.8 L1593.7,246.1 L1594.6,243.5 L1594.2,246.6 L1593.7,249.7 L1593.3,252.9 L1592.8,256 L1592.4,259.1 L1592,262.2 L1591.5,265.3 L1591.1,268.4 L1590.6,271.5 L1590.1,274.7 L1589.7,277.8 L1589.2,280.9 L1588.8,284 L1588.3,287 L1587.8,290.1 L1587.3,293.2 L1586.9,296.3 L1586.4,299.4 L1585.9,302.5 L1585.4,305.5 L1584.9,308.6 L1584.4,311.6 L1583.9,314.7 L1583.4,317.8 L1582.9,320.8 L1582.3,323.8 L1581.8,326.9 L1581.3,329.9 L1580.7,332.9 L1580.2,335.9 L1579.7,339 L1579.1,342 L1578.5,345 L1578,348 L1577.4,351 L1576.8,353.9 L1576.2,356.9 L1575.6,359.9 L1575,362.8 L1574.4,365.8 L1573.8,368.7 L1573.2,371.7 L1572.6,374.6 L1571.9,377.5 L1571.3,380.4 L1570.6,383.3 L1569.9,386.2 L1569.2,389.1 L1568.5,391.9 L1567.8,394.8 L1567.1,397.6 L1566.4,400.5 L1565.6,403.3 L1564.9,406.1 L1564.1,408.9 L1563.3,411.6 L1562.5,414.4 L1561.7,417.1 L1560.8,419.8 L1560,422.6 L1559.1,425.2 L1558.2,427.9 L1557.3,430.6 L1556.4,433.2 L1555.4,435.8 L1554.5,438.4 L1553.5,441 L1552.5,443.6 L1551.5,446.1 L1550.4,448.6 L1549.3,451.1 L1548.3,453.6 L1547.1,456 L1546,458.5 L1544.9,460.9 L1543.7,463.2 L1542.5,465.6 L1541.2,467.9 L1540,470.2 L1538.7,472.5 L1537.4,474.8 L1536.1,477 L1534.7,479.2 L1533.3,481.4 L1531.9,483.5 L1530.5,485.6 L1529,487.7 L1527.5,489.8 L1525.9,491.8 L1524.4,493.8 L1522.8,495.8 L1521.2,497.7 L1519.5,499.6 L1517.8,501.5 L1516.1,503.3 L1514.4,505.2 L1512.6,506.9 L1510.8,508.7 L1508.9,510.4 L1507,512.1 L1505.1,513.7 L1503.1,515.3 L1501.1,516.9 L1499.1,518.4 L1497.1,519.9 L1495,521.4 L1492.9,522.8 L1490.7,524.3 L1488.5,525.6 L1486.3,527 L1484.1,528.3 L1481.8,529.6 L1479.5,530.9 L1477.2,532.1 L1474.8,533.3 L1472.5,534.5 L1470,535.6 L1467.6,536.7 L1465.1,537.8 L1462.6,538.9 L1460.1,539.9 L1457.6,541 L1455,541.9 L1452.4,542.9 L1449.8,543.9 L1447.1,544.8 L1444.5,545.7 L1441.8,546.5 L1439,547.4 L1436.3,548.2 L1433.5,549 L1430.7,549.7 L1427.9,550.5 L1425.1,551.2 L1422.2,551.9 L1419.4,552.6 L1416.5,553.3 L1413.6,553.9 L1410.6,554.6 L1407.7,555.2 L1404.7,555.8 L1401.7,556.3 L1398.7,556.9 L1395.7,557.4 L1392.6,557.9 L1389.6,558.4 L1386.5,558.9 L1383.4,559.4 L1380.3,559.8 L1377.2,560.3 L1374,560.7 L1370.9,561.1 L1367.7,561.5 L1364.5,561.9 L1361.3,562.2 L1358.1,562.6 L1354.9,562.9 L1351.6,563.2 L1348.4,563.6 L1345.1,563.9 L1341.9,564.1 L1338.6,564.4 L1335.3,564.7 L1332,564.9 L1328.7,565.2 L1325.3,565.4 L1322,565.6 L1318.6,565.9 L1315.3,566.1 L1311.9,566.3 L1308.6,566.5 L1305.2,566.7 L1301.8,566.8 L1298.4,567 L1295,567.2 L1291.6,567.3 L1288.2,567.4 L1284.8,567.6 L1281.4,567.7 L1278,567.8 L1274.5,567.9 L1271.1,568 L1267.7,568.1 L1264.2,568.2 L1260.8,568.2 L1257.4,568.3 L1253.9,568.4 L1250.5,568.4 L1247,568.5 L1243.6,568.5 L1240.2,568.6 L1236.7,568.7 L1233.3,568.7 L1229.8,568.8 L1226.4,568.9 L1222.9,569 L1219.5,569.1 L1216,569.1 L1212.5,569.2 L1209.1,569.3 L1205.6,569.4 L1202.2,569.5 L1198.7,569.6 L1195.3,569.7 L1191.8,569.8 L1188.3,569.9 L1184.9,570 L1181.4,570.1 L1177.9,570.2 L1174.5,570.3 L1171,570.4 L1167.5,570.5 L1164.1,570.6 L1160.6,570.7 L1157.1,570.8 L1153.7,570.9 L1150.2,570.9 L1146.7,571 L1143.2,571.1 L1139.8,571.2 L1136.3,571.3 L1132.8,571.4 L1129.3,571.5 L1125.8,571.6 L1122.4,571.7 L1118.9,571.7 L1115.4,571.8 L1111.9,571.9 L1108.4,572 L1104.9,572.1 L1101.5,572.2 L1098,572.2 L1094.5,572.3 L1091,572.4 L1087.5,572.5 L1084,572.5 L1080.5,572.6 L1077,572.7 L1073.5,572.8 L1070,572.8 L1066.5,572.9 L1063,573 L1059.5,573 L1056,573.1 L1052.5,573.2 L1049,573.2 L1045.5,573.3 L1042,573.4 L1038.5,573.4 L1035,573.5 L1031.5,573.5 L1028,573.6 L1024.5,573.7 L1021,573.7 L1017.5,573.8 L1013.9,573.8 L1010.4,573.9 L1006.9,573.9 L1003.4,574 L999.9,574 L996.4,574 L992.9,574.1 L989.3,574.1 L985.8,574.2 L982.3,574.2" stroke="#8000ff" stroke-width="6.8"/>
<path d="M982.3,565.4 L985.8,565.4 L989.4,565.4 L992.9,565.3 L996.4,565.3 L999.9,565.3 L1003.4,565.2 L1007,565.2 L1010.5,565.1 L1014,565.1 L1017.5,565 L1021,565 L1024.5,564.9 L1028,564.9 L1031.4,564.8 L1034.9,564.7 L1038.4,564.7 L1041.9,564.6 L1045.4,564.5 L1048.8,564.4 L1052.3,564.3 L1055.8,564.2 L1059.2,564.2 L1062.7,564 L1066.1,563.9 L1069.5,563.8 L1073,563.7 L1076.4,563.6 L1079.8,563.5 L1083.3,563.3 L1086.7,563.2 L1090.1,563 L1093.5,562.9 L1096.9,562.7 L1100.3,562.6 L1103.7,562.4 L1107,562.2 L1110.4,562.1 L1113.8,561.9 L1117.1,561.7 L1120.5,561.5 L1123.9,561.3 L1127.2,561.1 L1130.5,560.9 L1133.9,560.7 L1137.2,560.4 L1140.5,560.2 L1143.8,560 L1147.1,559.7 L1150.4,559.4 L1153.7,559.2 L1157,558.9 L1160.3,558.6 L1163.5,558.4 L1166.8,558.1 L1170,557.8 L1173.3,557.5 L1176.5,557.1 L1179.8,556.8 L1183,556.5 L1186.2,556.1 L1189.4,555.8 L1192.6,555.4 L1195.8,555.1 L1199,554.7 L1202.1,554.3 L1205.3,553.9 L1208.5,553.5 L1211.6,553.1 L1214.7,552.7 L1217.9,552.3 L1221,551.8 L1224.1,551.4 L1227.2,551 L1230.3,550.5 L1233.4,550 L1236.4,549.5 L1239.5,549 L1242.5,548.5 L1245.6,548 L1248.6,547.5 L1251.6,547 L1254.6,546.4 L1257.6,545.9 L1260.6,545.3 L1263.6,544.8 L1266.6,544.2 L1269.6,543.6 L1272.5,543 L1275.4,542.4 L1278.4,541.7 L1281.3,541.1 L1284.2,540.5 L1287.1,539.8 L1290,539.1 L1292.8,538.4 L1295.7,537.8 L1298.5,537.1 L1301.4,536.3 L1304.2,535.6 L1307,534.9 L1309.8,534.1 L1312.6,533.4 L1315.4,532.6 L1318.2,531.8 L1320.9,531 L1323.6,530.2 L1326.4,529.4 L1329.1,528.5 L1331.8,527.7 L1334.5,526.8 L1337.2,525.9 L1339.8,525 L1342.5,524.1 L1345.1,523.2 L1347.7,522.3 L1350.4,521.4 L1353,520.4 L1355.5,519.4 L1358.1,518.5 L1360.7,517.5 L1363.2,516.5 L1365.7,515.4 L1368.3,514.4 L1370.8,513.4 L1373.3,512.3 L1375.7,511.2 L1378.2,510.1 L1380.6,509 L1383.1,507.9 L1385.5,506.8 L1387.9,505.6 L1390.3,504.4 L1392.6,503.3 L1395,502.1 L1397.3,500.9 L1399.7,499.6 L1402,498.4 L1404.3,497.2 L1406.6,495.9 L1408.9,494.6 L1411.1,493.3 L1413.4,492 L1415.6,490.7 L1417.8,489.4 L1420,488 L1422.2,486.7 L1424.4,485.3 L1426.6,483.9 L1428.8,482.5 L1430.9,481.1 L1433,479.7 L1435.1,478.3 L1437.2,476.8 L1439.3,475.3 L1441.4,473.9 L1443.5,472.4 L1445.5,470.9 L1447.6,469.4 L1449.6,467.8 L1451.6,466.3 L1453.6,464.8 L1455.6,463.2 L1457.6,461.6 L1459.5,460 L1461.5,458.4 L1463.4,456.8 L1465.4,455.2 L1467.3,453.6 L1469.2,451.9 L1471.1,450.3 L1473,448.6 L1474.8,446.9 L1476.7,445.2 L1478.5,443.5 L1480.4,441.8 L1482.2,440 L1484,438.3 L1485.8,436.5 L1487.6,434.8 L1489.4,433 L1491.1,431.2 L1492.9,429.4 L1494.6,427.6 L1496.3,425.8 L1498.1,423.9 L1499.8,422.1 L1501.5,420.2 L1503.2,418.4 L1504.8,416.5 L1506.5,414.6 L1508.1,412.7 L1509.8,410.8 L1511.4,408.9 L1513,407 L1514.7,405 L1516.3,403.1 L1517.9,401.1 L1519.4,399.1 L1521,397.2 L1522.6,395.2 L1524.1,393.2 L1525.7,391.1 L1527.2,389.1 L1528.7,387.1 L1530.2,385 L1531.7,383 L1533.2,380.9 L1534.7,378.9 L1536.2,376.8 L1537.6,374.7 L1539.1,372.6 L1540.5,370.5 L1541.9,368.4 L1543.4,366.2 L1544.8,364.1 L1546.2,361.9 L1547.6,359.8 L1549,357.6 L1550.3,355.4 L1551.7,353.3 L1553.1,351.1 L1554.4,348.8 L1555.7,346.6 L1557.1,344.4 L1558.4,342.2 L1559.7,339.9 L1561,337.7 L1562.2,335.4 L1563.5,333.1 L1564.8,330.8 L1566,328.5 L1567.2,326.2 L1568.4,323.8 L1569.6,321.5 L1570.8,319.1 L1572,316.7 L1573.2,314.3 L1574.3,311.9 L1575.4,309.5 L1576.5,307 L1577.6,304.6 L1578.7,302.1 L1579.7,299.6 L1580.8,297.1 L1581.8,294.6 L1582.8,292 L1583.8,289.4 L1584.8,286.9 L1585.7,284.3 L1586.7,281.6 L1587.6,279 L1588.5,276.3 L1589.3,273.7 L1590.2,271 L1591.1,268.3 L1591.9,265.6 L1592.8,262.9 L1593.7,260.2 L1594.6,257.6 L1594.1,260.6 L1593.6,263.7 L1593.1,266.8 L1592.6,269.8 L1592.2,272.9 L1591.7,276 L1591.2,279.1 L1590.8,282.2 L1590.3,285.2 L1589.9,288.3 L1589.4,291.4 L1589,294.5 L1588.5,297.6 L1588.1,300.7 L1587.6,303.9 L1587.2,307 L1586.7,310.1 L1586.3,313.2 L1585.8,316.3 L1585.4,319.4 L1584.9,322.5 L1584.5,325.6 L1584,328.7 L1583.6,331.8 L1583.1,334.8 L1582.6,337.9 L1582.2,341 L1581.7,344.1 L1581.2,347.1 L1580.7,350.2 L1580.2,353.3 L1579.7,356.3 L1579.2,359.4 L1578.7,362.4 L1578.2,365.4 L1577.7,368.4 L1577.1,371.4 L1576.6,374.4 L1576,377.4 L1575.4,380.4 L1574.8,383.4 L1574.3,386.3 L1573.6,389.3 L1573,392.2 L1572.4,395.1 L1571.7,398 L1571.1,400.9 L1570.4,403.8 L1569.7,406.6 L1569,409.5 L1568.3,412.3 L1567.6,415.1 L1566.8,417.9 L1566,420.7 L1565.2,423.4 L1564.4,426.2 L1563.6,428.9 L1562.8,431.6 L1561.9,434.3 L1561,437 L1560.1,439.6 L1559.2,442.2 L1558.2,444.8 L1557.3,447.4 L1556.3,450 L1555.2,452.5 L1554.2,455 L1553.1,457.5 L1552.1,460 L1550.9,462.4 L1549.8,464.8 L1548.6,467.2 L1547.5,469.6 L1546.2,471.9 L1545,474.2 L1543.7,476.5 L1542.4,478.7 L1541.1,481 L1539.8,483.1 L1538.4,485.3 L1537,487.4 L1535.5,489.5 L1534,491.6 L1532.5,493.7 L1531,495.7 L1529.4,497.7 L1527.8,499.6 L1526.2,501.5 L1524.5,503.4 L1522.8,505.2 L1521.1,507 L1519.3,508.8 L1517.5,510.6 L1515.6,512.3 L1513.8,513.9 L1511.8,515.6 L1509.9,517.2 L1507.9,518.7 L1505.9,520.3 L1503.8,521.8 L1501.8,523.2 L1499.6,524.7 L1497.5,526.1 L1495.3,527.4 L1493.1,528.8 L1490.9,530.1 L1488.6,531.4 L1486.3,532.6 L1484,533.8 L1481.6,535 L1479.2,536.2 L1476.8,537.3 L1474.4,538.4 L1471.9,539.5 L1469.4,540.6 L1466.9,541.6 L1464.3,542.6 L1461.7,543.5 L1459.1,544.5 L1456.5,545.4 L1453.8,546.3 L1451.2,547.2 L1448.5,548 L1445.7,548.8 L1443,549.6 L1440.2,550.4 L1437.4,551.2 L1434.6,551.9 L1431.7,552.6 L1428.9,553.3 L1426,553.9 L1423.1,554.6 L1420.2,555.2 L1417.2,555.8 L1414.2,556.4 L1411.3,557 L1408.3,557.5 L1405.2,558 L1402.2,558.5 L1399.1,559 L1396.1,559.5 L1393,560 L1389.9,560.4 L1386.7,560.8 L1383.6,561.2 L1380.4,561.6 L1377.3,562 L1374.1,562.4 L1370.9,562.7 L1367.7,563.1 L1364.5,563.4 L1361.2,563.7 L1358,564 L1354.7,564.3 L1351.4,564.6 L1348.1,564.8 L1344.8,565.1 L1341.5,565.3 L1338.2,565.5 L1334.9,565.8 L1331.5,566 L1328.2,566.2 L1324.8,566.4 L1321.5,566.5 L1318.1,566.7 L1314.7,566.9 L1311.3,567.1 L1307.9,567.2 L1304.5,567.4 L1301.1,567.5 L1297.7,567.6 L1294.3,567.8 L1290.9,567.9 L1287.5,568 L1284,568.1 L1280.6,568.3 L1277.2,568.4 L1273.7,568.5 L1270.3,568.6 L1266.8,568.7 L1263.4,568.8 L1259.9,568.9 L1256.5,569 L1253,569.1 L1249.6,569.2 L1246.1,569.3 L1242.7,569.4 L1239.2,569.5 L1235.8,569.6 L1232.3,569.7 L1228.9,569.8 L1225.4,569.9 L1222,570 L1218.5,570.1 L1215.1,570.2 L1211.6,570.3 L1208.2,570.4 L1204.7,570.5 L1201.3,570.6 L1197.8,570.7 L1194.4,570.8 L1190.9,570.8 L1187.5,570.9 L1184,571 L1180.5,571.1 L1177.1,571.2 L1173.6,571.3 L1170.2,571.4 L1166.7,571.5 L1163.3,571.6 L1159.8,571.7 L1156.3,571.8 L1152.9,571.9 L1149.4,572 L1146,572.1 L1142.5,572.1 L1139.1,572.2 L1135.6,572.3 L1132.1,572.4 L1128.7,572.5 L1125.2,572.6 L1121.7,572.7 L1118.3,572.8 L1114.8,572.8 L1111.3,572.9 L1107.9,573 L1104.4,573.1 L1100.9,573.2 L1097.5,573.2 L1094,573.3 L1090.5,573.4 L1087.1,573.5 L1083.6,573.5 L1080.1,573.6 L1076.6,573.7 L1073.1,573.8 L1069.7,573.8 L1066.2,573.9 L1062.7,574 L1059.2,574 L1055.7,574.1 L1052.3,574.2 L1048.8,574.2 L1045.3,574.3 L1041.8,574.4 L1038.3,574.4 L1034.8,574.5 L1031.3,574.5 L1027.8,574.6 L1024.3,574.7 L1020.9,574.7 L1017.4,574.8 L1013.9,574.8 L1010.4,574.9 L1006.9,574.9 L1003.4,575 L999.8,575 L996.3,575 L992.8,575.1 L989.3,575.1 L985.8,575.2 L982.3,575.2" stroke="#800080" stroke-width="6.8"/>
</g>
<line x1="982.3" y1="2.5" x2="1705.7" y2="2.5" stroke="#111" stroke-width="1.3"/>
<line x1="1705.7" y1="1.9" x2="1705.7" y2="595.8" stroke="#111" stroke-width="1.3"/>
<line x1="982.3" y1="2.5" x2="982.3" y2="597.3" stroke="#000" stroke-width="3.0"/>
<line x1="980.8" y1="595.8" x2="1706.4" y2="595.8" stroke="#000" stroke-width="3.0"/>
<line x1="982.3" y1="595.8" x2="982.3" y2="602.3" stroke="#000" stroke-width="2.8"/>
<line x1="1037.9" y1="595.8" x2="1037.9" y2="608.3" stroke="#000" stroke-width="2.8"/>
<line x1="1093.6" y1="595.8" x2="1093.6" y2="602.3" stroke="#000" stroke-width="2.8"/>
<line x1="1149.2" y1="595.8" x2="1149.2" y2="608.3" stroke="#000" stroke-width="2.8"/>
<line x1="1204.9" y1="595.8" x2="1204.9" y2="602.3" stroke="#000" stroke-width="2.8"/>
<line x1="1260.5" y1="595.8" x2="1260.5" y2="608.3" stroke="#000" stroke-width="2.8"/>
<line x1="1316.1" y1="595.8" x2="1316.1" y2="602.3" stroke="#000" stroke-width="2.8"/>
<line x1="1371.8" y1="595.8" x2="1371.8" y2="608.3" stroke="#000" stroke-width="2.8"/>
<line x1="1427.4" y1="595.8" x2="1427.4" y2="602.3" stroke="#000" stroke-width="2.8"/>
<line x1="1483.1" y1="595.8" x2="1483.1" y2="608.3" stroke="#000" stroke-width="2.8"/>
<line x1="1538.7" y1="595.8" x2="1538.7" y2="602.3" stroke="#000" stroke-width="2.8"/>
<line x1="1594.3" y1="595.8" x2="1594.3" y2="608.3" stroke="#000" stroke-width="2.8"/>
<line x1="1650" y1="595.8" x2="1650" y2="602.3" stroke="#000" stroke-width="2.8"/>
<line x1="1705.6" y1="595.8" x2="1705.6" y2="608.3" stroke="#000" stroke-width="2.8"/>
<line x1="969.8" y1="569.7" x2="982.3" y2="569.7" stroke="#000" stroke-width="2.8"/>
<line x1="975.8" y1="518" x2="982.3" y2="518" stroke="#000" stroke-width="2.8"/>
<line x1="969.8" y1="466.3" x2="982.3" y2="466.3" stroke="#000" stroke-width="2.8"/>
<line x1="975.8" y1="414.6" x2="982.3" y2="414.6" stroke="#000" stroke-width="2.8"/>
<line x1="969.8" y1="362.9" x2="982.3" y2="362.9" stroke="#000" stroke-width="2.8"/>
<line x1="975.8" y1="311.2" x2="982.3" y2="311.2" stroke="#000" stroke-width="2.8"/>
<line x1="969.8" y1="259.5" x2="982.3" y2="259.5" stroke="#000" stroke-width="2.8"/>
<line x1="975.8" y1="207.8" x2="982.3" y2="207.8" stroke="#000" stroke-width="2.8"/>
<line x1="969.8" y1="156.1" x2="982.3" y2="156.1" stroke="#000" stroke-width="2.8"/>
<line x1="975.8" y1="104.4" x2="982.3" y2="104.4" stroke="#000" stroke-width="2.8"/>
<line x1="969.8" y1="52.7" x2="982.3" y2="52.7" stroke="#000" stroke-width="2.8"/>
<line x1="975.8" y1="1" x2="982.3" y2="1" stroke="#000" stroke-width="2.8"/>
<text transform="translate(1037.9,640.4) scale(0.935,1)" font-family="'Liberation Serif', 'Times New Roman', serif" font-weight="bold" font-size="34" text-anchor="middle" stroke="#000" stroke-width="0.45" stroke-linejoin="round">0.6</text>
<text transform="translate(1149.2,640.4) scale(0.935,1)" font-family="'Liberation Serif', 'Times New Roman', serif" font-weight="bold" font-size="34" text-anchor="middle" stroke="#000" stroke-width="0.45" stroke-linejoin="round">0.8</text>
<text transform="translate(1260.5,640.4) scale(0.935,1)" font-family="'Liberation Serif', 'Times New Roman', serif" font-weight="bold" font-size="34" text-anchor="middle" stroke="#000" stroke-width="0.45" stroke-linejoin="round">1.0</text>
<text transform="translate(1371.8,640.4) scale(0.935,1)" font-family="'Liberation Serif', 'Times New Roman', serif" font-weight="bold" font-size="34" text-anchor="middle" stroke="#000" stroke-width="0.45" stroke-linejoin="round">1.2</text>
<text transform="translate(1483.1,640.4) scale(0.935,1)" font-family="'Liberation Serif', 'Times New Roman', serif" font-weight="bold" font-size="34" text-anchor="middle" stroke="#000" stroke-width="0.45" stroke-linejoin="round">1.4</text>
<text transform="translate(1594.3,640.4) scale(0.935,1)" font-family="'Liberation Serif', 'Times New Roman', serif" font-weight="bold" font-size="34" text-anchor="middle" stroke="#000" stroke-width="0.45" stroke-linejoin="round">1.6</text>
<text transform="translate(1705.6,640.4) scale(0.935,1)" font-family="'Liberation Serif', 'Times New Roman', serif" font-weight="bold" font-size="34" text-anchor="middle" stroke="#000" stroke-width="0.45" stroke-linejoin="round">1.8</text>
<text transform="translate(962.6,580.1) scale(0.935,1)" font-family="'Liberation Serif', 'Times New Roman', serif" font-weight="bold" font-size="34" text-anchor="end" stroke="#000" stroke-width="0.45" stroke-linejoin="round">0</text>
<text transform="translate(962.6,476.7) scale(0.935,1)" font-family="'Liberation Serif', 'Times New Roman', serif" font-weight="bold" font-size="34" text-anchor="end" stroke="#000" stroke-width="0.45" stroke-linejoin="round">200</text>
<text transform="translate(962.6,373.3) scale(0.935,1)" font-family="'Liberation Serif', 'Times New Roman', serif" font-weight="bold" font-size="34" text-anchor="end" stroke="#000" stroke-width="0.45" stroke-linejoin="round">400</text>
<text transform="translate(962.6,269.9) scale(0.935,1)" font-family="'Liberation Serif', 'Times New Roman', serif" font-weight="bold" font-size="34" text-anchor="end" stroke="#000" stroke-width="0.45" stroke-linejoin="round">600</text>
<text transform="translate(962.6,166.5) scale(0.935,1)" font-family="'Liberation Serif', 'Times New Roman', serif" font-weight="bold" font-size="34" text-anchor="end" stroke="#000" stroke-width="0.45" stroke-linejoin="round">800</text>
<text transform="translate(962.6,63.1) scale(0.935,1)" font-family="'Liberation Serif', 'Times New Roman', serif" font-weight="bold" font-size="34" text-anchor="end" stroke="#000" stroke-width="0.45" stroke-linejoin="round">1000</text>
<text x="1076.4" y="690" font-family="'Liberation Serif', 'Times New Roman', serif" font-weight="bold" font-size="38" textLength="583" lengthAdjust="spacingAndGlyphs" stroke="#000" stroke-width="0.45" stroke-linejoin="round">Potential (V) <tspan font-style="italic">vs</tspan>. Ag/AgCl (3 M KCl)</text>
<text transform="translate(899.5,355) rotate(-90) scale(0.954,1)" font-family="'Liberation Serif', 'Times New Roman', serif" font-weight="bold" font-size="47.5" stroke="#000" stroke-width="0.45" stroke-linejoin="round">I (<tspan font-weight="normal" stroke-width="0.25">µ</tspan>A)</text>
<text x="997.3" y="42" font-family="'Liberation Sans', Arial, sans-serif" font-weight="bold" font-size="37" stroke="#000" stroke-width="0.45" stroke-linejoin="round">(b)</text>
<text x="1532" y="37.6" font-family="'Liberation Serif', 'Times New Roman', serif" font-weight="bold" font-size="38.5" stroke="#000" stroke-width="0.45" stroke-linejoin="round">LNMP</text>
<text x="1072.7" y="487.4" font-family="'Liberation Serif', 'Times New Roman', serif" font-weight="bold" font-size="27" stroke="#000" stroke-width="0.45" stroke-linejoin="round">Scan direction</text>
<line x1="1000.3" y1="91" x2="1067.8" y2="91" stroke="#000000" stroke-width="6.6" stroke-linecap="round"/>
<text transform="translate(1076.2,101.2) scale(0.915,1)" font-family="'Liberation Serif', 'Times New Roman', serif" font-weight="bold" font-size="33.0" stroke="#000" stroke-width="0.45" stroke-linejoin="round">0.5 M KOH+3.2 <tspan font-weight="normal" stroke-width="0.25">µ</tspan>M Glu</text>
<line x1="1000.3" y1="130.1" x2="1067.8" y2="130.1" stroke="#ff0000" stroke-width="6.6" stroke-linecap="round"/>
<text transform="translate(1076.2,140.3) scale(0.915,1)" font-family="'Liberation Serif', 'Times New Roman', serif" font-weight="bold" font-size="33.0" stroke="#000" stroke-width="0.45" stroke-linejoin="round">0.5 M KOH+2.8 <tspan font-weight="normal" stroke-width="0.25">µ</tspan>M Glu</text>
<line x1="1000.3" y1="169.2" x2="1067.8" y2="169.2" stroke="#0000ff" stroke-width="6.6" stroke-linecap="round"/>
<text transform="translate(1076.2,179.4) scale(0.915,1)" font-family="'Liberation Serif', 'Times New Roman', serif" font-weight="bold" font-size="33.0" stroke="#000" stroke-width="0.45" stroke-linejoin="round">0.5 M KOH+2.3 <tspan font-weight="normal" stroke-width="0.25">µ</tspan>M Glu</text>
<line x1="1000.3" y1="208.3" x2="1067.8" y2="208.3" stroke="#ff00ff" stroke-width="6.6" stroke-linecap="round"/>
<text transform="translate(1076.2,218.5) scale(0.915,1)" font-family="'Liberation Serif', 'Times New Roman', serif" font-weight="bold" font-size="33.0" stroke="#000" stroke-width="0.45" stroke-linejoin="round">0.5 M KOH+1.9 <tspan font-weight="normal" stroke-width="0.25">µ</tspan>M Glu</text>
<line x1="1000.3" y1="247.4" x2="1067.8" y2="247.4" stroke="#008000" stroke-width="6.6" stroke-linecap="round"/>
<text transform="translate(1076.2,257.6) scale(0.915,1)" font-family="'Liberation Serif', 'Times New Roman', serif" font-weight="bold" font-size="33.0" stroke="#000" stroke-width="0.45" stroke-linejoin="round">0.5 M KOH+1.4 <tspan font-weight="normal" stroke-width="0.25">µ</tspan>M Glu</text>
<line x1="1000.3" y1="286.5" x2="1067.8" y2="286.5" stroke="#000080" stroke-width="6.6" stroke-linecap="round"/>
<text transform="translate(1076.2,296.7) scale(0.915,1)" font-family="'Liberation Serif', 'Times New Roman', serif" font-weight="bold" font-size="33.0" stroke="#000" stroke-width="0.45" stroke-linejoin="round">0.5 M KOH+0.9 <tspan font-weight="normal" stroke-width="0.25">µ</tspan>M Glu</text>
<line x1="1000.3" y1="325.6" x2="1067.8" y2="325.6" stroke="#8000ff" stroke-width="6.6" stroke-linecap="round"/>
<text transform="translate(1076.2,335.8) scale(0.915,1)" font-family="'Liberation Serif', 'Times New Roman', serif" font-weight="bold" font-size="33.0" stroke="#000" stroke-width="0.45" stroke-linejoin="round">0.5 M KOH+0.4 <tspan font-weight="normal" stroke-width="0.25">µ</tspan>M Glu</text>
<line x1="1000.3" y1="364.7" x2="1067.8" y2="364.7" stroke="#800080" stroke-width="6.6" stroke-linecap="round"/>
<text transform="translate(1076.2,374.9) scale(0.915,1)" font-family="'Liberation Serif', 'Times New Roman', serif" font-weight="bold" font-size="33.0" stroke="#000" stroke-width="0.45" stroke-linejoin="round">0.5 M KOH</text>
<g transform="translate(1058.3,505.5) rotate(0.00)"><line x1="2.3" y1="0" x2="172.7" y2="0" stroke="#000" stroke-width="4.6" stroke-linecap="round"/><path d="M194.4,0 L172,-5.7 L172,5.7 Z" fill="#000" stroke="#000" stroke-width="2.6" stroke-linejoin="round"/></g>
</g>
<g id="panel-c">
<clipPath id="clip-c"><rect x="610" y="806" width="748.2" height="585.5"/></clipPath>
<g fill="none" stroke-linejoin="round" stroke-linecap="round" clip-path="url(#clip-c)">
<path d="M610,1336.4 L613.3,1336.3 L616.7,1336.1 L620,1336 L623.4,1335.8 L626.7,1335.7 L630.1,1335.6 L633.5,1335.4 L636.9,1335.3 L640.3,1335.2 L643.7,1335.1 L647.1,1334.9 L650.6,1334.8 L654,1334.7 L657.5,1334.6 L660.9,1334.5 L664.4,1334.4 L667.8,1334.3 L671.3,1334.2 L674.7,1334.1 L678.2,1333.9 L681.7,1333.8 L685.2,1333.7 L688.6,1333.6 L692.1,1333.5 L695.6,1333.4 L699.1,1333.3 L702.6,1333.2 L706.1,1333.1 L709.5,1333 L713,1332.9 L716.5,1332.8 L720,1332.7 L723.4,1332.6 L726.9,1332.5 L730.4,1332.4 L733.9,1332.3 L737.3,1332.2 L740.8,1332.1 L744.2,1332 L747.7,1331.9 L751.1,1331.7 L754.5,1331.6 L758,1331.5 L761.4,1331.4 L764.8,1331.3 L768.2,1331.1 L771.6,1331 L775,1330.9 L778.3,1330.7 L781.7,1330.6 L785.1,1330.4 L788.4,1330.3 L791.7,1330.1 L795.1,1330 L798.4,1329.8 L801.7,1329.6 L804.9,1329.4 L808.2,1329.1 L811.4,1328.8 L814.7,1328.6 L817.9,1328.2 L821.1,1327.9 L824.3,1327.5 L827.5,1327.1 L830.6,1326.7 L833.8,1326.2 L836.9,1325.7 L840,1325.2 L843.1,1324.6 L846.1,1324 L849.2,1323.3 L852.2,1322.7 L855.2,1322 L858.2,1321.3 L861.1,1320.5 L864.1,1319.8 L867,1319 L869.9,1318.2 L872.7,1317.4 L875.6,1316.6 L878.4,1315.8 L881.2,1315.1 L884,1314.3 L886.7,1313.5 L889.4,1312.7 L892.1,1311.8 L894.8,1310.9 L897.4,1310 L900,1309 L902.6,1308.1 L905.2,1307.1 L907.7,1306.1 L910.2,1305 L912.6,1303.9 L915.1,1302.8 L917.5,1301.7 L919.9,1300.5 L922.2,1299.3 L924.6,1298.1 L926.9,1296.9 L929.2,1295.6 L931.4,1294.3 L933.7,1293 L935.9,1291.7 L938.1,1290.3 L940.2,1288.9 L942.4,1287.5 L944.5,1286.1 L946.6,1284.6 L948.7,1283.2 L950.7,1281.7 L952.7,1280.1 L954.7,1278.6 L956.7,1277 L958.7,1275.4 L960.6,1273.8 L962.6,1272.2 L964.5,1270.6 L966.3,1268.9 L968.2,1267.2 L970.1,1265.5 L971.9,1263.8 L973.7,1262 L975.5,1260.3 L977.2,1258.5 L979,1256.7 L980.7,1254.9 L982.4,1253.1 L984.1,1251.2 L985.8,1249.3 L987.5,1247.5 L989.2,1245.6 L990.8,1243.6 L992.4,1241.7 L994,1239.8 L995.6,1237.8 L997.2,1235.8 L998.7,1233.9 L1000.3,1231.9 L1001.8,1229.8 L1003.4,1227.8 L1004.9,1225.8 L1006.4,1223.7 L1007.8,1221.7 L1009.3,1219.6 L1010.8,1217.5 L1012.2,1215.4 L1013.7,1213.3 L1015.1,1211.2 L1016.5,1209 L1017.9,1206.9 L1019.3,1204.7 L1020.7,1202.6 L1022.1,1200.4 L1023.4,1198.2 L1024.8,1196 L1026.1,1193.8 L1027.5,1191.6 L1028.8,1189.4 L1030.1,1187.2 L1031.5,1184.9 L1032.8,1182.7 L1034.1,1180.5 L1035.4,1178.2 L1036.7,1176 L1038,1173.7 L1039.2,1171.4 L1040.5,1169.2 L1041.8,1166.9 L1043.1,1164.6 L1044.3,1162.3 L1045.6,1160 L1046.9,1157.8 L1048.1,1155.5 L1049.4,1153.2 L1050.6,1150.9 L1051.9,1148.6 L1053.1,1146.3 L1054.4,1144 L1055.6,1141.7 L1056.9,1139.4 L1058.2,1137.1 L1059.4,1134.8 L1060.7,1132.5 L1061.9,1130.2 L1063.2,1127.9 L1064.4,1125.6 L1065.7,1123.3 L1066.9,1121 L1068.2,1118.8 L1069.5,1116.5 L1070.7,1114.2 L1072,1111.9 L1073.3,1109.7 L1074.6,1107.4 L1075.9,1105.1 L1077.2,1102.9 L1078.5,1100.6 L1079.8,1098.4 L1081.1,1096.2 L1082.4,1093.9 L1083.7,1091.7 L1085.1,1089.5 L1086.4,1087.3 L1087.8,1085.1 L1089.1,1082.9 L1090.5,1080.7 L1091.9,1078.5 L1093.3,1076.4 L1094.7,1074.2 L1096.1,1072.1 L1097.5,1069.9 L1098.9,1067.8 L1100.3,1065.7 L1101.8,1063.6 L1103.2,1061.5 L1104.6,1059.4 L1106.1,1057.3 L1107.6,1055.2 L1109,1053.1 L1110.5,1051 L1112,1049 L1113.5,1046.9 L1115,1044.8 L1116.5,1042.8 L1118,1040.7 L1119.5,1038.7 L1121,1036.7 L1122.5,1034.6 L1124,1032.6 L1125.5,1030.5 L1127,1028.5 L1128.5,1026.5 L1130.1,1024.4 L1131.6,1022.4 L1133.1,1020.4 L1134.6,1018.4 L1136.2,1016.3 L1137.7,1014.3 L1139.2,1012.3 L1140.7,1010.3 L1142.3,1008.3 L1143.8,1006.2 L1145.3,1004.2 L1146.8,1002.2 L1148.3,1000.1 L1149.9,998.1 L1151.4,996.1 L1152.9,994 L1154.4,992 L1155.9,990 L1157.4,987.9 L1158.9,985.9 L1160.4,983.8 L1161.9,981.8 L1163.4,979.7 L1164.9,977.6 L1166.4,975.6 L1167.8,973.5 L1169.3,971.4 L1170.8,969.3 L1172.2,967.2 L1173.7,965.1 L1175.1,963 L1176.6,960.9 L1178,958.8 L1179.4,956.7 L1180.9,954.6 L1182.3,952.5 L1183.7,950.3 L1185.1,948.2 L1186.5,946 L1187.9,943.9 L1189.3,941.7 L1190.6,939.5 L1192,937.3 L1193.4,935.1 L1194.7,932.9 L1196.1,930.7 L1197.4,928.5 L1198.7,926.3 L1200,924.1 L1201.3,921.8 L1202.6,919.6 L1203.9,917.3 L1205.2,915 L1206.4,912.7 L1207.7,910.4 L1208.9,908.1 L1210.2,905.8 L1211.4,903.5 L1212.6,901.1 L1213.8,898.8 L1215,896.4 L1216.2,894.1 L1217.4,891.7 L1218.5,889.3 L1219.7,886.9 L1220.8,884.5 L1221.9,882.1 L1223,879.6 L1224.2,877.2 L1225.2,874.7 L1226.3,872.3 L1227.4,869.8 L1228.5,867.3 L1229.5,864.8 L1230.6,862.3 L1231.6,859.8 L1232.6,857.2 L1233.6,854.7 L1233.3,858 L1233,861.2 L1232.7,864.4 L1232.4,867.6 L1232,870.8 L1231.6,874 L1231.2,877.2 L1230.8,880.3 L1230.4,883.4 L1230,886.6 L1229.5,889.6 L1229.1,892.7 L1228.6,895.8 L1228.1,898.9 L1227.6,901.9 L1227.1,904.9 L1226.5,908 L1226,911 L1225.5,914 L1224.9,916.9 L1224.3,919.9 L1223.7,922.9 L1223.2,925.8 L1222.6,928.8 L1221.9,931.7 L1221.3,934.7 L1220.7,937.6 L1220.1,940.5 L1219.4,943.4 L1218.8,946.3 L1218.1,949.2 L1217.5,952.1 L1216.8,955 L1216.2,957.9 L1215.5,960.8 L1214.8,963.6 L1214.2,966.5 L1213.5,969.4 L1212.8,972.3 L1212.1,975.1 L1211.5,978 L1210.8,980.9 L1210.1,983.7 L1209.4,986.6 L1208.7,989.5 L1208.1,992.3 L1207.4,995.2 L1206.7,998.1 L1206,1000.9 L1205.4,1003.8 L1204.7,1006.7 L1204,1009.6 L1203.4,1012.5 L1202.7,1015.3 L1202,1018.2 L1201.3,1021.1 L1200.7,1024 L1200,1026.8 L1199.3,1029.7 L1198.6,1032.5 L1197.9,1035.4 L1197.2,1038.2 L1196.5,1041 L1195.7,1043.9 L1195,1046.7 L1194.2,1049.5 L1193.5,1052.3 L1192.7,1055.1 L1192,1057.8 L1191.2,1060.6 L1190.4,1063.4 L1189.6,1066.2 L1188.9,1068.9 L1188.1,1071.7 L1187.3,1074.4 L1186.5,1077.2 L1185.7,1080 L1185,1082.7 L1184.2,1085.5 L1183.4,1088.3 L1182.6,1091 L1181.8,1093.8 L1181,1096.6 L1180.2,1099.3 L1179.4,1102 L1178.6,1104.8 L1177.8,1107.5 L1177,1110.2 L1176.1,1112.9 L1175.3,1115.6 L1174.4,1118.3 L1173.5,1121 L1172.6,1123.6 L1171.7,1126.2 L1170.8,1128.9 L1169.8,1131.5 L1168.9,1134 L1167.9,1136.6 L1166.9,1139.2 L1165.9,1141.7 L1164.9,1144.2 L1163.8,1146.8 L1162.8,1149.2 L1161.7,1151.7 L1160.6,1154.2 L1159.5,1156.7 L1158.4,1159.1 L1157.3,1161.5 L1156.2,1163.9 L1155,1166.3 L1153.9,1168.7 L1152.7,1171.1 L1151.5,1173.5 L1150.3,1175.8 L1149.1,1178.2 L1147.9,1180.5 L1146.7,1182.8 L1145.4,1185.1 L1144.2,1187.4 L1142.9,1189.7 L1141.6,1191.9 L1140.3,1194.2 L1139,1196.4 L1137.7,1198.6 L1136.3,1200.9 L1135,1203.1 L1133.6,1205.2 L1132.3,1207.4 L1130.9,1209.6 L1129.5,1211.8 L1128.1,1213.9 L1126.7,1216 L1125.2,1218.1 L1123.8,1220.2 L1122.3,1222.3 L1120.9,1224.4 L1119.4,1226.5 L1117.9,1228.5 L1116.4,1230.5 L1114.8,1232.5 L1113.3,1234.5 L1111.7,1236.5 L1110.1,1238.5 L1108.5,1240.4 L1106.9,1242.4 L1105.3,1244.3 L1103.6,1246.2 L1102,1248.1 L1100.3,1249.9 L1098.6,1251.8 L1096.9,1253.6 L1095.1,1255.4 L1093.4,1257.2 L1091.6,1259 L1089.8,1260.7 L1088,1262.5 L1086.2,1264.2 L1084.3,1265.9 L1082.4,1267.5 L1080.5,1269.2 L1078.6,1270.8 L1076.7,1272.4 L1074.7,1274 L1072.7,1275.6 L1070.7,1277.1 L1068.7,1278.7 L1066.7,1280.2 L1064.6,1281.6 L1062.5,1283.1 L1060.4,1284.6 L1058.3,1286 L1056.1,1287.4 L1054,1288.8 L1051.8,1290.1 L1049.6,1291.5 L1047.3,1292.8 L1045.1,1294.1 L1042.8,1295.3 L1040.5,1296.6 L1038.2,1297.8 L1035.9,1299.1 L1033.5,1300.2 L1031.2,1301.4 L1028.8,1302.6 L1026.4,1303.7 L1023.9,1304.8 L1021.5,1305.9 L1019,1307 L1016.5,1308 L1014,1309.1 L1011.4,1310.1 L1008.9,1311.1 L1006.3,1312 L1003.7,1313 L1001.1,1313.9 L998.4,1314.8 L995.8,1315.7 L993.1,1316.6 L990.4,1317.4 L987.7,1318.2 L984.9,1319 L982.2,1319.8 L979.4,1320.6 L976.6,1321.3 L973.8,1322.1 L970.9,1322.8 L968.1,1323.5 L965.2,1324.1 L962.3,1324.8 L959.4,1325.4 L956.4,1326 L953.5,1326.6 L950.5,1327.2 L947.5,1327.7 L944.5,1328.2 L941.4,1328.7 L938.3,1329.2 L935.3,1329.7 L932.2,1330.1 L929,1330.5 L925.9,1330.9 L922.7,1331.3 L919.6,1331.7 L916.4,1332 L913.1,1332.4 L909.9,1332.7 L906.6,1333 L903.3,1333.2 L900,1333.5 L896.7,1333.7 L893.4,1333.9 L890,1334.1 L886.6,1334.3 L883.3,1334.4 L879.8,1334.6 L876.4,1334.7 L873,1334.8 L869.5,1334.9 L866.1,1335 L862.6,1335 L859.1,1335.1 L855.6,1335.1 L852.1,1335.1 L848.6,1335.1 L845.1,1335.1 L841.6,1335.1 L838.1,1335.1 L834.5,1335 L831,1335 L827.4,1335 L823.9,1335 L820.4,1335 L816.8,1335 L813.3,1335.1 L809.7,1335.1 L806.2,1335.1 L802.6,1335.2 L799.1,1335.2 L795.6,1335.3 L792,1335.3 L788.5,1335.4 L785,1335.5 L781.5,1335.5 L778,1335.6 L774.5,1335.7 L771,1335.8 L767.6,1335.8 L764.1,1335.9 L760.7,1336 L757.2,1336.1 L753.8,1336.2 L750.4,1336.3 L747,1336.4 L743.6,1336.5 L740.2,1336.5 L736.8,1336.6 L733.4,1336.7 L730,1336.8 L726.7,1336.9 L723.3,1337 L719.9,1337.1 L716.6,1337.2 L713.2,1337.3 L709.8,1337.5 L706.5,1337.6 L703.1,1337.7 L699.7,1337.8 L696.4,1337.9 L693,1338 L689.6,1338.1 L686.3,1338.2 L682.9,1338.4 L679.5,1338.5 L676.1,1338.6 L672.7,1338.7 L669.3,1338.8 L665.9,1339 L662.5,1339.1 L659.1,1339.2 L655.7,1339.3 L652.2,1339.5 L648.8,1339.6 L645.3,1339.7 L641.8,1339.9 L638.4,1340 L634.9,1340.1 L631.4,1340.3 L627.8,1340.4 L624.3,1340.5 L620.8,1340.7 L617.2,1340.8 L613.6,1341 L610,1341.1" stroke="#000000" stroke-width="7.1"/>
<path d="M610,1336.4 L613.5,1336.2 L617,1336.1 L620.4,1335.9 L623.9,1335.8 L627.4,1335.7 L630.9,1335.5 L634.3,1335.4 L637.8,1335.3 L641.2,1335.1 L644.7,1335 L648.1,1334.9 L651.6,1334.8 L655,1334.7 L658.4,1334.6 L661.9,1334.5 L665.3,1334.3 L668.7,1334.2 L672.1,1334.1 L675.6,1334 L679,1333.9 L682.4,1333.8 L685.8,1333.7 L689.2,1333.6 L692.6,1333.5 L696,1333.4 L699.4,1333.3 L702.8,1333.2 L706.2,1333.1 L709.6,1333 L713,1332.9 L716.4,1332.8 L719.7,1332.7 L723.1,1332.6 L726.5,1332.5 L729.9,1332.4 L733.3,1332.3 L736.6,1332.2 L740,1332.1 L743.4,1332 L746.7,1331.9 L750.1,1331.8 L753.5,1331.7 L756.8,1331.5 L760.2,1331.4 L763.6,1331.3 L766.9,1331.2 L770.3,1331.1 L773.7,1330.9 L777,1330.8 L780.4,1330.6 L783.7,1330.5 L787.1,1330.4 L790.4,1330.2 L793.7,1330 L797.1,1329.8 L800.4,1329.6 L803.7,1329.4 L807,1329.1 L810.3,1328.8 L813.6,1328.4 L816.9,1328.1 L820.1,1327.7 L823.4,1327.3 L826.6,1326.8 L829.8,1326.4 L833,1325.9 L836.2,1325.3 L839.4,1324.8 L842.5,1324.2 L845.7,1323.6 L848.8,1323 L851.9,1322.4 L855,1321.7 L858,1321 L861,1320.3 L864,1319.6 L867,1318.9 L870,1318.2 L872.9,1317.5 L875.8,1316.7 L878.7,1316 L881.5,1315.3 L884.4,1314.6 L887.1,1313.8 L889.9,1313 L892.6,1312.2 L895.3,1311.4 L898,1310.5 L900.6,1309.5 L903.2,1308.6 L905.8,1307.6 L908.3,1306.6 L910.8,1305.5 L913.2,1304.4 L915.7,1303.3 L918.1,1302.2 L920.4,1301 L922.8,1299.8 L925.1,1298.5 L927.3,1297.2 L929.6,1295.9 L931.8,1294.6 L934,1293.3 L936.2,1291.9 L938.3,1290.5 L940.4,1289 L942.5,1287.6 L944.6,1286.1 L946.6,1284.6 L948.6,1283 L950.6,1281.5 L952.6,1279.9 L954.5,1278.3 L956.4,1276.6 L958.3,1275 L960.2,1273.3 L962,1271.6 L963.9,1269.9 L965.7,1268.2 L967.5,1266.4 L969.3,1264.7 L971,1262.9 L972.8,1261.1 L974.5,1259.2 L976.2,1257.4 L977.9,1255.6 L979.6,1253.7 L981.2,1251.8 L982.9,1249.9 L984.5,1248 L986.2,1246.1 L987.8,1244.1 L989.4,1242.2 L991,1240.2 L992.5,1238.2 L994.1,1236.3 L995.6,1234.3 L997.2,1232.3 L998.7,1230.3 L1000.3,1228.2 L1001.8,1226.2 L1003.3,1224.2 L1004.8,1222.1 L1006.3,1220.1 L1007.8,1218 L1009.3,1216 L1010.7,1213.9 L1012.2,1211.8 L1013.7,1209.7 L1015.2,1207.7 L1016.6,1205.6 L1018.1,1203.5 L1019.6,1201.4 L1021,1199.3 L1022.5,1197.2 L1023.9,1195.2 L1025.4,1193.1 L1026.9,1191 L1028.3,1188.9 L1029.8,1186.8 L1031.2,1184.7 L1032.7,1182.6 L1034.2,1180.5 L1035.6,1178.4 L1037.1,1176.4 L1038.5,1174.3 L1040,1172.2 L1041.5,1170.1 L1042.9,1168 L1044.4,1165.9 L1045.8,1163.8 L1047.3,1161.7 L1048.8,1159.7 L1050.2,1157.6 L1051.7,1155.5 L1053.1,1153.4 L1054.6,1151.3 L1056.1,1149.2 L1057.5,1147.2 L1059,1145.1 L1060.5,1143 L1062,1140.9 L1063.4,1138.9 L1064.9,1136.8 L1066.4,1134.7 L1067.9,1132.6 L1069.4,1130.6 L1070.8,1128.5 L1072.3,1126.4 L1073.8,1124.4 L1075.3,1122.3 L1076.8,1120.3 L1078.3,1118.2 L1079.8,1116.2 L1081.3,1114.1 L1082.8,1112.1 L1084.3,1110 L1085.8,1108 L1087.3,1106 L1088.8,1103.9 L1090.3,1101.9 L1091.9,1099.9 L1093.4,1097.8 L1094.9,1095.8 L1096.4,1093.8 L1098,1091.8 L1099.5,1089.8 L1101.1,1087.8 L1102.6,1085.8 L1104.1,1083.8 L1105.7,1081.8 L1107.3,1079.8 L1108.8,1077.8 L1110.4,1075.8 L1111.9,1073.8 L1113.5,1071.9 L1115.1,1069.9 L1116.7,1067.9 L1118.3,1066 L1119.9,1064 L1121.5,1062 L1123.1,1060.1 L1124.7,1058.2 L1126.3,1056.2 L1127.9,1054.3 L1129.5,1052.4 L1131.1,1050.4 L1132.8,1048.5 L1134.4,1046.6 L1136,1044.7 L1137.7,1042.8 L1139.3,1040.9 L1141,1039 L1142.7,1037.1 L1144.3,1035.3 L1146,1033.4 L1147.7,1031.5 L1149.4,1029.6 L1151,1027.8 L1152.7,1025.9 L1154.4,1024.1 L1156.1,1022.2 L1157.8,1020.3 L1159.5,1018.5 L1161.2,1016.6 L1162.8,1014.7 L1164.5,1012.8 L1166.2,1011 L1167.8,1009.1 L1169.5,1007.2 L1171.1,1005.3 L1172.8,1003.4 L1174.4,1001.5 L1176,999.6 L1177.7,997.6 L1179.3,995.7 L1180.9,993.7 L1182.4,991.8 L1184,989.8 L1185.6,987.8 L1187.1,985.8 L1188.6,983.8 L1190.1,981.7 L1191.6,979.7 L1193.1,977.6 L1194.6,975.5 L1196,973.4 L1197.4,971.3 L1198.8,969.1 L1200.2,966.9 L1201.6,964.8 L1202.9,962.5 L1204.2,960.3 L1205.5,958 L1206.8,955.8 L1208,953.5 L1209.2,951.1 L1210.4,948.8 L1211.6,946.4 L1212.8,944 L1213.9,941.6 L1215,939.2 L1216.2,936.8 L1217.3,934.3 L1218.3,931.9 L1219.4,929.4 L1220.5,926.9 L1221.5,924.4 L1222.6,921.9 L1223.6,919.4 L1224.6,916.8 L1225.6,914.3 L1226.6,911.8 L1227.6,909.2 L1228.6,906.7 L1229.6,904.1 L1230.6,901.6 L1231.6,899 L1232.6,896.5 L1233.6,893.9 L1233.3,897.2 L1233,900.4 L1232.7,903.7 L1232.4,906.9 L1232,910.1 L1231.7,913.3 L1231.3,916.5 L1230.9,919.7 L1230.5,922.8 L1230,925.9 L1229.6,929 L1229.1,932.1 L1228.6,935.2 L1228.1,938.2 L1227.6,941.3 L1227,944.3 L1226.4,947.2 L1225.8,950.2 L1225.2,953.1 L1224.5,956 L1223.8,958.9 L1223.1,961.7 L1222.4,964.6 L1221.6,967.4 L1220.9,970.1 L1220.1,972.9 L1219.3,975.7 L1218.5,978.4 L1217.6,981.2 L1216.8,983.9 L1216,986.6 L1215.2,989.4 L1214.4,992.1 L1213.6,994.9 L1212.8,997.6 L1212,1000.4 L1211.3,1003.2 L1210.5,1006.1 L1209.8,1008.9 L1209.1,1011.7 L1208.4,1014.6 L1207.7,1017.5 L1207,1020.3 L1206.3,1023.2 L1205.7,1026.1 L1205,1029 L1204.3,1031.9 L1203.6,1034.8 L1203,1037.6 L1202.3,1040.5 L1201.6,1043.4 L1200.9,1046.2 L1200.2,1049.1 L1199.4,1051.9 L1198.7,1054.7 L1198,1057.6 L1197.2,1060.4 L1196.5,1063.2 L1195.7,1066 L1195,1068.8 L1194.2,1071.6 L1193.4,1074.4 L1192.6,1077.1 L1191.8,1079.9 L1191,1082.7 L1190.2,1085.4 L1189.4,1088.2 L1188.6,1090.9 L1187.8,1093.6 L1186.9,1096.3 L1186.1,1099.1 L1185.2,1101.8 L1184.4,1104.5 L1183.5,1107.1 L1182.6,1109.8 L1181.7,1112.5 L1180.8,1115.2 L1179.9,1117.8 L1179,1120.5 L1178.1,1123.1 L1177.2,1125.8 L1176.2,1128.4 L1175.3,1131 L1174.4,1133.6 L1173.4,1136.2 L1172.4,1138.8 L1171.5,1141.4 L1170.5,1143.9 L1169.5,1146.5 L1168.5,1149.1 L1167.4,1151.6 L1166.4,1154.1 L1165.4,1156.6 L1164.3,1159.2 L1163.3,1161.6 L1162.2,1164.1 L1161.1,1166.6 L1160,1169.1 L1158.9,1171.5 L1157.8,1173.9 L1156.6,1176.4 L1155.5,1178.8 L1154.3,1181.2 L1153.1,1183.6 L1151.9,1185.9 L1150.7,1188.3 L1149.5,1190.6 L1148.3,1192.9 L1147,1195.2 L1145.8,1197.5 L1144.5,1199.8 L1143.2,1202.1 L1141.9,1204.3 L1140.6,1206.6 L1139.2,1208.8 L1137.9,1211 L1136.5,1213.2 L1135.1,1215.3 L1133.7,1217.5 L1132.2,1219.6 L1130.8,1221.7 L1129.3,1223.8 L1127.8,1225.9 L1126.3,1227.9 L1124.8,1230 L1123.3,1232 L1121.7,1234 L1120.2,1236 L1118.6,1238 L1116.9,1239.9 L1115.3,1241.8 L1113.6,1243.7 L1112,1245.6 L1110.3,1247.5 L1108.6,1249.3 L1106.8,1251.1 L1105.1,1252.9 L1103.3,1254.7 L1101.5,1256.5 L1099.7,1258.2 L1097.8,1259.9 L1096,1261.6 L1094.1,1263.3 L1092.2,1265 L1090.3,1266.6 L1088.3,1268.2 L1086.4,1269.8 L1084.4,1271.4 L1082.4,1273 L1080.4,1274.5 L1078.3,1276 L1076.3,1277.5 L1074.2,1279 L1072.1,1280.5 L1070,1281.9 L1067.8,1283.3 L1065.7,1284.7 L1063.5,1286.1 L1061.3,1287.5 L1059.1,1288.8 L1056.9,1290.1 L1054.6,1291.4 L1052.3,1292.7 L1050,1294 L1047.7,1295.2 L1045.4,1296.5 L1043,1297.7 L1040.7,1298.8 L1038.3,1300 L1035.8,1301.2 L1033.4,1302.3 L1031,1303.4 L1028.5,1304.5 L1026,1305.5 L1023.5,1306.6 L1021,1307.6 L1018.4,1308.6 L1015.8,1309.6 L1013.2,1310.6 L1010.6,1311.5 L1008,1312.5 L1005.4,1313.4 L1002.7,1314.3 L1000,1315.1 L997.3,1316 L994.6,1316.8 L991.8,1317.7 L989.1,1318.5 L986.3,1319.2 L983.5,1320 L980.7,1320.7 L977.8,1321.4 L975,1322.1 L972.1,1322.8 L969.2,1323.5 L966.3,1324.1 L963.4,1324.8 L960.4,1325.4 L957.4,1326 L954.4,1326.5 L951.4,1327.1 L948.4,1327.6 L945.4,1328.1 L942.3,1328.6 L939.2,1329.1 L936.1,1329.5 L933,1330 L929.8,1330.4 L926.7,1330.8 L923.5,1331.2 L920.3,1331.5 L917.1,1331.9 L913.8,1332.2 L910.6,1332.5 L907.3,1332.8 L904,1333 L900.7,1333.3 L897.4,1333.5 L894,1333.7 L890.7,1333.9 L887.3,1334.1 L883.9,1334.3 L880.5,1334.4 L877.1,1334.5 L873.6,1334.7 L870.2,1334.8 L866.7,1334.8 L863.2,1334.9 L859.7,1335 L856.3,1335 L852.7,1335 L849.2,1335 L845.7,1335.1 L842.2,1335.1 L838.7,1335 L835.1,1335 L831.6,1335 L828.1,1335 L824.5,1335 L821,1335 L817.4,1335 L813.9,1335.1 L810.3,1335.1 L806.8,1335.1 L803.3,1335.2 L799.7,1335.2 L796.2,1335.3 L792.7,1335.3 L789.1,1335.4 L785.6,1335.5 L782.1,1335.5 L778.6,1335.6 L775.1,1335.7 L771.6,1335.8 L768.2,1335.8 L764.7,1335.9 L761.2,1336 L757.8,1336.1 L754.4,1336.2 L750.9,1336.3 L747.5,1336.3 L744.1,1336.4 L740.7,1336.5 L737.3,1336.6 L733.9,1336.7 L730.5,1336.8 L727.1,1336.9 L723.7,1337 L720.3,1337.1 L716.9,1337.2 L713.6,1337.3 L710.2,1337.4 L706.8,1337.6 L703.4,1337.7 L700.1,1337.8 L696.7,1337.9 L693.3,1338 L689.9,1338.1 L686.5,1338.2 L683.1,1338.4 L679.7,1338.5 L676.3,1338.6 L672.9,1338.7 L669.5,1338.8 L666.1,1339 L662.7,1339.1 L659.2,1339.2 L655.8,1339.3 L652.3,1339.5 L648.9,1339.6 L645.4,1339.7 L641.9,1339.9 L638.4,1340 L634.9,1340.1 L631.4,1340.3 L627.9,1340.4 L624.3,1340.5 L620.8,1340.7 L617.2,1340.8 L613.6,1341 L610,1341.1" stroke="#ff0000" stroke-width="7.1"/>
<path d="M610,1336.4 L613.3,1336.3 L616.7,1336.1 L620,1336 L623.4,1335.8 L626.7,1335.7 L630.1,1335.6 L633.5,1335.4 L636.9,1335.3 L640.2,1335.2 L643.6,1335.1 L647,1334.9 L650.4,1334.8 L653.8,1334.7 L657.2,1334.6 L660.6,1334.5 L664,1334.4 L667.5,1334.3 L670.9,1334.2 L674.3,1334.1 L677.8,1334 L681.2,1333.9 L684.7,1333.8 L688.2,1333.7 L691.6,1333.6 L695.1,1333.5 L698.6,1333.4 L702.1,1333.3 L705.6,1333.1 L709.1,1333 L712.6,1332.9 L716.1,1332.8 L719.6,1332.7 L723.1,1332.6 L726.6,1332.5 L730.1,1332.4 L733.6,1332.3 L737.1,1332.2 L740.6,1332.1 L744.1,1332 L747.5,1331.9 L751,1331.7 L754.5,1331.6 L758,1331.5 L761.5,1331.4 L764.9,1331.3 L768.4,1331.1 L771.8,1331 L775.3,1330.9 L778.7,1330.7 L782.1,1330.6 L785.5,1330.4 L788.9,1330.3 L792.3,1330.1 L795.6,1330 L799,1329.8 L802.3,1329.6 L805.7,1329.4 L809,1329.2 L812.3,1328.9 L815.5,1328.7 L818.8,1328.4 L822,1328.1 L825.3,1327.8 L828.5,1327.4 L831.6,1327 L834.8,1326.6 L837.9,1326.2 L841,1325.7 L844.1,1325.2 L847.2,1324.6 L850.3,1324 L853.3,1323.4 L856.3,1322.8 L859.2,1322.1 L862.2,1321.4 L865.1,1320.6 L868,1319.9 L870.9,1319.1 L873.7,1318.3 L876.5,1317.5 L879.3,1316.7 L882.1,1316 L884.9,1315.2 L887.6,1314.4 L890.3,1313.5 L893,1312.6 L895.7,1311.8 L898.3,1310.8 L900.9,1309.9 L903.5,1309 L906.1,1308 L908.6,1307 L911.2,1306 L913.7,1304.9 L916.2,1303.8 L918.6,1302.8 L921.1,1301.6 L923.5,1300.5 L925.9,1299.4 L928.3,1298.2 L930.6,1297 L933,1295.8 L935.3,1294.6 L937.6,1293.3 L939.9,1292 L942.1,1290.7 L944.3,1289.4 L946.6,1288.1 L948.8,1286.8 L950.9,1285.4 L953.1,1284 L955.2,1282.6 L957.4,1281.2 L959.5,1279.7 L961.6,1278.2 L963.6,1276.8 L965.7,1275.3 L967.7,1273.7 L969.7,1272.2 L971.7,1270.6 L973.7,1269.1 L975.6,1267.5 L977.6,1265.9 L979.5,1264.3 L981.4,1262.6 L983.3,1261 L985.2,1259.3 L987.1,1257.6 L988.9,1255.9 L990.7,1254.2 L992.5,1252.4 L994.3,1250.7 L996.1,1248.9 L997.9,1247.1 L999.6,1245.3 L1001.3,1243.5 L1003.1,1241.6 L1004.8,1239.8 L1006.4,1237.9 L1008.1,1236.1 L1009.8,1234.2 L1011.4,1232.3 L1013.1,1230.3 L1014.7,1228.4 L1016.3,1226.5 L1017.9,1224.5 L1019.5,1222.6 L1021.1,1220.6 L1022.7,1218.7 L1024.2,1216.7 L1025.8,1214.7 L1027.4,1212.7 L1028.9,1210.7 L1030.5,1208.7 L1032,1206.7 L1033.6,1204.7 L1035.1,1202.7 L1036.7,1200.7 L1038.2,1198.7 L1039.7,1196.7 L1041.3,1194.7 L1042.8,1192.6 L1044.4,1190.6 L1045.9,1188.6 L1047.5,1186.6 L1049,1184.6 L1050.6,1182.6 L1052.1,1180.7 L1053.7,1178.7 L1055.3,1176.7 L1056.9,1174.7 L1058.5,1172.8 L1060.1,1170.8 L1061.7,1168.9 L1063.3,1167 L1064.9,1165 L1066.6,1163.1 L1068.2,1161.2 L1069.9,1159.4 L1071.6,1157.5 L1073.3,1155.6 L1075,1153.8 L1076.7,1152 L1078.4,1150.1 L1080.1,1148.3 L1081.9,1146.5 L1083.7,1144.7 L1085.4,1142.9 L1087.2,1141.2 L1089,1139.4 L1090.8,1137.6 L1092.6,1135.9 L1094.4,1134.1 L1096.2,1132.4 L1098,1130.7 L1099.8,1128.9 L1101.6,1127.2 L1103.5,1125.5 L1105.3,1123.7 L1107.1,1122 L1108.9,1120.3 L1110.8,1118.6 L1112.6,1116.9 L1114.4,1115.1 L1116.2,1113.4 L1118.1,1111.7 L1119.9,1110 L1121.7,1108.2 L1123.5,1106.5 L1125.3,1104.8 L1127.1,1103 L1128.9,1101.3 L1130.7,1099.5 L1132.5,1097.7 L1134.3,1096 L1136.1,1094.2 L1137.8,1092.4 L1139.6,1090.6 L1141.3,1088.8 L1143.1,1087 L1144.8,1085.2 L1146.5,1083.3 L1148.2,1081.5 L1149.9,1079.6 L1151.6,1077.7 L1153.2,1075.9 L1154.9,1074 L1156.5,1072.1 L1158.2,1070.1 L1159.8,1068.2 L1161.4,1066.2 L1163,1064.3 L1164.5,1062.3 L1166.1,1060.3 L1167.6,1058.3 L1169.2,1056.3 L1170.7,1054.3 L1172.2,1052.2 L1173.7,1050.2 L1175.2,1048.1 L1176.7,1046 L1178.2,1044 L1179.6,1041.9 L1181,1039.8 L1182.5,1037.6 L1183.9,1035.5 L1185.3,1033.4 L1186.7,1031.2 L1188.1,1029 L1189.4,1026.8 L1190.8,1024.7 L1192.1,1022.5 L1193.5,1020.2 L1194.8,1018 L1196.1,1015.8 L1197.4,1013.5 L1198.7,1011.3 L1200,1009 L1201.3,1006.7 L1202.5,1004.4 L1203.8,1002.1 L1205,999.8 L1206.2,997.5 L1207.5,995.2 L1208.7,992.8 L1209.9,990.5 L1211,988.1 L1212.2,985.7 L1213.4,983.3 L1214.5,980.9 L1215.7,978.5 L1216.8,976.1 L1217.9,973.7 L1219,971.2 L1220.1,968.8 L1221.2,966.3 L1222.3,963.9 L1223.4,961.4 L1224.5,958.9 L1225.5,956.4 L1226.6,953.9 L1227.6,951.4 L1228.6,948.9 L1229.6,946.3 L1230.6,943.8 L1231.6,941.2 L1232.6,938.7 L1233.6,936.1 L1233,939.1 L1232.5,942.1 L1231.9,945.1 L1231.4,948.1 L1230.8,951 L1230.2,954 L1229.7,957 L1229.1,960 L1228.5,963 L1228,966 L1227.4,969 L1226.9,971.9 L1226.3,974.9 L1225.7,977.9 L1225.1,980.9 L1224.6,983.9 L1224,986.8 L1223.4,989.8 L1222.8,992.8 L1222.3,995.7 L1221.7,998.7 L1221.1,1001.7 L1220.5,1004.6 L1219.9,1007.6 L1219.3,1010.5 L1218.7,1013.5 L1218.1,1016.4 L1217.5,1019.4 L1216.9,1022.3 L1216.2,1025.2 L1215.6,1028.1 L1215,1031.1 L1214.4,1034 L1213.7,1036.9 L1213.1,1039.8 L1212.4,1042.7 L1211.8,1045.6 L1211.1,1048.5 L1210.5,1051.4 L1209.8,1054.2 L1209.1,1057.1 L1208.4,1060 L1207.7,1062.8 L1207,1065.7 L1206.3,1068.5 L1205.6,1071.4 L1204.9,1074.2 L1204.2,1077 L1203.4,1079.8 L1202.7,1082.6 L1201.9,1085.4 L1201.2,1088.2 L1200.4,1091 L1199.6,1093.8 L1198.8,1096.5 L1198,1099.3 L1197.2,1102 L1196.4,1104.8 L1195.6,1107.5 L1194.8,1110.2 L1193.9,1112.9 L1193.1,1115.6 L1192.2,1118.3 L1191.3,1121 L1190.4,1123.6 L1189.5,1126.3 L1188.6,1128.9 L1187.7,1131.6 L1186.8,1134.2 L1185.9,1136.8 L1184.9,1139.4 L1183.9,1142 L1183,1144.5 L1182,1147.1 L1181,1149.7 L1180,1152.2 L1179,1154.7 L1177.9,1157.2 L1176.9,1159.7 L1175.8,1162.2 L1174.7,1164.7 L1173.6,1167.2 L1172.5,1169.6 L1171.4,1172 L1170.3,1174.4 L1169.1,1176.9 L1168,1179.2 L1166.8,1181.6 L1165.6,1184 L1164.4,1186.3 L1163.2,1188.6 L1162,1191 L1160.7,1193.3 L1159.4,1195.5 L1158.2,1197.8 L1156.9,1200.1 L1155.6,1202.3 L1154.2,1204.5 L1152.9,1206.7 L1151.5,1208.9 L1150.1,1211.1 L1148.7,1213.2 L1147.3,1215.4 L1145.9,1217.5 L1144.4,1219.6 L1143,1221.7 L1141.5,1223.7 L1140,1225.8 L1138.5,1227.8 L1136.9,1229.8 L1135.4,1231.8 L1133.8,1233.8 L1132.2,1235.7 L1130.6,1237.7 L1129,1239.6 L1127.3,1241.5 L1125.6,1243.4 L1123.9,1245.2 L1122.2,1247.1 L1120.5,1248.9 L1118.8,1250.7 L1117,1252.5 L1115.2,1254.2 L1113.4,1256 L1111.6,1257.7 L1109.7,1259.4 L1107.9,1261.1 L1106,1262.7 L1104.1,1264.4 L1102.1,1266 L1100.2,1267.6 L1098.2,1269.2 L1096.3,1270.8 L1094.3,1272.3 L1092.2,1273.9 L1090.2,1275.4 L1088.2,1276.9 L1086.1,1278.3 L1084,1279.8 L1081.9,1281.2 L1079.7,1282.6 L1077.6,1284 L1075.4,1285.4 L1073.2,1286.8 L1071,1288.1 L1068.8,1289.4 L1066.5,1290.7 L1064.3,1292 L1062,1293.3 L1059.7,1294.5 L1057.4,1295.7 L1055,1297 L1052.7,1298.1 L1050.3,1299.3 L1047.9,1300.5 L1045.5,1301.6 L1043,1302.7 L1040.6,1303.8 L1038.1,1304.9 L1035.6,1305.9 L1033.1,1307 L1030.6,1308 L1028,1309 L1025.4,1310 L1022.9,1310.9 L1020.3,1311.9 L1017.6,1312.8 L1015,1313.7 L1012.3,1314.6 L1009.6,1315.5 L1006.9,1316.3 L1004.2,1317.2 L1001.5,1318 L998.7,1318.8 L996,1319.5 L993.2,1320.3 L990.4,1321 L987.5,1321.8 L984.7,1322.5 L981.8,1323.1 L978.9,1323.8 L976,1324.4 L973.1,1325.1 L970.2,1325.7 L967.2,1326.3 L964.2,1326.8 L961.2,1327.4 L958.2,1327.9 L955.2,1328.5 L952.2,1329 L949.1,1329.4 L946,1329.9 L942.9,1330.3 L939.8,1330.8 L936.6,1331.2 L933.5,1331.6 L930.3,1331.9 L927.1,1332.3 L923.9,1332.6 L920.6,1332.9 L917.4,1333.2 L914.1,1333.5 L910.8,1333.8 L907.5,1334 L904.2,1334.2 L900.9,1334.4 L897.5,1334.6 L894.1,1334.8 L890.7,1335 L887.3,1335.1 L883.9,1335.2 L880.5,1335.3 L877,1335.4 L873.5,1335.5 L870.1,1335.6 L866.6,1335.6 L863.1,1335.6 L859.6,1335.6 L856,1335.6 L852.5,1335.5 L849,1335.5 L845.5,1335.4 L841.9,1335.4 L838.4,1335.3 L834.8,1335.3 L831.2,1335.2 L827.7,1335.2 L824.1,1335.2 L820.6,1335.1 L817,1335.1 L813.4,1335.1 L809.9,1335.1 L806.3,1335.2 L802.8,1335.2 L799.2,1335.2 L795.7,1335.3 L792.1,1335.3 L788.6,1335.4 L785.1,1335.5 L781.6,1335.5 L778.1,1335.6 L774.5,1335.7 L771.1,1335.8 L767.6,1335.8 L764.1,1335.9 L760.7,1336 L757.2,1336.1 L753.8,1336.2 L750.3,1336.3 L746.9,1336.4 L743.5,1336.5 L740.1,1336.5 L736.7,1336.6 L733.3,1336.7 L729.9,1336.8 L726.5,1336.9 L723.1,1337 L719.7,1337.1 L716.4,1337.2 L713,1337.4 L709.6,1337.5 L706.2,1337.6 L702.9,1337.7 L699.5,1337.8 L696.1,1337.9 L692.8,1338 L689.4,1338.1 L686,1338.3 L682.6,1338.4 L679.3,1338.5 L675.9,1338.6 L672.5,1338.7 L669.1,1338.9 L665.7,1339 L662.3,1339.1 L658.9,1339.2 L655.4,1339.4 L652,1339.5 L648.6,1339.6 L645.1,1339.7 L641.7,1339.9 L638.2,1340 L634.7,1340.1 L631.2,1340.3 L627.7,1340.4 L624.2,1340.5 L620.7,1340.7 L617.1,1340.8 L613.6,1341 L610,1341.1" stroke="#0000ff" stroke-width="7.1"/>
<path d="M610,1336.4 L613.5,1336.2 L617,1336.1 L620.5,1335.9 L624,1335.8 L627.4,1335.7 L630.8,1335.5 L634.3,1335.4 L637.7,1335.3 L641.1,1335.2 L644.5,1335 L647.9,1334.9 L651.2,1334.8 L654.6,1334.7 L658,1334.6 L661.4,1334.5 L664.8,1334.4 L668.1,1334.3 L671.5,1334.2 L674.9,1334 L678.3,1333.9 L681.7,1333.8 L685.1,1333.7 L688.5,1333.6 L691.9,1333.5 L695.4,1333.4 L698.8,1333.3 L702.3,1333.2 L705.7,1333.1 L709.2,1333 L712.7,1332.9 L716.1,1332.8 L719.6,1332.7 L723.1,1332.6 L726.6,1332.5 L730.1,1332.4 L733.6,1332.3 L737.1,1332.2 L740.6,1332.1 L744.1,1332 L747.6,1331.9 L751.1,1331.7 L754.6,1331.6 L758.1,1331.5 L761.6,1331.4 L765,1331.3 L768.5,1331.1 L772,1331 L775.4,1330.8 L778.9,1330.7 L782.3,1330.6 L785.8,1330.4 L789.2,1330.3 L792.6,1330.1 L796,1329.9 L799.4,1329.8 L802.8,1329.6 L806.1,1329.3 L809.5,1329.1 L812.8,1328.9 L816.1,1328.6 L819.4,1328.3 L822.7,1328.1 L825.9,1327.7 L829.2,1327.4 L832.4,1327 L835.6,1326.6 L838.8,1326.2 L841.9,1325.8 L845,1325.3 L848.1,1324.8 L851.2,1324.2 L854.3,1323.6 L857.3,1323 L860.3,1322.3 L863.3,1321.7 L866.2,1321 L869.2,1320.2 L872.1,1319.5 L874.9,1318.7 L877.8,1318 L880.6,1317.3 L883.4,1316.5 L886.2,1315.7 L889,1314.9 L891.7,1314.1 L894.5,1313.3 L897.1,1312.4 L899.8,1311.5 L902.5,1310.6 L905.1,1309.7 L907.7,1308.7 L910.3,1307.8 L912.9,1306.8 L915.4,1305.8 L917.9,1304.7 L920.4,1303.7 L922.9,1302.6 L925.4,1301.5 L927.8,1300.4 L930.2,1299.2 L932.6,1298.1 L935,1296.9 L937.4,1295.7 L939.7,1294.5 L942.1,1293.3 L944.4,1292 L946.7,1290.7 L948.9,1289.5 L951.2,1288.1 L953.4,1286.8 L955.7,1285.5 L957.9,1284.1 L960.1,1282.8 L962.2,1281.4 L964.4,1280 L966.5,1278.5 L968.6,1277.1 L970.8,1275.7 L972.8,1274.2 L974.9,1272.7 L977,1271.2 L979,1269.7 L981.1,1268.2 L983.1,1266.6 L985.1,1265.1 L987.1,1263.5 L989,1261.9 L991,1260.3 L992.9,1258.7 L994.9,1257.1 L996.8,1255.4 L998.7,1253.8 L1000.6,1252.1 L1002.5,1250.4 L1004.4,1248.7 L1006.2,1247 L1008.1,1245.3 L1009.9,1243.6 L1011.7,1241.9 L1013.5,1240.1 L1015.3,1238.4 L1017.1,1236.6 L1018.9,1234.8 L1020.7,1233 L1022.5,1231.2 L1024.2,1229.4 L1026,1227.6 L1027.7,1225.8 L1029.4,1224 L1031.2,1222.2 L1032.9,1220.3 L1034.6,1218.5 L1036.3,1216.6 L1038,1214.8 L1039.7,1212.9 L1041.4,1211.1 L1043.1,1209.2 L1044.8,1207.3 L1046.5,1205.5 L1048.2,1203.6 L1049.9,1201.7 L1051.6,1199.9 L1053.3,1198 L1055,1196.1 L1056.7,1194.3 L1058.4,1192.4 L1060.1,1190.6 L1061.8,1188.7 L1063.5,1186.9 L1065.2,1185 L1066.9,1183.2 L1068.7,1181.3 L1070.4,1179.5 L1072.1,1177.7 L1073.9,1175.8 L1075.6,1174 L1077.4,1172.2 L1079.1,1170.4 L1080.9,1168.6 L1082.7,1166.8 L1084.5,1165.1 L1086.3,1163.3 L1088.1,1161.6 L1089.9,1159.8 L1091.7,1158.1 L1093.6,1156.4 L1095.4,1154.7 L1097.3,1153 L1099.2,1151.3 L1101,1149.6 L1102.9,1147.9 L1104.8,1146.3 L1106.7,1144.6 L1108.6,1142.9 L1110.5,1141.3 L1112.4,1139.6 L1114.3,1138 L1116.3,1136.3 L1118.2,1134.7 L1120.1,1133.1 L1122,1131.4 L1123.9,1129.8 L1125.8,1128.1 L1127.7,1126.5 L1129.6,1124.8 L1131.5,1123.1 L1133.4,1121.5 L1135.3,1119.8 L1137.2,1118.1 L1139.1,1116.4 L1140.9,1114.7 L1142.8,1113 L1144.6,1111.3 L1146.5,1109.6 L1148.3,1107.8 L1150.1,1106.1 L1151.9,1104.3 L1153.7,1102.5 L1155.4,1100.7 L1157.2,1098.9 L1158.9,1097.1 L1160.6,1095.3 L1162.3,1093.4 L1164,1091.5 L1165.6,1089.6 L1167.3,1087.7 L1168.9,1085.7 L1170.5,1083.8 L1172.1,1081.8 L1173.6,1079.8 L1175.1,1077.7 L1176.6,1075.7 L1178.1,1073.6 L1179.5,1071.5 L1181,1069.3 L1182.4,1067.2 L1183.8,1065 L1185.1,1062.8 L1186.5,1060.6 L1187.8,1058.4 L1189.1,1056.1 L1190.4,1053.9 L1191.7,1051.6 L1193,1049.3 L1194.2,1047 L1195.5,1044.7 L1196.7,1042.3 L1197.9,1040 L1199.1,1037.6 L1200.2,1035.2 L1201.4,1032.8 L1202.6,1030.4 L1203.7,1028 L1204.8,1025.5 L1205.9,1023.1 L1207.1,1020.7 L1208.2,1018.2 L1209.3,1015.7 L1210.3,1013.3 L1211.4,1010.8 L1212.5,1008.3 L1213.6,1005.8 L1214.6,1003.3 L1215.7,1000.8 L1216.7,998.3 L1217.8,995.8 L1218.8,993.3 L1219.9,990.8 L1220.9,988.3 L1222,985.7 L1223,983.2 L1224.1,980.7 L1225.1,978.2 L1226.2,975.7 L1227.2,973.2 L1228.3,970.7 L1229.3,968.2 L1230.4,965.7 L1231.5,963.2 L1232.5,960.7 L1233.6,958.2 L1233.1,961.3 L1232.6,964.3 L1232.1,967.4 L1231.6,970.4 L1231,973.4 L1230.5,976.5 L1230,979.5 L1229.4,982.5 L1228.9,985.5 L1228.4,988.5 L1227.8,991.6 L1227.2,994.6 L1226.7,997.6 L1226.1,1000.5 L1225.5,1003.5 L1225,1006.5 L1224.4,1009.5 L1223.8,1012.5 L1223.2,1015.4 L1222.6,1018.4 L1222,1021.3 L1221.4,1024.3 L1220.8,1027.2 L1220.1,1030.2 L1219.5,1033.1 L1218.9,1036 L1218.2,1038.9 L1217.6,1041.9 L1216.9,1044.8 L1216.3,1047.7 L1215.6,1050.6 L1215,1053.5 L1214.3,1056.3 L1213.6,1059.2 L1212.9,1062.1 L1212.2,1065 L1211.5,1067.8 L1210.8,1070.7 L1210.1,1073.5 L1209.4,1076.3 L1208.6,1079.2 L1207.9,1082 L1207.2,1084.8 L1206.4,1087.6 L1205.7,1090.4 L1204.9,1093.2 L1204.2,1096 L1203.4,1098.8 L1202.6,1101.6 L1201.8,1104.4 L1201,1107.1 L1200.2,1109.9 L1199.4,1112.6 L1198.6,1115.4 L1197.8,1118.1 L1196.9,1120.9 L1196.1,1123.6 L1195.3,1126.3 L1194.4,1129 L1193.5,1131.7 L1192.7,1134.4 L1191.8,1137.1 L1190.9,1139.7 L1190,1142.4 L1189.1,1145 L1188.2,1147.7 L1187.2,1150.3 L1186.3,1152.9 L1185.4,1155.6 L1184.4,1158.2 L1183.4,1160.7 L1182.4,1163.3 L1181.5,1165.9 L1180.4,1168.4 L1179.4,1171 L1178.4,1173.5 L1177.3,1176 L1176.3,1178.5 L1175.2,1181 L1174.1,1183.5 L1173,1185.9 L1171.9,1188.4 L1170.8,1190.8 L1169.6,1193.2 L1168.5,1195.6 L1167.3,1198 L1166.1,1200.4 L1164.9,1202.7 L1163.7,1205 L1162.4,1207.3 L1161.2,1209.6 L1159.9,1211.9 L1158.6,1214.2 L1157.3,1216.4 L1155.9,1218.7 L1154.6,1220.9 L1153.2,1223.1 L1151.8,1225.2 L1150.4,1227.4 L1149,1229.5 L1147.5,1231.6 L1146.1,1233.7 L1144.6,1235.8 L1143.1,1237.8 L1141.5,1239.9 L1140,1241.9 L1138.4,1243.9 L1136.8,1245.8 L1135.2,1247.8 L1133.6,1249.7 L1131.9,1251.6 L1130.2,1253.4 L1128.5,1255.3 L1126.8,1257.1 L1125,1258.9 L1123.2,1260.7 L1121.4,1262.4 L1119.6,1264.2 L1117.7,1265.9 L1115.8,1267.5 L1113.9,1269.2 L1112,1270.8 L1110,1272.4 L1108,1274 L1106,1275.5 L1104,1277.1 L1101.9,1278.5 L1099.8,1280 L1097.7,1281.5 L1095.6,1282.9 L1093.4,1284.3 L1091.2,1285.7 L1089,1287 L1086.8,1288.3 L1084.5,1289.6 L1082.2,1290.9 L1079.9,1292.2 L1077.6,1293.4 L1075.3,1294.6 L1072.9,1295.8 L1070.5,1296.9 L1068.1,1298.1 L1065.6,1299.2 L1063.2,1300.3 L1060.7,1301.4 L1058.2,1302.4 L1055.7,1303.5 L1053.1,1304.5 L1050.5,1305.5 L1048,1306.5 L1045.4,1307.4 L1042.7,1308.3 L1040.1,1309.3 L1037.4,1310.1 L1034.7,1311 L1032,1311.9 L1029.3,1312.7 L1026.6,1313.5 L1023.8,1314.3 L1021,1315.1 L1018.2,1315.9 L1015.4,1316.6 L1012.6,1317.4 L1009.7,1318.1 L1006.9,1318.8 L1004,1319.4 L1001.1,1320.1 L998.2,1320.7 L995.3,1321.4 L992.3,1322 L989.3,1322.6 L986.4,1323.2 L983.4,1323.7 L980.4,1324.3 L977.3,1324.8 L974.3,1325.3 L971.3,1325.8 L968.2,1326.3 L965.1,1326.8 L962,1327.3 L958.9,1327.7 L955.8,1328.2 L952.6,1328.6 L949.5,1329 L946.3,1329.4 L943.2,1329.8 L940,1330.2 L936.8,1330.5 L933.6,1330.9 L930.4,1331.2 L927.1,1331.5 L923.9,1331.9 L920.6,1332.2 L917.4,1332.5 L914.1,1332.7 L910.8,1333 L907.5,1333.3 L904.2,1333.5 L900.9,1333.8 L897.6,1334 L894.2,1334.2 L890.9,1334.5 L887.5,1334.7 L884.2,1334.9 L880.8,1335.1 L877.4,1335.2 L874,1335.4 L870.6,1335.5 L867.2,1335.7 L863.8,1335.8 L860.4,1335.9 L857,1335.9 L853.6,1336 L850.1,1336 L846.7,1336 L843.2,1335.9 L839.8,1335.9 L836.3,1335.8 L832.9,1335.8 L829.4,1335.7 L825.9,1335.6 L822.5,1335.6 L819,1335.5 L815.5,1335.4 L812,1335.4 L808.5,1335.3 L805,1335.3 L801.5,1335.3 L798,1335.3 L794.5,1335.3 L791,1335.4 L787.5,1335.4 L783.9,1335.5 L780.4,1335.6 L776.9,1335.6 L773.4,1335.7 L769.9,1335.8 L766.3,1335.9 L762.8,1336 L759.3,1336 L755.8,1336.1 L752.2,1336.2 L748.7,1336.3 L745.2,1336.4 L741.7,1336.5 L738.1,1336.6 L734.6,1336.7 L731.1,1336.8 L727.6,1336.9 L724,1337 L720.5,1337.1 L717,1337.2 L713.5,1337.3 L710,1337.5 L706.5,1337.6 L702.9,1337.7 L699.4,1337.8 L695.9,1337.9 L692.4,1338 L688.9,1338.1 L685.4,1338.3 L682,1338.4 L678.5,1338.5 L675,1338.6 L671.5,1338.8 L668,1338.9 L664.6,1339 L661.1,1339.1 L657.7,1339.3 L654.2,1339.4 L650.8,1339.5 L647.3,1339.7 L643.9,1339.8 L640.5,1339.9 L637.1,1340 L633.7,1340.2 L630.3,1340.3 L626.9,1340.4 L623.5,1340.6 L620.1,1340.7 L616.7,1340.8 L613.4,1341 L610,1341.1" stroke="#ff00ff" stroke-width="7.1"/>
<path d="M610,1336.4 L613.3,1336.3 L616.7,1336.1 L620,1336 L623.4,1335.8 L626.8,1335.7 L630.1,1335.6 L633.5,1335.4 L636.9,1335.3 L640.3,1335.2 L643.7,1335.1 L647.1,1334.9 L650.6,1334.8 L654,1334.7 L657.4,1334.6 L660.9,1334.5 L664.3,1334.4 L667.8,1334.3 L671.2,1334.2 L674.7,1334.1 L678.1,1334 L681.6,1333.8 L685.1,1333.7 L688.5,1333.6 L692,1333.5 L695.5,1333.4 L699,1333.3 L702.4,1333.2 L705.9,1333.1 L709.4,1333 L712.9,1332.9 L716.3,1332.8 L719.8,1332.7 L723.3,1332.6 L726.8,1332.5 L730.2,1332.4 L733.7,1332.3 L737.2,1332.2 L740.6,1332.1 L744.1,1332 L747.6,1331.9 L751,1331.7 L754.5,1331.6 L757.9,1331.5 L761.3,1331.4 L764.8,1331.3 L768.2,1331.1 L771.6,1331 L775,1330.9 L778.4,1330.7 L781.8,1330.6 L785.2,1330.4 L788.5,1330.3 L791.9,1330.1 L795.2,1330 L798.6,1329.8 L801.9,1329.6 L805.2,1329.4 L808.5,1329.1 L811.8,1328.9 L815.1,1328.6 L818.4,1328.3 L821.6,1328 L824.9,1327.7 L828.1,1327.3 L831.3,1326.9 L834.5,1326.5 L837.7,1326.1 L840.8,1325.6 L844,1325.1 L847.1,1324.6 L850.2,1324.1 L853.3,1323.5 L856.4,1322.9 L859.4,1322.3 L862.4,1321.7 L865.5,1321 L868.5,1320.3 L871.4,1319.7 L874.4,1319 L877.3,1318.4 L880.3,1317.7 L883.1,1317.1 L886,1316.4 L888.9,1315.7 L891.7,1315 L894.5,1314.2 L897.3,1313.5 L900.1,1312.7 L902.8,1311.9 L905.6,1311.1 L908.3,1310.2 L911,1309.4 L913.6,1308.5 L916.3,1307.6 L918.9,1306.6 L921.5,1305.7 L924,1304.7 L926.6,1303.7 L929.1,1302.6 L931.6,1301.6 L934,1300.5 L936.5,1299.4 L938.9,1298.3 L941.3,1297.1 L943.7,1295.9 L946,1294.7 L948.3,1293.5 L950.6,1292.2 L952.9,1290.9 L955.1,1289.6 L957.4,1288.3 L959.6,1287 L961.8,1285.6 L964,1284.3 L966.1,1282.9 L968.3,1281.5 L970.4,1280 L972.5,1278.6 L974.6,1277.1 L976.7,1275.7 L978.7,1274.2 L980.8,1272.7 L982.8,1271.2 L984.9,1269.7 L986.9,1268.2 L988.9,1266.6 L990.9,1265.1 L992.9,1263.5 L994.9,1262 L996.9,1260.4 L998.9,1258.8 L1000.8,1257.2 L1002.8,1255.6 L1004.8,1254.1 L1006.7,1252.5 L1008.7,1250.9 L1010.6,1249.3 L1012.6,1247.7 L1014.5,1246.1 L1016.5,1244.5 L1018.5,1242.9 L1020.4,1241.3 L1022.4,1239.7 L1024.3,1238.1 L1026.3,1236.5 L1028.3,1235 L1030.2,1233.4 L1032.2,1231.8 L1034.2,1230.2 L1036.2,1228.7 L1038.2,1227.1 L1040.1,1225.5 L1042.1,1224 L1044.1,1222.4 L1046.1,1220.8 L1048.1,1219.3 L1050.1,1217.7 L1052,1216.1 L1054,1214.6 L1056,1213 L1058,1211.4 L1060,1209.9 L1062,1208.3 L1064,1206.7 L1065.9,1205.2 L1067.9,1203.6 L1069.9,1202 L1071.9,1200.5 L1073.8,1198.9 L1075.8,1197.3 L1077.8,1195.7 L1079.8,1194.1 L1081.7,1192.5 L1083.7,1191 L1085.6,1189.4 L1087.6,1187.8 L1089.5,1186.2 L1091.5,1184.6 L1093.4,1183 L1095.4,1181.3 L1097.3,1179.7 L1099.2,1178.1 L1101.1,1176.5 L1103.1,1174.8 L1105,1173.2 L1106.9,1171.5 L1108.8,1169.9 L1110.7,1168.2 L1112.5,1166.6 L1114.4,1164.9 L1116.3,1163.2 L1118.2,1161.5 L1120,1159.8 L1121.9,1158.1 L1123.7,1156.4 L1125.6,1154.7 L1127.4,1153 L1129.2,1151.3 L1131,1149.5 L1132.8,1147.8 L1134.6,1146 L1136.4,1144.3 L1138.2,1142.5 L1139.9,1140.7 L1141.7,1138.9 L1143.4,1137.1 L1145.2,1135.3 L1146.9,1133.5 L1148.6,1131.6 L1150.3,1129.8 L1152,1127.9 L1153.7,1126 L1155.3,1124.2 L1157,1122.3 L1158.6,1120.4 L1160.3,1118.4 L1161.9,1116.5 L1163.5,1114.6 L1165.1,1112.6 L1166.7,1110.6 L1168.2,1108.7 L1169.8,1106.7 L1171.3,1104.7 L1172.9,1102.6 L1174.4,1100.6 L1175.9,1098.5 L1177.4,1096.5 L1178.8,1094.4 L1180.3,1092.3 L1181.7,1090.2 L1183.2,1088.1 L1184.6,1085.9 L1186,1083.8 L1187.3,1081.6 L1188.7,1079.4 L1190,1077.2 L1191.4,1075 L1192.7,1072.7 L1194,1070.5 L1195.3,1068.2 L1196.5,1065.9 L1197.8,1063.7 L1199,1061.3 L1200.3,1059 L1201.5,1056.7 L1202.7,1054.3 L1203.9,1052 L1205,1049.6 L1206.2,1047.2 L1207.4,1044.8 L1208.5,1042.4 L1209.6,1040 L1210.8,1037.6 L1211.9,1035.1 L1213,1032.7 L1214.1,1030.2 L1215.1,1027.8 L1216.2,1025.3 L1217.3,1022.8 L1218.4,1020.3 L1219.4,1017.8 L1220.5,1015.3 L1221.5,1012.8 L1222.5,1010.3 L1223.6,1007.8 L1224.6,1005.2 L1225.6,1002.7 L1226.6,1000.2 L1227.6,997.6 L1228.6,995.1 L1229.6,992.5 L1230.6,990 L1231.6,987.4 L1232.6,984.9 L1233.6,982.3 L1233,985.3 L1232.5,988.3 L1231.9,991.3 L1231.4,994.3 L1230.8,997.3 L1230.3,1000.3 L1229.7,1003.3 L1229.1,1006.2 L1228.6,1009.2 L1228,1012.2 L1227.4,1015.2 L1226.9,1018.2 L1226.3,1021.1 L1225.7,1024.1 L1225.1,1027.1 L1224.5,1030 L1223.9,1033 L1223.3,1035.9 L1222.7,1038.9 L1222.1,1041.8 L1221.5,1044.8 L1220.9,1047.7 L1220.3,1050.6 L1219.7,1053.6 L1219,1056.5 L1218.4,1059.4 L1217.8,1062.3 L1217.1,1065.2 L1216.5,1068.1 L1215.8,1071 L1215.2,1073.9 L1214.5,1076.8 L1213.8,1079.7 L1213.2,1082.6 L1212.5,1085.4 L1211.8,1088.3 L1211.1,1091.2 L1210.4,1094 L1209.7,1096.8 L1209,1099.7 L1208.3,1102.5 L1207.5,1105.3 L1206.8,1108.1 L1206,1110.9 L1205.3,1113.7 L1204.5,1116.5 L1203.8,1119.3 L1203,1122.1 L1202.2,1124.8 L1201.4,1127.6 L1200.6,1130.3 L1199.8,1133.1 L1199,1135.8 L1198.1,1138.5 L1197.3,1141.2 L1196.4,1143.9 L1195.6,1146.6 L1194.7,1149.3 L1193.8,1151.9 L1192.9,1154.6 L1192,1157.2 L1191.1,1159.9 L1190.1,1162.5 L1189.2,1165.1 L1188.2,1167.7 L1187.2,1170.2 L1186.3,1172.8 L1185.3,1175.4 L1184.2,1177.9 L1183.2,1180.4 L1182.2,1182.9 L1181.1,1185.4 L1180,1187.9 L1178.9,1190.3 L1177.8,1192.8 L1176.7,1195.2 L1175.6,1197.6 L1174.4,1200 L1173.2,1202.4 L1172.1,1204.7 L1170.8,1207.1 L1169.6,1209.4 L1168.4,1211.7 L1167.1,1214 L1165.8,1216.3 L1164.5,1218.5 L1163.2,1220.8 L1161.9,1223 L1160.5,1225.2 L1159.1,1227.3 L1157.7,1229.5 L1156.3,1231.6 L1154.9,1233.7 L1153.4,1235.8 L1151.9,1237.9 L1150.4,1239.9 L1148.9,1241.9 L1147.3,1243.9 L1145.8,1245.9 L1144.2,1247.9 L1142.6,1249.8 L1140.9,1251.7 L1139.2,1253.6 L1137.6,1255.4 L1135.8,1257.3 L1134.1,1259.1 L1132.3,1260.9 L1130.5,1262.6 L1128.7,1264.4 L1126.9,1266.1 L1125,1267.8 L1123.1,1269.4 L1121.2,1271 L1119.3,1272.7 L1117.3,1274.2 L1115.3,1275.8 L1113.3,1277.3 L1111.2,1278.8 L1109.1,1280.3 L1107,1281.7 L1104.9,1283.1 L1102.8,1284.5 L1100.6,1285.9 L1098.4,1287.3 L1096.2,1288.6 L1093.9,1289.9 L1091.6,1291.2 L1089.3,1292.4 L1087,1293.7 L1084.7,1294.9 L1082.3,1296.1 L1079.9,1297.2 L1077.5,1298.4 L1075.1,1299.5 L1072.7,1300.6 L1070.2,1301.7 L1067.7,1302.7 L1065.2,1303.8 L1062.6,1304.8 L1060.1,1305.8 L1057.5,1306.7 L1054.9,1307.7 L1052.3,1308.6 L1049.6,1309.5 L1047,1310.4 L1044.3,1311.3 L1041.6,1312.1 L1038.9,1313 L1036.2,1313.8 L1033.4,1314.6 L1030.6,1315.4 L1027.9,1316.1 L1025,1316.9 L1022.2,1317.6 L1019.4,1318.3 L1016.5,1319 L1013.6,1319.7 L1010.7,1320.3 L1007.8,1321 L1004.9,1321.6 L1002,1322.2 L999,1322.8 L996,1323.4 L993.1,1323.9 L990,1324.5 L987,1325 L984,1325.5 L980.9,1326 L977.9,1326.5 L974.8,1327 L971.7,1327.4 L968.6,1327.9 L965.5,1328.3 L962.4,1328.7 L959.2,1329.2 L956.1,1329.5 L952.9,1329.9 L949.7,1330.3 L946.5,1330.6 L943.3,1331 L940.1,1331.3 L936.9,1331.6 L933.6,1332 L930.4,1332.2 L927.1,1332.5 L923.8,1332.8 L920.5,1333.1 L917.3,1333.3 L913.9,1333.6 L910.6,1333.8 L907.3,1334 L904,1334.3 L900.6,1334.5 L897.3,1334.7 L893.9,1334.9 L890.6,1335 L887.2,1335.2 L883.8,1335.4 L880.4,1335.5 L877,1335.7 L873.6,1335.8 L870.2,1335.9 L866.8,1336 L863.3,1336.1 L859.9,1336.1 L856.5,1336.1 L853,1336.1 L849.6,1336.1 L846.1,1336.1 L842.7,1336 L839.2,1336 L835.7,1335.9 L832.2,1335.8 L828.8,1335.7 L825.3,1335.6 L821.8,1335.6 L818.3,1335.5 L814.8,1335.4 L811.3,1335.4 L807.8,1335.3 L804.3,1335.3 L800.8,1335.3 L797.3,1335.3 L793.7,1335.3 L790.2,1335.4 L786.7,1335.4 L783.2,1335.5 L779.7,1335.6 L776.1,1335.7 L772.6,1335.7 L769.1,1335.8 L765.6,1335.9 L762,1336 L758.5,1336.1 L755,1336.2 L751.5,1336.2 L748,1336.3 L744.4,1336.4 L740.9,1336.5 L737.4,1336.6 L733.9,1336.7 L730.3,1336.8 L726.8,1336.9 L723.3,1337 L719.8,1337.1 L716.3,1337.3 L712.8,1337.4 L709.3,1337.5 L705.8,1337.6 L702.3,1337.7 L698.8,1337.8 L695.3,1337.9 L691.8,1338.1 L688.3,1338.2 L684.9,1338.3 L681.4,1338.4 L677.9,1338.5 L674.5,1338.7 L671,1338.8 L667.6,1338.9 L664.1,1339 L660.7,1339.2 L657.3,1339.3 L653.8,1339.4 L650.4,1339.5 L647,1339.7 L643.6,1339.8 L640.2,1339.9 L636.8,1340.1 L633.4,1340.2 L630.1,1340.3 L626.7,1340.4 L623.3,1340.6 L620,1340.7 L616.7,1340.8 L613.3,1341 L610,1341.1" stroke="#008000" stroke-width="7.1"/>
<path d="M610,1336.4 L613.3,1336.3 L616.6,1336.1 L619.9,1336 L623.2,1335.8 L626.6,1335.7 L629.9,1335.6 L633.3,1335.4 L636.7,1335.3 L640,1335.2 L643.4,1335.1 L646.8,1334.9 L650.3,1334.8 L653.7,1334.7 L657.1,1334.6 L660.6,1334.5 L664,1334.4 L667.5,1334.3 L670.9,1334.2 L674.4,1334.1 L677.9,1334 L681.4,1333.9 L684.8,1333.8 L688.3,1333.6 L691.8,1333.5 L695.3,1333.4 L698.8,1333.3 L702.3,1333.2 L705.8,1333.1 L709.3,1333 L712.8,1332.9 L716.3,1332.8 L719.8,1332.7 L723.3,1332.6 L726.8,1332.5 L730.3,1332.4 L733.8,1332.3 L737.3,1332.2 L740.8,1332.1 L744.3,1332 L747.8,1331.9 L751.3,1331.7 L754.8,1331.6 L758.2,1331.5 L761.7,1331.4 L765.1,1331.2 L768.6,1331.1 L772,1331 L775.5,1330.8 L778.9,1330.7 L782.3,1330.6 L785.7,1330.4 L789.1,1330.3 L792.5,1330.1 L795.8,1329.9 L799.2,1329.8 L802.5,1329.6 L805.9,1329.4 L809.2,1329.2 L812.5,1328.9 L815.8,1328.7 L819.1,1328.4 L822.3,1328.1 L825.6,1327.8 L828.8,1327.5 L832,1327.1 L835.2,1326.8 L838.4,1326.3 L841.5,1325.9 L844.7,1325.4 L847.8,1325 L850.9,1324.4 L854,1323.9 L857,1323.3 L860.1,1322.7 L863.1,1322.1 L866.1,1321.4 L869.1,1320.8 L872,1320.1 L875,1319.4 L877.9,1318.8 L880.8,1318.1 L883.7,1317.4 L886.6,1316.8 L889.4,1316 L892.2,1315.3 L895,1314.6 L897.8,1313.8 L900.6,1313 L903.4,1312.2 L906.1,1311.4 L908.8,1310.6 L911.5,1309.7 L914.2,1308.9 L916.9,1308 L919.5,1307.1 L922.1,1306.1 L924.8,1305.2 L927.4,1304.2 L929.9,1303.3 L932.5,1302.3 L935,1301.3 L937.6,1300.2 L940.1,1299.2 L942.6,1298.1 L945,1297.1 L947.5,1296 L950,1294.9 L952.4,1293.7 L954.8,1292.6 L957.2,1291.5 L959.6,1290.3 L961.9,1289.1 L964.3,1287.9 L966.6,1286.7 L968.9,1285.4 L971.3,1284.2 L973.5,1282.9 L975.8,1281.7 L978.1,1280.4 L980.3,1279.1 L982.6,1277.7 L984.8,1276.4 L987,1275.1 L989.2,1273.7 L991.3,1272.3 L993.5,1270.9 L995.6,1269.5 L997.8,1268.1 L999.9,1266.7 L1002,1265.2 L1004.1,1263.8 L1006.2,1262.3 L1008.3,1260.8 L1010.3,1259.3 L1012.4,1257.8 L1014.4,1256.3 L1016.4,1254.8 L1018.5,1253.2 L1020.5,1251.7 L1022.5,1250.1 L1024.5,1248.6 L1026.4,1247 L1028.4,1245.4 L1030.4,1243.9 L1032.4,1242.3 L1034.3,1240.7 L1036.3,1239.1 L1038.2,1237.5 L1040.2,1235.9 L1042.1,1234.3 L1044,1232.6 L1046,1231 L1047.9,1229.4 L1049.8,1227.8 L1051.7,1226.1 L1053.7,1224.5 L1055.6,1222.9 L1057.5,1221.2 L1059.4,1219.6 L1061.3,1218 L1063.3,1216.3 L1065.2,1214.7 L1067.1,1213 L1069,1211.4 L1070.9,1209.8 L1072.9,1208.2 L1074.8,1206.5 L1076.7,1204.9 L1078.6,1203.3 L1080.6,1201.7 L1082.5,1200 L1084.5,1198.4 L1086.4,1196.8 L1088.4,1195.2 L1090.3,1193.6 L1092.3,1192 L1094.2,1190.4 L1096.2,1188.9 L1098.1,1187.3 L1100.1,1185.7 L1102.1,1184.1 L1104,1182.5 L1106,1180.9 L1107.9,1179.3 L1109.9,1177.7 L1111.9,1176.1 L1113.8,1174.5 L1115.8,1172.9 L1117.7,1171.3 L1119.6,1169.7 L1121.6,1168 L1123.5,1166.4 L1125.4,1164.8 L1127.3,1163.1 L1129.2,1161.5 L1131.1,1159.8 L1133,1158.2 L1134.9,1156.5 L1136.8,1154.8 L1138.6,1153.1 L1140.5,1151.4 L1142.3,1149.7 L1144.1,1148 L1145.9,1146.2 L1147.7,1144.5 L1149.5,1142.7 L1151.3,1140.9 L1153.1,1139.1 L1154.8,1137.3 L1156.5,1135.5 L1158.3,1133.7 L1160,1131.8 L1161.6,1130 L1163.3,1128.1 L1164.9,1126.2 L1166.6,1124.2 L1168.2,1122.3 L1169.8,1120.3 L1171.3,1118.3 L1172.9,1116.3 L1174.4,1114.3 L1175.9,1112.3 L1177.4,1110.2 L1178.9,1108.1 L1180.3,1106 L1181.8,1103.9 L1183.2,1101.8 L1184.6,1099.6 L1186,1097.4 L1187.3,1095.3 L1188.7,1093 L1190,1090.8 L1191.3,1088.6 L1192.6,1086.3 L1193.9,1084.1 L1195.2,1081.8 L1196.4,1079.5 L1197.7,1077.2 L1198.9,1074.9 L1200.1,1072.5 L1201.3,1070.2 L1202.5,1067.8 L1203.7,1065.4 L1204.9,1063 L1206,1060.6 L1207.1,1058.2 L1208.3,1055.8 L1209.4,1053.4 L1210.5,1050.9 L1211.6,1048.4 L1212.7,1046 L1213.7,1043.5 L1214.8,1041 L1215.9,1038.5 L1216.9,1036 L1217.9,1033.5 L1219,1031 L1220,1028.4 L1221,1025.9 L1222,1023.3 L1223,1020.8 L1224,1018.2 L1225,1015.7 L1226,1013.1 L1226.9,1010.5 L1227.9,1007.9 L1228.9,1005.3 L1229.8,1002.7 L1230.8,1000.1 L1231.7,997.5 L1232.7,994.9 L1233.6,992.3 L1233,995.3 L1232.4,998.2 L1231.8,1001.2 L1231.2,1004.1 L1230.6,1007.1 L1230.1,1010.1 L1229.5,1013 L1228.9,1016 L1228.3,1019 L1227.7,1021.9 L1227.1,1024.9 L1226.5,1027.9 L1225.9,1030.8 L1225.4,1033.8 L1224.8,1036.8 L1224.2,1039.7 L1223.6,1042.7 L1223,1045.6 L1222.4,1048.6 L1221.8,1051.5 L1221.2,1054.5 L1220.6,1057.4 L1220,1060.4 L1219.4,1063.3 L1218.8,1066.3 L1218.1,1069.2 L1217.5,1072.1 L1216.9,1075.1 L1216.3,1078 L1215.6,1080.9 L1215,1083.8 L1214.3,1086.7 L1213.7,1089.6 L1213,1092.5 L1212.4,1095.4 L1211.7,1098.3 L1211,1101.2 L1210.3,1104.1 L1209.7,1106.9 L1209,1109.8 L1208.3,1112.6 L1207.6,1115.5 L1206.8,1118.3 L1206.1,1121.1 L1205.4,1124 L1204.6,1126.8 L1203.9,1129.6 L1203.1,1132.4 L1202.4,1135.1 L1201.6,1137.9 L1200.8,1140.7 L1200,1143.4 L1199.2,1146.2 L1198.4,1148.9 L1197.5,1151.6 L1196.7,1154.4 L1195.8,1157 L1195,1159.7 L1194.1,1162.4 L1193.2,1165.1 L1192.3,1167.7 L1191.4,1170.3 L1190.4,1173 L1189.5,1175.6 L1188.5,1178.2 L1187.6,1180.7 L1186.6,1183.3 L1185.6,1185.8 L1184.5,1188.4 L1183.5,1190.9 L1182.4,1193.4 L1181.4,1195.9 L1180.3,1198.3 L1179.2,1200.8 L1178,1203.2 L1176.9,1205.6 L1175.7,1208 L1174.6,1210.4 L1173.4,1212.7 L1172.1,1215.1 L1170.9,1217.4 L1169.6,1219.7 L1168.4,1221.9 L1167.1,1224.2 L1165.7,1226.4 L1164.4,1228.6 L1163,1230.8 L1161.7,1233 L1160.3,1235.1 L1158.8,1237.3 L1157.4,1239.4 L1155.9,1241.4 L1154.4,1243.5 L1152.9,1245.5 L1151.3,1247.5 L1149.8,1249.5 L1148.2,1251.5 L1146.5,1253.4 L1144.9,1255.3 L1143.2,1257.2 L1141.5,1259 L1139.8,1260.9 L1138.1,1262.7 L1136.3,1264.5 L1134.5,1266.2 L1132.6,1267.9 L1130.8,1269.6 L1128.9,1271.3 L1127,1272.9 L1125,1274.5 L1123.1,1276.1 L1121.1,1277.7 L1119,1279.2 L1117,1280.7 L1114.9,1282.2 L1112.8,1283.6 L1110.7,1285 L1108.5,1286.4 L1106.3,1287.8 L1104.1,1289.1 L1101.9,1290.5 L1099.6,1291.7 L1097.3,1293 L1095,1294.3 L1092.7,1295.5 L1090.3,1296.7 L1088,1297.9 L1085.6,1299 L1083.1,1300.1 L1080.7,1301.2 L1078.2,1302.3 L1075.7,1303.4 L1073.2,1304.4 L1070.7,1305.4 L1068.1,1306.4 L1065.5,1307.4 L1062.9,1308.4 L1060.3,1309.3 L1057.7,1310.2 L1055,1311.1 L1052.3,1312 L1049.6,1312.8 L1046.9,1313.6 L1044.2,1314.4 L1041.4,1315.2 L1038.6,1316 L1035.8,1316.8 L1033,1317.5 L1030.2,1318.2 L1027.3,1318.9 L1024.4,1319.6 L1021.5,1320.3 L1018.6,1320.9 L1015.7,1321.5 L1012.8,1322.1 L1009.8,1322.7 L1006.8,1323.3 L1003.9,1323.9 L1000.8,1324.4 L997.8,1325 L994.8,1325.5 L991.7,1326 L988.7,1326.5 L985.6,1326.9 L982.5,1327.4 L979.4,1327.8 L976.3,1328.3 L973.1,1328.7 L970,1329.1 L966.8,1329.5 L963.6,1329.8 L960.4,1330.2 L957.2,1330.6 L954,1330.9 L950.8,1331.2 L947.6,1331.5 L944.3,1331.8 L941.1,1332.1 L937.8,1332.4 L934.5,1332.7 L931.2,1332.9 L927.9,1333.2 L924.6,1333.4 L921.3,1333.7 L917.9,1333.9 L914.6,1334.1 L911.2,1334.3 L907.9,1334.5 L904.5,1334.7 L901.1,1334.9 L897.8,1335 L894.4,1335.2 L891,1335.3 L887.6,1335.5 L884.1,1335.6 L880.7,1335.8 L877.3,1335.9 L873.9,1336 L870.4,1336.1 L867,1336.1 L863.5,1336.2 L860.1,1336.2 L856.6,1336.2 L853.1,1336.2 L849.7,1336.1 L846.2,1336.1 L842.7,1336 L839.2,1336 L835.7,1335.9 L832.2,1335.8 L828.7,1335.7 L825.2,1335.6 L821.7,1335.5 L818.2,1335.5 L814.7,1335.4 L811.2,1335.3 L807.7,1335.3 L804.2,1335.3 L800.7,1335.3 L797.2,1335.3 L793.6,1335.3 L790.1,1335.4 L786.6,1335.4 L783.1,1335.5 L779.5,1335.6 L776,1335.7 L772.5,1335.7 L769,1335.8 L765.4,1335.9 L761.9,1336 L758.4,1336.1 L754.9,1336.2 L751.3,1336.2 L747.8,1336.3 L744.3,1336.4 L740.8,1336.5 L737.3,1336.6 L733.7,1336.7 L730.2,1336.8 L726.7,1336.9 L723.2,1337 L719.7,1337.1 L716.2,1337.3 L712.7,1337.4 L709.2,1337.5 L705.7,1337.6 L702.2,1337.7 L698.7,1337.8 L695.2,1337.9 L691.8,1338.1 L688.3,1338.2 L684.8,1338.3 L681.4,1338.4 L677.9,1338.5 L674.4,1338.7 L671,1338.8 L667.5,1338.9 L664.1,1339 L660.7,1339.2 L657.2,1339.3 L653.8,1339.4 L650.4,1339.5 L647,1339.7 L643.6,1339.8 L640.2,1339.9 L636.8,1340.1 L633.4,1340.2 L630.1,1340.3 L626.7,1340.4 L623.3,1340.6 L620,1340.7 L616.7,1340.8 L613.3,1341 L610,1341.1" stroke="#000080" stroke-width="7.1"/>
<path d="M610,1336.4 L613.6,1336.2 L617.1,1336.1 L620.7,1335.9 L624.2,1335.8 L627.7,1335.7 L631.1,1335.5 L634.5,1335.4 L638,1335.3 L641.4,1335.1 L644.8,1335 L648.1,1334.9 L651.5,1334.8 L654.9,1334.7 L658.2,1334.6 L661.6,1334.5 L664.9,1334.4 L668.3,1334.3 L671.6,1334.1 L674.9,1334 L678.3,1333.9 L681.7,1333.8 L685,1333.7 L688.4,1333.6 L691.8,1333.5 L695.2,1333.4 L698.6,1333.4 L702,1333.3 L705.5,1333.2 L708.9,1333.1 L712.4,1333 L715.8,1332.9 L719.3,1332.7 L722.8,1332.6 L726.3,1332.5 L729.8,1332.4 L733.2,1332.3 L736.7,1332.2 L740.2,1332.1 L743.7,1332 L747.2,1331.9 L750.7,1331.8 L754.2,1331.6 L757.7,1331.5 L761.2,1331.4 L764.7,1331.3 L768.2,1331.1 L771.7,1331 L775.2,1330.9 L778.7,1330.7 L782.1,1330.6 L785.6,1330.4 L789.1,1330.3 L792.5,1330.1 L795.9,1329.9 L799.4,1329.8 L802.8,1329.6 L806.2,1329.4 L809.6,1329.2 L813,1329 L816.4,1328.7 L819.7,1328.5 L823.1,1328.3 L826.4,1328 L829.7,1327.8 L833,1327.5 L836.3,1327.2 L839.5,1326.9 L842.8,1326.5 L846,1326.2 L849.2,1325.8 L852.4,1325.4 L855.5,1324.9 L858.6,1324.5 L861.8,1324 L864.9,1323.5 L867.9,1322.9 L871,1322.4 L874,1321.8 L877,1321.3 L880,1320.7 L883,1320.1 L885.9,1319.5 L888.9,1318.9 L891.8,1318.2 L894.7,1317.6 L897.6,1316.9 L900.4,1316.2 L903.3,1315.5 L906.1,1314.8 L908.9,1314 L911.7,1313.3 L914.5,1312.5 L917.3,1311.7 L920,1310.9 L922.7,1310.1 L925.5,1309.2 L928.2,1308.4 L930.9,1307.5 L933.5,1306.6 L936.2,1305.7 L938.8,1304.8 L941.5,1303.9 L944.1,1303 L946.7,1302 L949.3,1301.1 L951.9,1300.1 L954.4,1299.1 L957,1298.1 L959.5,1297.1 L962.1,1296.1 L964.6,1295 L967.1,1294 L969.6,1292.9 L972.1,1291.9 L974.6,1290.8 L977,1289.7 L979.5,1288.6 L982,1287.5 L984.4,1286.4 L986.8,1285.3 L989.3,1284.1 L991.7,1283 L994.1,1281.8 L996.5,1280.7 L998.9,1279.5 L1001.3,1278.4 L1003.6,1277.2 L1006,1276 L1008.4,1274.8 L1010.7,1273.6 L1013.1,1272.4 L1015.5,1271.2 L1017.8,1270 L1020.1,1268.8 L1022.5,1267.6 L1024.8,1266.3 L1027.1,1265.1 L1029.4,1263.9 L1031.8,1262.6 L1034.1,1261.4 L1036.4,1260.1 L1038.7,1258.9 L1040.9,1257.6 L1043.2,1256.3 L1045.5,1255 L1047.8,1253.7 L1050,1252.4 L1052.3,1251.1 L1054.5,1249.8 L1056.8,1248.5 L1059,1247.2 L1061.2,1245.8 L1063.4,1244.5 L1065.6,1243.2 L1067.8,1241.8 L1070,1240.4 L1072.2,1239.1 L1074.4,1237.7 L1076.5,1236.3 L1078.7,1234.9 L1080.8,1233.5 L1083,1232.1 L1085.1,1230.6 L1087.2,1229.2 L1089.3,1227.7 L1091.4,1226.3 L1093.5,1224.8 L1095.6,1223.3 L1097.7,1221.9 L1099.7,1220.4 L1101.8,1218.9 L1103.8,1217.3 L1105.8,1215.8 L1107.9,1214.3 L1109.9,1212.7 L1111.9,1211.1 L1113.8,1209.6 L1115.8,1208 L1117.8,1206.4 L1119.7,1204.8 L1121.7,1203.2 L1123.6,1201.5 L1125.5,1199.9 L1127.4,1198.2 L1129.3,1196.6 L1131.1,1194.9 L1133,1193.2 L1134.9,1191.5 L1136.7,1189.7 L1138.5,1188 L1140.3,1186.3 L1142.1,1184.5 L1143.9,1182.7 L1145.7,1180.9 L1147.4,1179.1 L1149.1,1177.3 L1150.9,1175.5 L1152.6,1173.6 L1154.3,1171.8 L1156,1169.9 L1157.6,1168 L1159.3,1166.1 L1160.9,1164.2 L1162.5,1162.2 L1164.1,1160.3 L1165.7,1158.3 L1167.3,1156.3 L1168.9,1154.3 L1170.4,1152.3 L1171.9,1150.3 L1173.4,1148.2 L1174.9,1146.2 L1176.4,1144.1 L1177.8,1142 L1179.3,1139.9 L1180.7,1137.8 L1182.1,1135.6 L1183.5,1133.4 L1184.9,1131.3 L1186.2,1129.1 L1187.6,1126.8 L1188.9,1124.6 L1190.2,1122.3 L1191.5,1120.1 L1192.7,1117.8 L1194,1115.5 L1195.2,1113.1 L1196.4,1110.8 L1197.6,1108.4 L1198.8,1106.1 L1200,1103.7 L1201.1,1101.3 L1202.3,1098.9 L1203.4,1096.4 L1204.5,1094 L1205.6,1091.5 L1206.7,1089.1 L1207.8,1086.6 L1208.9,1084.1 L1209.9,1081.6 L1211,1079.1 L1212,1076.6 L1213.1,1074.1 L1214.1,1071.6 L1215.2,1069.1 L1216.2,1066.5 L1217.2,1064 L1218.2,1061.5 L1219.3,1058.9 L1220.3,1056.4 L1221.3,1053.9 L1222.3,1051.3 L1223.3,1048.8 L1224.3,1046.2 L1225.3,1043.7 L1226.4,1041.2 L1227.4,1038.6 L1228.4,1036.1 L1229.4,1033.6 L1230.5,1031 L1231.5,1028.5 L1232.5,1026 L1233.6,1023.5 L1232.9,1026.4 L1232.2,1029.2 L1231.5,1032.1 L1230.9,1035 L1230.2,1037.9 L1229.5,1040.8 L1228.9,1043.7 L1228.2,1046.6 L1227.6,1049.5 L1226.9,1052.4 L1226.3,1055.3 L1225.7,1058.2 L1225,1061.1 L1224.4,1064.1 L1223.7,1067 L1223.1,1069.9 L1222.5,1072.8 L1221.9,1075.8 L1221.2,1078.7 L1220.6,1081.6 L1220,1084.5 L1219.3,1087.5 L1218.7,1090.4 L1218.1,1093.3 L1217.4,1096.2 L1216.8,1099.1 L1216.1,1102.1 L1215.5,1105 L1214.8,1107.9 L1214.2,1110.8 L1213.5,1113.7 L1212.9,1116.6 L1212.2,1119.4 L1211.5,1122.3 L1210.8,1125.2 L1210.1,1128.1 L1209.4,1130.9 L1208.7,1133.8 L1208,1136.6 L1207.3,1139.4 L1206.6,1142.3 L1205.8,1145.1 L1205.1,1147.9 L1204.3,1150.7 L1203.5,1153.5 L1202.8,1156.2 L1202,1159 L1201.2,1161.8 L1200.3,1164.5 L1199.5,1167.2 L1198.7,1169.9 L1197.8,1172.6 L1196.9,1175.3 L1196.1,1178 L1195.2,1180.7 L1194.2,1183.3 L1193.3,1185.9 L1192.4,1188.5 L1191.4,1191.1 L1190.4,1193.7 L1189.4,1196.3 L1188.4,1198.8 L1187.4,1201.3 L1186.3,1203.9 L1185.3,1206.3 L1184.2,1208.8 L1183.1,1211.3 L1182,1213.7 L1180.8,1216.1 L1179.7,1218.5 L1178.5,1220.9 L1177.3,1223.2 L1176,1225.5 L1174.8,1227.9 L1173.5,1230.1 L1172.2,1232.4 L1170.9,1234.6 L1169.5,1236.8 L1168.2,1239 L1166.8,1241.2 L1165.4,1243.3 L1163.9,1245.4 L1162.4,1247.5 L1161,1249.6 L1159.4,1251.6 L1157.9,1253.6 L1156.3,1255.6 L1154.7,1257.6 L1153.1,1259.5 L1151.4,1261.4 L1149.7,1263.2 L1148,1265.1 L1146.2,1266.9 L1144.5,1268.6 L1142.6,1270.4 L1140.8,1272.1 L1138.9,1273.8 L1137,1275.4 L1135.1,1277.1 L1133.1,1278.7 L1131.1,1280.2 L1129.1,1281.8 L1127.1,1283.3 L1125,1284.7 L1122.9,1286.2 L1120.7,1287.6 L1118.6,1289 L1116.4,1290.4 L1114.2,1291.7 L1111.9,1293 L1109.6,1294.3 L1107.3,1295.6 L1105,1296.8 L1102.7,1298 L1100.3,1299.2 L1097.9,1300.3 L1095.5,1301.5 L1093,1302.6 L1090.5,1303.6 L1088,1304.7 L1085.5,1305.7 L1083,1306.8 L1080.4,1307.7 L1077.8,1308.7 L1075.2,1309.6 L1072.6,1310.6 L1069.9,1311.5 L1067.2,1312.3 L1064.5,1313.2 L1061.8,1314 L1059.1,1314.8 L1056.3,1315.6 L1053.5,1316.4 L1050.7,1317.2 L1047.9,1317.9 L1045,1318.6 L1042.2,1319.3 L1039.3,1320 L1036.4,1320.6 L1033.5,1321.3 L1030.5,1321.9 L1027.6,1322.5 L1024.6,1323.1 L1021.6,1323.6 L1018.6,1324.2 L1015.6,1324.7 L1012.6,1325.2 L1009.5,1325.7 L1006.4,1326.2 L1003.4,1326.7 L1000.2,1327.2 L997.1,1327.6 L994,1328 L990.9,1328.4 L987.7,1328.8 L984.5,1329.2 L981.3,1329.6 L978.1,1329.9 L974.9,1330.3 L971.7,1330.6 L968.5,1330.9 L965.2,1331.2 L962,1331.5 L958.7,1331.8 L955.4,1332.1 L952.1,1332.4 L948.8,1332.6 L945.5,1332.9 L942.2,1333.1 L938.8,1333.3 L935.5,1333.5 L932.1,1333.7 L928.8,1333.9 L925.4,1334.1 L922,1334.3 L918.6,1334.4 L915.2,1334.6 L911.8,1334.8 L908.4,1334.9 L905,1335 L901.6,1335.2 L898.1,1335.3 L894.7,1335.4 L891.3,1335.5 L887.8,1335.6 L884.4,1335.7 L880.9,1335.8 L877.4,1335.9 L874,1336 L870.5,1336.1 L867,1336.1 L863.6,1336.1 L860.1,1336.1 L856.6,1336.1 L853.1,1336.1 L849.6,1336 L846.1,1336 L842.6,1335.9 L839.1,1335.9 L835.6,1335.8 L832.1,1335.7 L828.6,1335.6 L825.1,1335.6 L821.6,1335.5 L818.1,1335.4 L814.6,1335.4 L811.1,1335.3 L807.6,1335.3 L804.1,1335.3 L800.6,1335.3 L797.1,1335.3 L793.6,1335.3 L790.1,1335.4 L786.5,1335.4 L783,1335.5 L779.5,1335.6 L776,1335.7 L772.5,1335.7 L769,1335.8 L765.5,1335.9 L762,1336 L758.5,1336.1 L755,1336.2 L751.5,1336.2 L748,1336.3 L744.4,1336.4 L740.9,1336.5 L737.4,1336.6 L733.9,1336.7 L730.5,1336.8 L727,1336.9 L723.5,1337 L720,1337.1 L716.5,1337.2 L713,1337.4 L709.5,1337.5 L706,1337.6 L702.5,1337.7 L699.1,1337.8 L695.6,1337.9 L692.1,1338 L688.7,1338.2 L685.2,1338.3 L681.7,1338.4 L678.3,1338.5 L674.8,1338.6 L671.4,1338.8 L667.9,1338.9 L664.5,1339 L661,1339.1 L657.6,1339.3 L654.2,1339.4 L650.7,1339.5 L647.3,1339.7 L643.9,1339.8 L640.5,1339.9 L637.1,1340 L633.7,1340.2 L630.3,1340.3 L626.9,1340.4 L623.5,1340.6 L620.1,1340.7 L616.7,1340.8 L613.4,1341 L610,1341.1" stroke="#8000ff" stroke-width="7.1"/>
<path d="M610,1335.4 L613.4,1335.2 L616.8,1335.1 L620.2,1335 L623.7,1334.8 L627.1,1334.7 L630.5,1334.5 L633.9,1334.4 L637.4,1334.3 L640.8,1334.2 L644.3,1334 L647.7,1333.9 L651.1,1333.8 L654.6,1333.7 L658,1333.6 L661.5,1333.5 L664.9,1333.4 L668.4,1333.2 L671.9,1333.1 L675.3,1333 L678.8,1332.9 L682.2,1332.8 L685.7,1332.7 L689.1,1332.6 L692.6,1332.5 L696.1,1332.4 L699.5,1332.3 L703,1332.2 L706.5,1332.1 L709.9,1332 L713.4,1331.9 L716.8,1331.8 L720.3,1331.7 L723.8,1331.6 L727.2,1331.5 L730.7,1331.4 L734.1,1331.3 L737.6,1331.2 L741,1331.1 L744.5,1331 L747.9,1330.9 L751.4,1330.7 L754.8,1330.6 L758.3,1330.5 L761.7,1330.4 L765.1,1330.2 L768.6,1330.1 L772,1330 L775.4,1329.8 L778.8,1329.7 L782.3,1329.6 L785.7,1329.4 L789.1,1329.3 L792.5,1329.1 L795.9,1329 L799.3,1328.8 L802.7,1328.6 L806.1,1328.5 L809.5,1328.3 L812.8,1328.1 L816.2,1327.9 L819.6,1327.7 L822.9,1327.5 L826.3,1327.3 L829.7,1327.1 L833,1326.9 L836.3,1326.7 L839.7,1326.4 L843,1326.2 L846.3,1326 L849.6,1325.7 L852.9,1325.5 L856.2,1325.2 L859.5,1324.9 L862.8,1324.6 L866.1,1324.4 L869.4,1324.1 L872.6,1323.8 L875.9,1323.5 L879.1,1323.1 L882.4,1322.8 L885.6,1322.5 L888.8,1322.2 L892,1321.8 L895.2,1321.4 L898.4,1321.1 L901.6,1320.7 L904.8,1320.3 L908,1319.9 L911.1,1319.5 L914.3,1319.1 L917.4,1318.7 L920.5,1318.2 L923.6,1317.8 L926.7,1317.3 L929.8,1316.9 L932.9,1316.4 L936,1315.9 L939.1,1315.4 L942.1,1314.9 L945.1,1314.4 L948.2,1313.8 L951.2,1313.3 L954.2,1312.7 L957.2,1312.1 L960.2,1311.6 L963.1,1311 L966.1,1310.4 L969,1309.7 L971.9,1309.1 L974.9,1308.5 L977.8,1307.8 L980.7,1307.1 L983.5,1306.4 L986.4,1305.7 L989.2,1305 L992.1,1304.3 L994.9,1303.5 L997.7,1302.8 L1000.5,1302 L1003.3,1301.2 L1006,1300.4 L1008.8,1299.6 L1011.5,1298.8 L1014.2,1297.9 L1016.9,1297.1 L1019.6,1296.2 L1022.3,1295.3 L1024.9,1294.4 L1027.6,1293.5 L1030.2,1292.6 L1032.8,1291.6 L1035.4,1290.6 L1038,1289.6 L1040.5,1288.7 L1043.1,1287.6 L1045.6,1286.6 L1048.1,1285.6 L1050.6,1284.5 L1053.1,1283.4 L1055.6,1282.3 L1058,1281.2 L1060.5,1280.1 L1062.9,1279 L1065.3,1277.8 L1067.7,1276.6 L1070.1,1275.4 L1072.4,1274.2 L1074.8,1273 L1077.1,1271.8 L1079.4,1270.5 L1081.7,1269.3 L1084,1268 L1086.2,1266.7 L1088.5,1265.3 L1090.7,1264 L1092.9,1262.7 L1095.1,1261.3 L1097.3,1259.9 L1099.4,1258.5 L1101.6,1257.1 L1103.7,1255.6 L1105.8,1254.2 L1107.9,1252.7 L1110,1251.2 L1112,1249.7 L1114.1,1248.2 L1116.1,1246.7 L1118.1,1245.1 L1120.1,1243.5 L1122.1,1241.9 L1124,1240.3 L1126,1238.7 L1127.9,1237.1 L1129.8,1235.4 L1131.7,1233.7 L1133.5,1232 L1135.4,1230.3 L1137.2,1228.6 L1139,1226.8 L1140.8,1225.1 L1142.6,1223.3 L1144.3,1221.5 L1146.1,1219.7 L1147.8,1217.8 L1149.5,1216 L1151.2,1214.1 L1152.9,1212.2 L1154.5,1210.3 L1156.1,1208.3 L1157.7,1206.4 L1159.3,1204.4 L1160.9,1202.4 L1162.5,1200.4 L1164,1198.4 L1165.5,1196.4 L1167,1194.3 L1168.5,1192.2 L1170,1190.1 L1171.4,1188 L1172.8,1185.9 L1174.2,1183.7 L1175.6,1181.5 L1177,1179.3 L1178.3,1177.1 L1179.7,1174.9 L1181,1172.6 L1182.3,1170.4 L1183.5,1168.1 L1184.8,1165.8 L1186,1163.4 L1187.2,1161.1 L1188.4,1158.7 L1189.6,1156.3 L1190.8,1153.9 L1191.9,1151.5 L1193,1149.1 L1194.1,1146.6 L1195.2,1144.1 L1196.3,1141.7 L1197.4,1139.2 L1198.4,1136.6 L1199.4,1134.1 L1200.5,1131.6 L1201.5,1129 L1202.5,1126.5 L1203.5,1123.9 L1204.5,1121.3 L1205.5,1118.7 L1206.4,1116.2 L1207.4,1113.6 L1208.4,1111 L1209.3,1108.4 L1210.3,1105.7 L1211.2,1103.1 L1212.1,1100.5 L1213.1,1097.9 L1214,1095.3 L1215,1092.6 L1215.9,1090 L1216.8,1087.4 L1217.8,1084.8 L1218.7,1082.1 L1219.7,1079.5 L1220.6,1076.9 L1221.6,1074.3 L1222.5,1071.7 L1223.5,1069.1 L1224.5,1066.5 L1225.4,1063.9 L1226.4,1061.4 L1227.4,1058.8 L1228.4,1056.2 L1229.4,1053.7 L1230.5,1051.1 L1231.5,1048.6 L1232.5,1046.1 L1233.6,1043.6 L1233,1046.6 L1232.4,1049.6 L1231.9,1052.6 L1231.3,1055.5 L1230.7,1058.5 L1230.1,1061.5 L1229.6,1064.5 L1229,1067.5 L1228.4,1070.5 L1227.9,1073.5 L1227.3,1076.5 L1226.7,1079.5 L1226.1,1082.5 L1225.6,1085.4 L1225,1088.4 L1224.4,1091.4 L1223.8,1094.4 L1223.2,1097.4 L1222.6,1100.3 L1222.1,1103.3 L1221.5,1106.3 L1220.9,1109.2 L1220.2,1112.2 L1219.6,1115.1 L1219,1118.1 L1218.4,1121 L1217.8,1123.9 L1217.1,1126.9 L1216.5,1129.8 L1215.8,1132.7 L1215.1,1135.6 L1214.5,1138.5 L1213.8,1141.3 L1213.1,1144.2 L1212.4,1147.1 L1211.7,1149.9 L1211,1152.8 L1210.3,1155.6 L1209.5,1158.4 L1208.8,1161.3 L1208,1164.1 L1207.2,1166.8 L1206.4,1169.6 L1205.6,1172.4 L1204.8,1175.1 L1204,1177.9 L1203.2,1180.6 L1202.3,1183.3 L1201.4,1186 L1200.6,1188.7 L1199.7,1191.3 L1198.7,1194 L1197.8,1196.6 L1196.9,1199.2 L1195.9,1201.8 L1194.9,1204.4 L1193.9,1207 L1192.9,1209.5 L1191.9,1212 L1190.8,1214.6 L1189.8,1217 L1188.7,1219.5 L1187.6,1222 L1186.4,1224.4 L1185.3,1226.8 L1184.1,1229.2 L1182.9,1231.6 L1181.7,1233.9 L1180.5,1236.2 L1179.2,1238.6 L1177.9,1240.8 L1176.6,1243.1 L1175.3,1245.3 L1173.9,1247.5 L1172.6,1249.7 L1171.2,1251.9 L1169.7,1254 L1168.3,1256.2 L1166.8,1258.2 L1165.3,1260.3 L1163.8,1262.3 L1162.3,1264.3 L1160.7,1266.3 L1159.1,1268.3 L1157.4,1270.2 L1155.8,1272.1 L1154.1,1274 L1152.4,1275.8 L1150.6,1277.7 L1148.8,1279.4 L1147,1281.2 L1145.2,1282.9 L1143.3,1284.6 L1141.4,1286.3 L1139.5,1287.9 L1137.5,1289.5 L1135.6,1291.1 L1133.5,1292.6 L1131.5,1294.1 L1129.4,1295.6 L1127.3,1297 L1125.1,1298.4 L1122.9,1299.8 L1120.7,1301.1 L1118.4,1302.4 L1116.1,1303.7 L1113.8,1305 L1111.4,1306.2 L1109.1,1307.3 L1106.6,1308.5 L1104.2,1309.6 L1101.7,1310.7 L1099.2,1311.7 L1096.7,1312.7 L1094.1,1313.7 L1091.5,1314.7 L1088.9,1315.6 L1086.2,1316.5 L1083.5,1317.4 L1080.8,1318.3 L1078.1,1319.1 L1075.3,1319.9 L1072.5,1320.7 L1069.7,1321.4 L1066.9,1322.1 L1064,1322.8 L1061.1,1323.5 L1058.2,1324.2 L1055.3,1324.8 L1052.3,1325.4 L1049.3,1326 L1046.3,1326.5 L1043.3,1327.1 L1040.3,1327.6 L1037.2,1328.1 L1034.1,1328.6 L1031,1329 L1027.9,1329.5 L1024.8,1329.9 L1021.6,1330.3 L1018.4,1330.7 L1015.2,1331.1 L1012,1331.4 L1008.8,1331.7 L1005.5,1332 L1002.3,1332.3 L999,1332.6 L995.7,1332.9 L992.4,1333.2 L989.1,1333.4 L985.7,1333.6 L982.4,1333.8 L979,1334 L975.6,1334.2 L972.3,1334.4 L968.9,1334.6 L965.4,1334.7 L962,1334.8 L958.6,1335 L955.1,1335.1 L951.7,1335.2 L948.2,1335.3 L944.8,1335.4 L941.3,1335.5 L937.8,1335.6 L934.3,1335.6 L930.8,1335.7 L927.3,1335.7 L923.8,1335.8 L920.3,1335.8 L916.7,1335.9 L913.2,1335.9 L909.7,1335.9 L906.1,1336 L902.6,1336 L899.1,1336 L895.5,1336 L892,1336 L888.4,1336 L884.9,1336 L881.3,1336.1 L877.8,1336.1 L874.2,1336.1 L870.6,1336.1 L867.1,1336.1 L863.5,1336.1 L860,1336.1 L856.4,1336.1 L852.9,1336.1 L849.3,1336.1 L845.8,1336.2 L842.3,1336.2 L838.7,1336.2 L835.2,1336.2 L831.7,1336.3 L828.1,1336.3 L824.6,1336.4 L821.1,1336.4 L817.6,1336.4 L814.1,1336.5 L810.5,1336.5 L807,1336.6 L803.5,1336.6 L800,1336.7 L796.5,1336.8 L793,1336.8 L789.5,1336.9 L786,1337 L782.5,1337 L779,1337.1 L775.6,1337.2 L772.1,1337.2 L768.6,1337.3 L765.1,1337.4 L761.6,1337.5 L758.1,1337.6 L754.7,1337.7 L751.2,1337.7 L747.7,1337.8 L744.3,1337.9 L740.8,1338 L737.3,1338.1 L733.9,1338.2 L730.4,1338.3 L726.9,1338.4 L723.5,1338.5 L720,1338.6 L716.6,1338.7 L713.1,1338.9 L709.7,1339 L706.2,1339.1 L702.8,1339.2 L699.3,1339.3 L695.9,1339.4 L692.4,1339.5 L689,1339.6 L685.5,1339.8 L682.1,1339.9 L678.7,1340 L675.2,1340.1 L671.8,1340.3 L668.3,1340.4 L664.9,1340.5 L661.5,1340.6 L658,1340.8 L654.6,1340.9 L651.2,1341 L647.7,1341.1 L644.3,1341.3 L640.9,1341.4 L637.4,1341.5 L634,1341.7 L630.6,1341.8 L627.1,1341.9 L623.7,1342.1 L620.3,1342.2 L616.9,1342.3 L613.4,1342.5 L610,1342.6" stroke="#800080" stroke-width="7.1"/>
</g>
<line x1="610" y1="806" x2="1358.2" y2="806" stroke="#000" stroke-width="3.5"/>
<line x1="1358.2" y1="804.2" x2="1358.2" y2="1391.5" stroke="#000" stroke-width="3.5"/>
<line x1="610" y1="806" x2="610" y2="1393.3" stroke="#000" stroke-width="3.6"/>
<line x1="608.2" y1="1391.5" x2="1360" y2="1391.5" stroke="#000" stroke-width="4.8"/>
<line x1="609.8" y1="1391.5" x2="609.8" y2="1399" stroke="#000" stroke-width="3.4"/>
<line x1="672.2" y1="1391.5" x2="672.2" y2="1404.5" stroke="#000" stroke-width="3.4"/>
<line x1="734.6" y1="1391.5" x2="734.6" y2="1399" stroke="#000" stroke-width="3.4"/>
<line x1="797" y1="1391.5" x2="797" y2="1404.5" stroke="#000" stroke-width="3.4"/>
<line x1="859.4" y1="1391.5" x2="859.4" y2="1399" stroke="#000" stroke-width="3.4"/>
<line x1="921.8" y1="1391.5" x2="921.8" y2="1404.5" stroke="#000" stroke-width="3.4"/>
<line x1="984.2" y1="1391.5" x2="984.2" y2="1399" stroke="#000" stroke-width="3.4"/>
<line x1="1046.6" y1="1391.5" x2="1046.6" y2="1404.5" stroke="#000" stroke-width="3.4"/>
<line x1="1109" y1="1391.5" x2="1109" y2="1399" stroke="#000" stroke-width="3.4"/>
<line x1="1171.4" y1="1391.5" x2="1171.4" y2="1404.5" stroke="#000" stroke-width="3.4"/>
<line x1="1233.8" y1="1391.5" x2="1233.8" y2="1399" stroke="#000" stroke-width="3.4"/>
<line x1="1296.2" y1="1391.5" x2="1296.2" y2="1404.5" stroke="#000" stroke-width="3.4"/>
<line x1="1358.6" y1="1391.5" x2="1358.6" y2="1399" stroke="#000" stroke-width="3.4"/>
<line x1="602.5" y1="1391.7" x2="610" y2="1391.7" stroke="#000" stroke-width="3.4"/>
<line x1="597" y1="1338.7" x2="610" y2="1338.7" stroke="#000" stroke-width="3.4"/>
<line x1="602.5" y1="1285.7" x2="610" y2="1285.7" stroke="#000" stroke-width="3.4"/>
<line x1="597" y1="1232.7" x2="610" y2="1232.7" stroke="#000" stroke-width="3.4"/>
<line x1="602.5" y1="1179.7" x2="610" y2="1179.7" stroke="#000" stroke-width="3.4"/>
<line x1="597" y1="1126.7" x2="610" y2="1126.7" stroke="#000" stroke-width="3.4"/>
<line x1="602.5" y1="1073.7" x2="610" y2="1073.7" stroke="#000" stroke-width="3.4"/>
<line x1="597" y1="1020.7" x2="610" y2="1020.7" stroke="#000" stroke-width="3.4"/>
<line x1="602.5" y1="967.7" x2="610" y2="967.7" stroke="#000" stroke-width="3.4"/>
<line x1="597" y1="914.7" x2="610" y2="914.7" stroke="#000" stroke-width="3.4"/>
<line x1="602.5" y1="861.7" x2="610" y2="861.7" stroke="#000" stroke-width="3.4"/>
<line x1="597" y1="808.7" x2="610" y2="808.7" stroke="#000" stroke-width="3.4"/>
<text transform="translate(672.2,1438.9) scale(0.990,1)" font-family="'Liberation Serif', 'Times New Roman', serif" font-weight="bold" font-size="35.3" text-anchor="middle" stroke="#000" stroke-width="0.45" stroke-linejoin="round">0.6</text>
<text transform="translate(797,1438.9) scale(0.990,1)" font-family="'Liberation Serif', 'Times New Roman', serif" font-weight="bold" font-size="35.3" text-anchor="middle" stroke="#000" stroke-width="0.45" stroke-linejoin="round">0.8</text>
<text transform="translate(921.8,1438.9) scale(0.990,1)" font-family="'Liberation Serif', 'Times New Roman', serif" font-weight="bold" font-size="35.3" text-anchor="middle" stroke="#000" stroke-width="0.45" stroke-linejoin="round">1.0</text>
<text transform="translate(1046.6,1438.9) scale(0.990,1)" font-family="'Liberation Serif', 'Times New Roman', serif" font-weight="bold" font-size="35.3" text-anchor="middle" stroke="#000" stroke-width="0.45" stroke-linejoin="round">1.2</text>
<text transform="translate(1171.4,1438.9) scale(0.990,1)" font-family="'Liberation Serif', 'Times New Roman', serif" font-weight="bold" font-size="35.3" text-anchor="middle" stroke="#000" stroke-width="0.45" stroke-linejoin="round">1.4</text>
<text transform="translate(1296.2,1438.9) scale(0.990,1)" font-family="'Liberation Serif', 'Times New Roman', serif" font-weight="bold" font-size="35.3" text-anchor="middle" stroke="#000" stroke-width="0.45" stroke-linejoin="round">1.6</text>
<text transform="translate(588.6,1349.4) scale(1.030,1)" font-family="'Liberation Sans', Arial, sans-serif" font-weight="bold" font-size="33.8" text-anchor="end" stroke="#000" stroke-width="0.45" stroke-linejoin="round">0</text>
<text transform="translate(588.6,1243.4) scale(1.030,1)" font-family="'Liberation Sans', Arial, sans-serif" font-weight="bold" font-size="33.8" text-anchor="end" stroke="#000" stroke-width="0.45" stroke-linejoin="round">200</text>
<text transform="translate(588.6,1137.4) scale(1.030,1)" font-family="'Liberation Sans', Arial, sans-serif" font-weight="bold" font-size="33.8" text-anchor="end" stroke="#000" stroke-width="0.45" stroke-linejoin="round">400</text>
<text transform="translate(588.6,1031.4) scale(1.030,1)" font-family="'Liberation Sans', Arial, sans-serif" font-weight="bold" font-size="33.8" text-anchor="end" stroke="#000" stroke-width="0.45" stroke-linejoin="round">600</text>
<text transform="translate(588.6,925.4) scale(1.030,1)" font-family="'Liberation Sans', Arial, sans-serif" font-weight="bold" font-size="33.8" text-anchor="end" stroke="#000" stroke-width="0.45" stroke-linejoin="round">800</text>
<text transform="translate(588.6,819.4) scale(1.030,1)" font-family="'Liberation Sans', Arial, sans-serif" font-weight="bold" font-size="33.8" text-anchor="end" stroke="#000" stroke-width="0.45" stroke-linejoin="round">1000</text>
<text x="704.5" y="1481.9" font-family="'Liberation Serif', 'Times New Roman', serif" font-weight="bold" font-size="38.3" textLength="561" lengthAdjust="spacingAndGlyphs" stroke="#000" stroke-width="0.45" stroke-linejoin="round">Potential(V) vs.Ag/AgCl (3MKCl)</text>
<text transform="translate(506.2,1128.6) rotate(-90)" font-family="'DejaVu Serif', 'Liberation Serif', 'Times New Roman', serif" font-weight="bold" font-size="41.4" stroke="#000" stroke-width="0.45" stroke-linejoin="round">I</text>
<text transform="translate(506.2,1096.4) rotate(-90) scale(1.020,1)" font-family="'Liberation Sans', Arial, sans-serif" font-weight="bold" font-size="42.3" stroke="#000" stroke-width="0.45" stroke-linejoin="round">(<tspan font-family="'Liberation Serif', 'Times New Roman', serif" font-weight="normal" stroke-width="0.2">µ</tspan>A)</text>
<text x="628.6" y="852.3" font-family="'Liberation Sans', Arial, sans-serif" font-weight="bold" font-size="41" stroke="#000" stroke-width="0.45" stroke-linejoin="round">(c)</text>
<text transform="translate(1093.3,857.3) scale(1.080,1)" font-family="'Liberation Serif', 'Times New Roman', serif" font-weight="bold" font-size="39.4" stroke="#000" stroke-width="0.45" stroke-linejoin="round">LNYP</text>
<text x="767" y="1260.8" font-family="'Liberation Serif', 'Times New Roman', serif" font-weight="bold" font-size="30.3" stroke="#000" stroke-width="0.45" stroke-linejoin="round">Scan direction</text>
<line x1="633.4" y1="891.7" x2="703.5" y2="891.7" stroke="#000000" stroke-width="8" stroke-linecap="round"/>
<text x="714.9" y="902" font-family="'Liberation Sans', Arial, sans-serif" font-weight="bold" font-size="26.6" stroke="#000" stroke-width="0.45" stroke-linejoin="round">0.1MKOH+3.2<tspan font-family="'Liberation Serif', 'Times New Roman', serif" font-weight="normal">µ</tspan>M Glu</text>
<line x1="633.4" y1="935.4" x2="703.5" y2="935.4" stroke="#ff0000" stroke-width="8" stroke-linecap="round"/>
<text x="712.6" y="945.7" font-family="'Liberation Sans', Arial, sans-serif" font-weight="bold" font-size="26.6" stroke="#000" stroke-width="0.45" stroke-linejoin="round">0.1MKOH+2.8<tspan font-family="'Liberation Serif', 'Times New Roman', serif" font-weight="normal">µ</tspan>M Glu</text>
<line x1="633.4" y1="979.1" x2="703.5" y2="979.1" stroke="#0000ff" stroke-width="8" stroke-linecap="round"/>
<text x="712.6" y="989.4" font-family="'Liberation Sans', Arial, sans-serif" font-weight="bold" font-size="26.6" stroke="#000" stroke-width="0.45" stroke-linejoin="round">0.1MKOH+2.3<tspan font-family="'Liberation Serif', 'Times New Roman', serif" font-weight="normal">µ</tspan>M Glu</text>
<line x1="633.4" y1="1022.8" x2="703.5" y2="1022.8" stroke="#ff00ff" stroke-width="8" stroke-linecap="round"/>
<text x="712.6" y="1033.1" font-family="'Liberation Sans', Arial, sans-serif" font-weight="bold" font-size="26.6" stroke="#000" stroke-width="0.45" stroke-linejoin="round">0.1MKOH+1.9<tspan font-family="'Liberation Serif', 'Times New Roman', serif" font-weight="normal">µ</tspan>M Glu</text>
<line x1="633.4" y1="1066.5" x2="703.5" y2="1066.5" stroke="#008000" stroke-width="8" stroke-linecap="round"/>
<text x="712.6" y="1076.8" font-family="'Liberation Sans', Arial, sans-serif" font-weight="bold" font-size="26.6" stroke="#000" stroke-width="0.45" stroke-linejoin="round">0.1MKOH+1.4<tspan font-family="'Liberation Serif', 'Times New Roman', serif" font-weight="normal">µ</tspan>M Glu</text>
<line x1="633.4" y1="1110.2" x2="703.5" y2="1110.2" stroke="#000080" stroke-width="8" stroke-linecap="round"/>
<text x="712.6" y="1120.5" font-family="'Liberation Sans', Arial, sans-serif" font-weight="bold" font-size="26.6" stroke="#000" stroke-width="0.45" stroke-linejoin="round">0.1MKOH+0.9<tspan font-family="'Liberation Serif', 'Times New Roman', serif" font-weight="normal">µ</tspan>M Glu</text>
<line x1="633.4" y1="1153.9" x2="703.5" y2="1153.9" stroke="#8000ff" stroke-width="8" stroke-linecap="round"/>
<text x="714.9" y="1164.2" font-family="'Liberation Sans', Arial, sans-serif" font-weight="bold" font-size="26.6" stroke="#000" stroke-width="0.45" stroke-linejoin="round">0.1MKOH+0.4<tspan font-family="'Liberation Serif', 'Times New Roman', serif" font-weight="normal">µ</tspan>M Glu</text>
<line x1="633.4" y1="1197.6" x2="703.5" y2="1197.6" stroke="#800080" stroke-width="8" stroke-linecap="round"/>
<text x="714.9" y="1207.4" font-family="'Liberation Sans', Arial, sans-serif" font-weight="bold" font-size="22.5" stroke="#000" stroke-width="0.45" stroke-linejoin="round">0.1MKOH</text>
<g transform="translate(788.3,1272.9) rotate(0.52)"><line x1="2.4" y1="0" x2="107.1" y2="0" stroke="#000" stroke-width="4.8" stroke-linecap="round"/><path d="M130.8,0 L106.4,-6 L106.4,6 Z" fill="#000" stroke="#000" stroke-width="2.6" stroke-linejoin="round"/></g>
</g>
</svg></body></html>
